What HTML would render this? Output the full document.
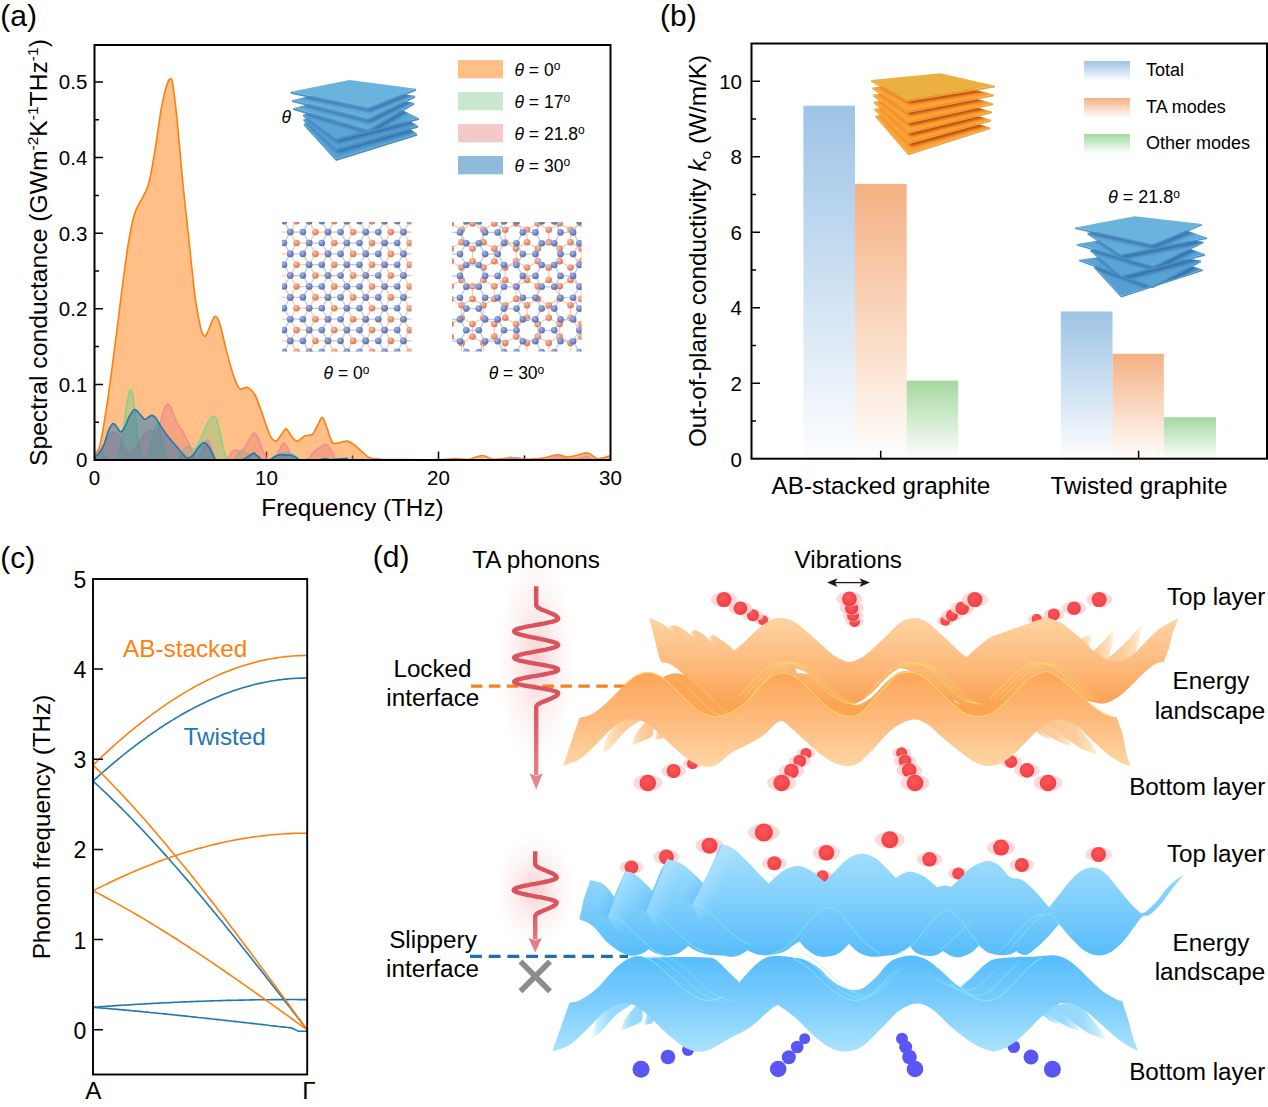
<!DOCTYPE html>
<html><head><meta charset="utf-8"><title>Figure</title>
<style>html,body{margin:0;padding:0;background:#fff}svg{display:block}</style>
</head><body>
<svg width="1268" height="1107" viewBox="0 0 1268 1107">
<rect width="1268" height="1107" fill="#fff"/>
<g id="panelA"><defs><radialGradient id="gAb" cx="0.38" cy="0.32" r="0.75"><stop offset="0" stop-color="#aab8e6"/><stop offset="0.45" stop-color="#7b8dc9"/><stop offset="1" stop-color="#55659f"/></radialGradient><radialGradient id="gAo" cx="0.38" cy="0.32" r="0.75"><stop offset="0" stop-color="#fbc0a6"/><stop offset="0.45" stop-color="#ee977a"/><stop offset="1" stop-color="#c97058"/></radialGradient><circle id="ab" r="3.3" fill="url(#gAb)"/><circle id="ao" r="3.3" fill="url(#gAo)"/><clipPath id="clipL1"><rect x="282" y="222" width="129.5" height="129.5"/></clipPath><clipPath id="clipL2"><rect x="452" y="222" width="129.5" height="129.5"/></clipPath><linearGradient id="gSt1" x1="0" y1="0" x2="1" y2="1"><stop offset="0" stop-color="#62abd8"/><stop offset="1" stop-color="#6db5de"/></linearGradient><linearGradient id="gSt2" x1="0" y1="0" x2="1" y2="0.3"><stop offset="0" stop-color="#4c98cf"/><stop offset="1" stop-color="#65aedb"/></linearGradient><clipPath id="clipA"><rect x="94.5" y="45" width="516" height="415"/></clipPath></defs><path d="M94.5 422.2h4.5M94.5 384.4h8.5M94.5 346.6h4.5M94.5 308.8h8.5M94.5 271h4.5M94.5 233.2h8.5M94.5 195.4h4.5M94.5 157.6h8.5M94.5 119.8h4.5M94.5 82h8.5M180.5 460v-4.5M266.5 460v-8.5M352.5 460v-4.5M438.5 460v-8.5M524.5 460v-4.5" stroke="#000" stroke-width="1.5" fill="none"/><g clip-path="url(#clipA)"><path d="M94.5 454C95.4 452.4 97.8 453.8 100 444.9C102.2 435.9 105.1 416.9 107.6 400.3C110.1 383.6 112.5 364.2 115 345.1C117.5 325.9 120.2 302.9 122.5 285.4C124.9 267.9 126.8 252.1 128.9 240C131 227.9 132.7 219.8 134.9 212.8C137.2 205.7 140.1 202.7 142.5 197.7C144.8 192.6 146.9 190.5 149 182.5C151.1 174.6 153 162.1 155 150C157.1 137.9 159.2 120.4 161.1 110C162.9 99.5 164.6 92.5 166.1 87.3C167.5 82.1 168.9 79.4 170 79C171.2 78.6 171.7 77.3 172.9 85C174.2 92.7 176 109.2 177.6 125.1C179.2 141 180.7 161.1 182.6 180.3C184.5 199.4 186.9 220.9 188.9 240C191 259.2 193.1 281.1 194.9 295.2C196.8 309.3 198.4 317.9 199.9 324.7C201.5 331.5 202.8 334.8 204.1 336C205.3 337.3 206.1 334.9 207.5 332.2C208.9 329.6 211.1 322.8 212.5 320.1C213.9 317.5 214.7 315.6 215.9 316.4C217.2 317.1 218.1 318.3 220.1 324.7C222 331.1 225 345.7 227.5 354.9C229.9 364.1 232.9 374.2 235 379.9C237.1 385.5 237.9 387.7 240 388.9C242.1 390.2 245.1 386.4 247.6 387.4C250.1 388.4 252.5 390.4 255 395C257.5 399.5 260.1 408 262.5 414.6C265 421.3 267.7 430.6 269.9 435.1C272.2 439.5 273.9 441.5 276 441.1C278.1 440.7 280.7 434.8 282.5 432.8C284.2 430.8 284.8 428.2 286.5 429C288.1 429.8 290.5 435.3 292.3 437.3C294.1 439.3 295.3 441.4 297.5 441.1C299.6 440.8 302.5 436.9 305 435.8C307.5 434.7 310.3 436.1 312.4 434.3C314.5 432.5 315.9 428 317.6 425.2C319.3 422.5 320.9 416.9 322.6 417.7C324.2 418.4 325.9 425.6 327.6 429.8C329.2 433.9 330.5 440.5 332.5 442.6C334.6 444.8 337.5 442.9 339.9 442.6C342.4 442.4 345 440.7 347.3 441.1C349.7 441.5 351.6 443 354.2 444.9C356.8 446.8 360.2 450.3 362.8 452.4C365.4 454.6 366.8 456.6 369.7 457.7C372.6 458.9 374.3 458.9 380 459.2C385.8 459.6 394.4 459.6 404.1 459.6C413.8 459.7 429.9 459.8 438.5 459.6C447.1 459.4 450.5 458.6 455.7 458.5C460.9 458.4 465 459.7 469.5 459.2C473.9 458.7 478.3 455.5 482.4 455.5C486.4 455.5 488.5 458.9 493.5 459.2C498.6 459.6 506.7 457.7 512.5 457.7C518.2 457.7 522.5 459.2 527.9 459.2C533.4 459.2 540.3 458.5 545.1 457.7C550 457 553.5 454.8 557.2 454.7C560.9 454.6 564.3 456.9 567.5 457C570.7 457.1 572.7 456.1 576.1 455.5C579.5 454.8 584.7 452.7 588.1 453.2C591.6 453.7 594.2 457.7 596.7 458.5C599.3 459.2 601.3 458.2 603.6 457.7C605.9 457.3 609.4 456.2 610.5 455.8L610.5 460 L94.5 460Z" fill="rgba(255,127,14,0.5)"/><path d="M94.5 454C95.4 452.4 97.8 453.8 100 444.9C102.2 435.9 105.1 416.9 107.6 400.3C110.1 383.6 112.5 364.2 115 345.1C117.5 325.9 120.2 302.9 122.5 285.4C124.9 267.9 126.8 252.1 128.9 240C131 227.9 132.7 219.8 134.9 212.8C137.2 205.7 140.1 202.7 142.5 197.7C144.8 192.6 146.9 190.5 149 182.5C151.1 174.6 153 162.1 155 150C157.1 137.9 159.2 120.4 161.1 110C162.9 99.5 164.6 92.5 166.1 87.3C167.5 82.1 168.9 79.4 170 79C171.2 78.6 171.7 77.3 172.9 85C174.2 92.7 176 109.2 177.6 125.1C179.2 141 180.7 161.1 182.6 180.3C184.5 199.4 186.9 220.9 188.9 240C191 259.2 193.1 281.1 194.9 295.2C196.8 309.3 198.4 317.9 199.9 324.7C201.5 331.5 202.8 334.8 204.1 336C205.3 337.3 206.1 334.9 207.5 332.2C208.9 329.6 211.1 322.8 212.5 320.1C213.9 317.5 214.7 315.6 215.9 316.4C217.2 317.1 218.1 318.3 220.1 324.7C222 331.1 225 345.7 227.5 354.9C229.9 364.1 232.9 374.2 235 379.9C237.1 385.5 237.9 387.7 240 388.9C242.1 390.2 245.1 386.4 247.6 387.4C250.1 388.4 252.5 390.4 255 395C257.5 399.5 260.1 408 262.5 414.6C265 421.3 267.7 430.6 269.9 435.1C272.2 439.5 273.9 441.5 276 441.1C278.1 440.7 280.7 434.8 282.5 432.8C284.2 430.8 284.8 428.2 286.5 429C288.1 429.8 290.5 435.3 292.3 437.3C294.1 439.3 295.3 441.4 297.5 441.1C299.6 440.8 302.5 436.9 305 435.8C307.5 434.7 310.3 436.1 312.4 434.3C314.5 432.5 315.9 428 317.6 425.2C319.3 422.5 320.9 416.9 322.6 417.7C324.2 418.4 325.9 425.6 327.6 429.8C329.2 433.9 330.5 440.5 332.5 442.6C334.6 444.8 337.5 442.9 339.9 442.6C342.4 442.4 345 440.7 347.3 441.1C349.7 441.5 351.6 443 354.2 444.9C356.8 446.8 360.2 450.3 362.8 452.4C365.4 454.6 366.8 456.6 369.7 457.7C372.6 458.9 374.3 458.9 380 459.2C385.8 459.6 394.4 459.6 404.1 459.6C413.8 459.7 429.9 459.8 438.5 459.6C447.1 459.4 450.5 458.6 455.7 458.5C460.9 458.4 465 459.7 469.5 459.2C473.9 458.7 478.3 455.5 482.4 455.5C486.4 455.5 488.5 458.9 493.5 459.2C498.6 459.6 506.7 457.7 512.5 457.7C518.2 457.7 522.5 459.2 527.9 459.2C533.4 459.2 540.3 458.5 545.1 457.7C550 457 553.5 454.8 557.2 454.7C560.9 454.6 564.3 456.9 567.5 457C570.7 457.1 572.7 456.1 576.1 455.5C579.5 454.8 584.7 452.7 588.1 453.2C591.6 453.7 594.2 457.7 596.7 458.5C599.3 459.2 601.3 458.2 603.6 457.7C605.9 457.3 609.4 456.2 610.5 455.8" fill="none" stroke="#ff7f0e" stroke-width="1.6" stroke-linejoin="round"/><path d="M94 459.8C94.6 459.2 96.5 457.1 97.8 455.8C99 454.5 100.3 451.8 101.6 452C102.8 452.2 104.4 455.8 105.4 457.1C106.3 458.4 105.2 459.4 107.2 459.8C109.3 460.3 115.6 461.4 117.7 459.8C119.8 458.3 119.2 454 119.9 450.8C120.5 447.6 120.8 447.2 121.8 440.7C122.7 434.1 124.4 419.4 125.5 411.6C126.7 403.9 127.9 397.7 128.7 394C129.5 390.3 130 389.6 130.6 389.6C131.2 389.6 131.7 390.3 132.5 394C133.2 397.7 134.2 404.7 135 411.6C135.9 418.6 136.7 428.9 137.5 435.6C138.4 442.3 139.3 448 140.1 452C140.8 456 141.2 458.4 141.9 459.7C142.7 461 143.6 460 144.5 460C145.3 460 146.1 461.7 147 459.7C147.9 457.8 149 453.1 150.2 448.2C151.3 443.4 152.8 434.6 153.9 430.6C155.1 426.6 156.1 424.5 157.1 424.3C158 424 158.7 425.7 159.6 429.3C160.6 432.9 161.8 440.9 162.8 445.7C163.7 450.5 164.6 456 165.3 458.3C166 460.7 165 459.7 167.2 460C169.4 460.2 176.3 460.5 178.5 460C180.8 459.5 179.8 458.2 180.4 457.1C181.1 456 181.6 454.8 182.3 453.3C183.1 451.8 183.9 449.4 184.9 448.2C185.8 447.1 187 446.4 188 446.3C189.1 446.2 190.2 447.2 191.2 447.6C192.1 448 192.8 449 193.7 448.9C194.5 448.8 194.9 449 196.2 447C197.5 445 199.4 440.9 201.3 436.9C203.1 432.9 205.9 426.3 207.6 423C209.2 419.7 210.3 418.5 211.4 417.3C212.4 416.2 213 415.8 213.9 416.1C214.7 416.3 215.5 416.2 216.4 418.6C217.3 421 218.5 426 219.6 430.6C220.6 435.1 221.7 441.3 222.7 445.7C223.8 450.1 225 454.7 225.9 457.1C226.7 459.4 226.6 459.4 227.8 459.8C228.9 460.3 231.1 460.7 232.8 459.8C234.5 459 236.2 456 237.8 454.5C239.5 453.1 241.2 451.4 242.9 451.4C244.6 451.4 246.5 453.2 247.9 454.5C249.4 455.9 250.4 458.5 251.7 459.3C253.1 460.2 253.4 459.7 256.2 459.8C258.9 459.8 265.4 460.1 268.2 459.8C271.1 459.4 271.4 458.7 273.4 457.7C275.4 456.8 278 454.8 280.3 454C282.5 453.1 284.8 452.4 286.8 452.4C288.8 452.4 290.5 453.1 292.3 454C294.1 454.8 296 456.8 297.5 457.7C298.9 458.7 296 459.3 300.9 459.7C305.8 460.1 321 460.1 326.7 460C332.4 459.9 332.4 458.9 335.3 458.9C338.2 458.9 316.4 459.8 343.9 460C371.4 460.2 472.6 460.5 500.4 460C528.2 459.5 507.3 457 510.7 457C514.2 456.9 510.2 459.2 521.1 459.6C532 460.1 565.5 460 576.1 459.8C586.7 459.6 581.8 458.5 584.7 458.5C587.6 458.5 589 459.5 593.3 459.8C597.6 460 607.6 460 610.5 460L610.5 460 L94 460Z" fill="rgba(90,200,120,0.33)"/><path d="M94 459.8C94.6 459.2 96.5 457.1 97.8 455.8C99 454.5 100.3 451.8 101.6 452C102.8 452.2 104.4 455.8 105.4 457.1C106.3 458.4 105.2 459.4 107.2 459.8C109.3 460.3 115.6 461.4 117.7 459.8C119.8 458.3 119.2 454 119.9 450.8C120.5 447.6 120.8 447.2 121.8 440.7C122.7 434.1 124.4 419.4 125.5 411.6C126.7 403.9 127.9 397.7 128.7 394C129.5 390.3 130 389.6 130.6 389.6C131.2 389.6 131.7 390.3 132.5 394C133.2 397.7 134.2 404.7 135 411.6C135.9 418.6 136.7 428.9 137.5 435.6C138.4 442.3 139.3 448 140.1 452C140.8 456 141.2 458.4 141.9 459.7C142.7 461 143.6 460 144.5 460C145.3 460 146.1 461.7 147 459.7C147.9 457.8 149 453.1 150.2 448.2C151.3 443.4 152.8 434.6 153.9 430.6C155.1 426.6 156.1 424.5 157.1 424.3C158 424 158.7 425.7 159.6 429.3C160.6 432.9 161.8 440.9 162.8 445.7C163.7 450.5 164.6 456 165.3 458.3C166 460.7 165 459.7 167.2 460C169.4 460.2 176.3 460.5 178.5 460C180.8 459.5 179.8 458.2 180.4 457.1C181.1 456 181.6 454.8 182.3 453.3C183.1 451.8 183.9 449.4 184.9 448.2C185.8 447.1 187 446.4 188 446.3C189.1 446.2 190.2 447.2 191.2 447.6C192.1 448 192.8 449 193.7 448.9C194.5 448.8 194.9 449 196.2 447C197.5 445 199.4 440.9 201.3 436.9C203.1 432.9 205.9 426.3 207.6 423C209.2 419.7 210.3 418.5 211.4 417.3C212.4 416.2 213 415.8 213.9 416.1C214.7 416.3 215.5 416.2 216.4 418.6C217.3 421 218.5 426 219.6 430.6C220.6 435.1 221.7 441.3 222.7 445.7C223.8 450.1 225 454.7 225.9 457.1C226.7 459.4 226.6 459.4 227.8 459.8C228.9 460.3 231.1 460.7 232.8 459.8C234.5 459 236.2 456 237.8 454.5C239.5 453.1 241.2 451.4 242.9 451.4C244.6 451.4 246.5 453.2 247.9 454.5C249.4 455.9 250.4 458.5 251.7 459.3C253.1 460.2 253.4 459.7 256.2 459.8C258.9 459.8 265.4 460.1 268.2 459.8C271.1 459.4 271.4 458.7 273.4 457.7C275.4 456.8 278 454.8 280.3 454C282.5 453.1 284.8 452.4 286.8 452.4C288.8 452.4 290.5 453.1 292.3 454C294.1 454.8 296 456.8 297.5 457.7C298.9 458.7 296 459.3 300.9 459.7C305.8 460.1 321 460.1 326.7 460C332.4 459.9 332.4 458.9 335.3 458.9C338.2 458.9 316.4 459.8 343.9 460C371.4 460.2 472.6 460.5 500.4 460C528.2 459.5 507.3 457 510.7 457C514.2 456.9 510.2 459.2 521.1 459.6C532 460.1 565.5 460 576.1 459.8C586.7 459.6 581.8 458.5 584.7 458.5C587.6 458.5 589 459.5 593.3 459.8C597.6 460 607.6 460 610.5 460" fill="none" stroke="rgba(110,215,150,0.85)" stroke-width="1.5" stroke-linejoin="round"/><path d="M94 458.7C95.3 457 99.3 451.9 101.6 448.2C103.9 444.6 105.8 439.5 107.9 436.9C110 434.2 112.1 432.3 114.2 432.5C116.3 432.7 118.6 435.3 120.5 438.1C122.4 441 124.2 447 125.5 449.5C126.9 452 127.4 453.1 128.7 453.3C130 453.5 131.3 452.6 133.1 450.8C134.9 448.9 137.3 444.9 139.4 441.9C141.5 439 143.8 435 145.7 433.1C147.6 431.2 149.3 430.9 150.8 430.6C152.3 430.3 153.5 431 154.6 431.2C155.6 431.4 156 433.4 157.1 431.6C158.1 429.8 159.6 424.4 160.9 420.5C162.1 416.5 163.5 410.5 164.7 407.9C165.8 405.2 166.8 404.3 167.8 404.3C168.9 404.3 169.8 405.6 171 407.9C172.1 410.1 173.5 415 174.8 417.9C176 420.9 177.3 423.4 178.5 425.5C179.8 427.6 181.1 428.5 182.3 430.6C183.6 432.7 184.9 435.6 186.1 438.1C187.4 440.7 188.7 443 189.9 445.7C191.1 448.4 192.1 452.3 193.1 454.5C194 456.8 194.6 458.5 195.6 459.1C196.5 459.7 197.8 459.3 198.7 458.3C199.7 457.4 200.2 455.8 201.3 453.3C202.3 450.8 204 445.5 205 443.2C206.1 440.9 206.7 439.4 207.6 439.4C208.4 439.4 209.1 440.9 210.1 443.2C211 445.5 212.3 450.6 213.2 453.3C214.2 455.9 214.6 458 215.8 459.1C216.9 460.2 218.4 459.8 220.2 459.8C222 459.9 224.9 460.3 226.5 459.6C228.1 458.9 228.7 457.1 229.6 455.8C230.6 454.5 231.2 453 232.2 452C233.1 451.1 234.2 450.3 235.3 450.1C236.5 449.9 237.7 450.9 239.1 450.8C240.5 450.6 242.1 450.7 243.5 449.2C245 447.8 246.6 444.2 247.9 441.9C249.3 439.7 250.6 437.1 251.7 435.6C252.8 434.1 253.4 432.8 254.5 433.1C255.5 433.4 256.6 434.6 257.9 437.3C259.2 440 261 446.3 262.2 449.4C263.4 452.6 264.4 454.5 265.3 456.2C266.2 457.9 266.5 459.1 267.9 459.6C269.2 460.2 271.9 460.3 273.4 459.6C274.9 458.9 275.5 457.7 276.8 455.5C278.1 453.3 279.9 448.4 281.1 446.4C282.3 444.3 282.9 443 283.9 443.1C284.9 443.3 285.9 445 287.1 447.1C288.4 449.3 290.1 454.2 291.4 456.2C292.7 458.3 292.7 458.8 294.9 459.4C297 460 302 459.9 304.3 459.8C306.6 459.6 307.1 459.8 308.6 458.5C310.2 457.2 311.9 453.9 313.8 452.1C315.7 450.2 317.8 448.8 319.8 447.5C321.8 446.3 324.3 444.5 325.8 444.4C327.4 444.4 328 445.3 329.3 447.1C330.6 449 332.4 453.4 333.6 455.5C334.8 457.5 331.9 458.7 336.5 459.4C341.1 460.1 355.6 459.9 361.1 459.8C366.6 459.8 367.4 459.5 369.7 459.2C372 459 372.9 458.5 374.9 458.5C376.9 458.5 379.2 459.1 381.7 459.4C384.3 459.6 370.8 459.9 390.3 460C409.8 460.1 479.2 460.3 498.7 460C518.2 459.7 504.4 458.9 507.3 458.5C510.2 458.1 513 457.6 515.9 457.7C518.8 457.9 519.1 459 524.5 459.2C529.9 459.5 543.1 459.9 548.6 459.2C554 458.6 554.6 455.6 557.2 455.5C559.8 455.3 560.6 458 564.1 458.5C567.5 459 574.1 458.9 577.8 458.5C581.5 458.1 583.8 456.1 586.4 456.2C589 456.3 589.3 458.7 593.3 459.2C597.3 459.8 607.6 459.6 610.5 459.6L610.5 460 L94 460Z" fill="rgba(230,90,110,0.28)"/><path d="M94 458.7C95.3 457 99.3 451.9 101.6 448.2C103.9 444.6 105.8 439.5 107.9 436.9C110 434.2 112.1 432.3 114.2 432.5C116.3 432.7 118.6 435.3 120.5 438.1C122.4 441 124.2 447 125.5 449.5C126.9 452 127.4 453.1 128.7 453.3C130 453.5 131.3 452.6 133.1 450.8C134.9 448.9 137.3 444.9 139.4 441.9C141.5 439 143.8 435 145.7 433.1C147.6 431.2 149.3 430.9 150.8 430.6C152.3 430.3 153.5 431 154.6 431.2C155.6 431.4 156 433.4 157.1 431.6C158.1 429.8 159.6 424.4 160.9 420.5C162.1 416.5 163.5 410.5 164.7 407.9C165.8 405.2 166.8 404.3 167.8 404.3C168.9 404.3 169.8 405.6 171 407.9C172.1 410.1 173.5 415 174.8 417.9C176 420.9 177.3 423.4 178.5 425.5C179.8 427.6 181.1 428.5 182.3 430.6C183.6 432.7 184.9 435.6 186.1 438.1C187.4 440.7 188.7 443 189.9 445.7C191.1 448.4 192.1 452.3 193.1 454.5C194 456.8 194.6 458.5 195.6 459.1C196.5 459.7 197.8 459.3 198.7 458.3C199.7 457.4 200.2 455.8 201.3 453.3C202.3 450.8 204 445.5 205 443.2C206.1 440.9 206.7 439.4 207.6 439.4C208.4 439.4 209.1 440.9 210.1 443.2C211 445.5 212.3 450.6 213.2 453.3C214.2 455.9 214.6 458 215.8 459.1C216.9 460.2 218.4 459.8 220.2 459.8C222 459.9 224.9 460.3 226.5 459.6C228.1 458.9 228.7 457.1 229.6 455.8C230.6 454.5 231.2 453 232.2 452C233.1 451.1 234.2 450.3 235.3 450.1C236.5 449.9 237.7 450.9 239.1 450.8C240.5 450.6 242.1 450.7 243.5 449.2C245 447.8 246.6 444.2 247.9 441.9C249.3 439.7 250.6 437.1 251.7 435.6C252.8 434.1 253.4 432.8 254.5 433.1C255.5 433.4 256.6 434.6 257.9 437.3C259.2 440 261 446.3 262.2 449.4C263.4 452.6 264.4 454.5 265.3 456.2C266.2 457.9 266.5 459.1 267.9 459.6C269.2 460.2 271.9 460.3 273.4 459.6C274.9 458.9 275.5 457.7 276.8 455.5C278.1 453.3 279.9 448.4 281.1 446.4C282.3 444.3 282.9 443 283.9 443.1C284.9 443.3 285.9 445 287.1 447.1C288.4 449.3 290.1 454.2 291.4 456.2C292.7 458.3 292.7 458.8 294.9 459.4C297 460 302 459.9 304.3 459.8C306.6 459.6 307.1 459.8 308.6 458.5C310.2 457.2 311.9 453.9 313.8 452.1C315.7 450.2 317.8 448.8 319.8 447.5C321.8 446.3 324.3 444.5 325.8 444.4C327.4 444.4 328 445.3 329.3 447.1C330.6 449 332.4 453.4 333.6 455.5C334.8 457.5 331.9 458.7 336.5 459.4C341.1 460.1 355.6 459.9 361.1 459.8C366.6 459.8 367.4 459.5 369.7 459.2C372 459 372.9 458.5 374.9 458.5C376.9 458.5 379.2 459.1 381.7 459.4C384.3 459.6 370.8 459.9 390.3 460C409.8 460.1 479.2 460.3 498.7 460C518.2 459.7 504.4 458.9 507.3 458.5C510.2 458.1 513 457.6 515.9 457.7C518.8 457.9 519.1 459 524.5 459.2C529.9 459.5 543.1 459.9 548.6 459.2C554 458.6 554.6 455.6 557.2 455.5C559.8 455.3 560.6 458 564.1 458.5C567.5 459 574.1 458.9 577.8 458.5C581.5 458.1 583.8 456.1 586.4 456.2C589 456.3 589.3 458.7 593.3 459.2C597.3 459.8 607.6 459.6 610.5 459.6" fill="none" stroke="rgba(232,130,160,0.8)" stroke-width="1.5" stroke-linejoin="round"/><path d="M94 457.1C94.8 456.4 97.4 455.4 99 453.3C100.7 451.2 102.5 448.2 104.1 444.4C105.7 440.7 107 434 108.5 430.6C110 427.1 111.6 424.3 112.9 423.6C114.3 423 115.5 425.4 116.7 426.8C118 428.1 119.2 431.6 120.5 431.8C121.8 432 122.8 430.6 124.3 428C125.8 425.5 127.6 419.8 129.3 416.7C131 413.6 132.7 409.9 134.4 409.4C136.1 408.8 137.7 411.9 139.4 413.5C141.1 415.2 143 418.6 144.5 419.2C145.9 419.8 147 417.9 148.3 417.3C149.5 416.7 150.8 415.3 152 415.4C153.3 415.5 154.6 416.5 155.8 417.9C157.1 419.4 157.7 421.3 159.6 424.3C161.5 427.2 164.7 432.3 167.2 435.6C169.7 439 172.2 441.5 174.8 444.4C177.3 447.4 180.2 451 182.3 453.3C184.4 455.5 185.7 457.5 187.4 457.9C189.1 458.4 190.5 457.6 192.4 455.8C194.3 454 196.7 449.2 198.7 447C200.7 444.8 202.5 442.2 204.4 442.6C206.3 442.9 208.5 446.4 210.1 448.9C211.7 451.3 212.9 455.3 213.9 457.1C214.8 458.9 214.7 459.2 215.8 459.7C216.8 460.2 216.3 459.9 220.2 460C224.1 460 235.1 460.1 239.1 460C243.1 459.8 242.5 459.7 244.2 459C245.8 458.3 247.6 456.8 249.2 455.8C250.8 454.8 253.1 453.4 254 453C254.9 452.7 253.7 453 254.5 453.6C255.3 454.3 257.5 456 258.8 457C260 458 260.7 459.3 262 459.8C263.3 460.3 265.2 460 266.5 460C267.8 460 268.5 460.4 269.9 459.8C271.4 459.1 273.4 457.1 275.1 456.2C276.8 455.4 278.3 454.9 280.3 454.7C282.3 454.5 285.1 455 287.1 455.1C289.1 455.2 290.6 454.9 292.3 455.5C294 456 296 457.8 297.5 458.5C298.9 459.2 297.5 459.6 300.9 459.8C304.3 460.1 314.1 460.2 318.1 460C322.1 459.8 322.7 458.5 325 458.5C327.3 458.5 329.3 459.8 331.9 460C334.4 460.2 337.9 460 340.5 459.8C343 459.5 345 458.5 347.3 458.5C349.6 458.5 310.4 459.7 354.2 460C398.1 460.3 567.8 460 610.5 460L610.5 460 L94 460Z" fill="rgba(31,119,180,0.5)"/><path d="M94 457.1C94.8 456.4 97.4 455.4 99 453.3C100.7 451.2 102.5 448.2 104.1 444.4C105.7 440.7 107 434 108.5 430.6C110 427.1 111.6 424.3 112.9 423.6C114.3 423 115.5 425.4 116.7 426.8C118 428.1 119.2 431.6 120.5 431.8C121.8 432 122.8 430.6 124.3 428C125.8 425.5 127.6 419.8 129.3 416.7C131 413.6 132.7 409.9 134.4 409.4C136.1 408.8 137.7 411.9 139.4 413.5C141.1 415.2 143 418.6 144.5 419.2C145.9 419.8 147 417.9 148.3 417.3C149.5 416.7 150.8 415.3 152 415.4C153.3 415.5 154.6 416.5 155.8 417.9C157.1 419.4 157.7 421.3 159.6 424.3C161.5 427.2 164.7 432.3 167.2 435.6C169.7 439 172.2 441.5 174.8 444.4C177.3 447.4 180.2 451 182.3 453.3C184.4 455.5 185.7 457.5 187.4 457.9C189.1 458.4 190.5 457.6 192.4 455.8C194.3 454 196.7 449.2 198.7 447C200.7 444.8 202.5 442.2 204.4 442.6C206.3 442.9 208.5 446.4 210.1 448.9C211.7 451.3 212.9 455.3 213.9 457.1C214.8 458.9 214.7 459.2 215.8 459.7C216.8 460.2 216.3 459.9 220.2 460C224.1 460 235.1 460.1 239.1 460C243.1 459.8 242.5 459.7 244.2 459C245.8 458.3 247.6 456.8 249.2 455.8C250.8 454.8 253.1 453.4 254 453C254.9 452.7 253.7 453 254.5 453.6C255.3 454.3 257.5 456 258.8 457C260 458 260.7 459.3 262 459.8C263.3 460.3 265.2 460 266.5 460C267.8 460 268.5 460.4 269.9 459.8C271.4 459.1 273.4 457.1 275.1 456.2C276.8 455.4 278.3 454.9 280.3 454.7C282.3 454.5 285.1 455 287.1 455.1C289.1 455.2 290.6 454.9 292.3 455.5C294 456 296 457.8 297.5 458.5C298.9 459.2 297.5 459.6 300.9 459.8C304.3 460.1 314.1 460.2 318.1 460C322.1 459.8 322.7 458.5 325 458.5C327.3 458.5 329.3 459.8 331.9 460C334.4 460.2 337.9 460 340.5 459.8C343 459.5 345 458.5 347.3 458.5C349.6 458.5 310.4 459.7 354.2 460C398.1 460.3 567.8 460 610.5 460" fill="none" stroke="#1f77b4" stroke-width="1.6" stroke-linejoin="round"/></g><rect x="94.5" y="45" width="516" height="415" fill="none" stroke="#000" stroke-width="2"/><g font-family='"Liberation Sans", Arial, Helvetica, sans-serif' font-size="20.5" fill="#000"><text x="87.3" y="467.3" text-anchor="end">0</text><text x="87.3" y="391.7" text-anchor="end">0.1</text><text x="87.3" y="316.1" text-anchor="end">0.2</text><text x="87.3" y="240.5" text-anchor="end">0.3</text><text x="87.3" y="164.9" text-anchor="end">0.4</text><text x="87.3" y="89.3" text-anchor="end">0.5</text><text x="94.5" y="484.5" text-anchor="middle">0</text><text x="266.5" y="484.5" text-anchor="middle">10</text><text x="438.5" y="484.5" text-anchor="middle">20</text><text x="610.5" y="484.5" text-anchor="middle">30</text></g><g font-family='"Liberation Sans", Arial, Helvetica, sans-serif' font-size="24.3" fill="#000"><text x="352.5" y="515.5" text-anchor="middle">Frequency (THz)</text><text transform="translate(47.3 252.6) rotate(-90)" text-anchor="middle" font-size="24.7">Spectral conductance (GWm<tspan font-size="15.5" dy="-9">-2</tspan><tspan dy="9">K</tspan><tspan font-size="15.5" dy="-9">-1</tspan><tspan dy="9">THz</tspan><tspan font-size="15.5" dy="-9">-1</tspan><tspan dy="9">)</tspan></text></g><text x="0.3" y="25.8" font-family='"Liberation Sans", Arial, Helvetica, sans-serif' font-size="30" fill="#000">(a)</text><g font-family='"Liberation Sans", Arial, Helvetica, sans-serif' font-size="17.5" fill="#000"><rect x="458" y="60" width="45" height="18.3" fill="rgba(255,127,14,0.5)"/><text x="514.5" y="75.5"><tspan font-style="italic">θ</tspan> = 0<tspan font-size="12" dy="-5.5">o</tspan></text><rect x="458" y="92" width="45" height="18.3" fill="rgba(60,170,70,0.27)"/><text x="514.5" y="107.5"><tspan font-style="italic">θ</tspan> = 17<tspan font-size="12" dy="-5.5">o</tspan></text><rect x="458" y="124" width="45" height="18.3" fill="rgba(214,39,40,0.25)"/><text x="514.5" y="139.5"><tspan font-style="italic">θ</tspan> = 21.8<tspan font-size="12" dy="-5.5">o</tspan></text><rect x="458" y="156" width="45" height="18.3" fill="rgba(31,119,180,0.5)"/><text x="514.5" y="171.5"><tspan font-style="italic">θ</tspan> = 30<tspan font-size="12" dy="-5.5">o</tspan></text><text x="281.5" y="122.5" font-style="italic">θ</text><text x="346.5" y="379.3" text-anchor="middle"><tspan font-style="italic">θ</tspan> = 0<tspan font-size="12" dy="-5.5">o</tspan></text><text x="516.5" y="379.3" text-anchor="middle"><tspan font-style="italic">θ</tspan> = 30<tspan font-size="12" dy="-5.5">o</tspan></text></g><defs><filter id="sabl" x="-20%" y="-20%" width="140%" height="140%"><feGaussianBlur stdDeviation="1.8"/></filter><clipPath id="sac0"><path d="M303.8 123.5L383.6 111.6L417.1 133.7L336.1 159Z"/></clipPath><clipPath id="sac1"><path d="M303.4 119L383.6 106.6L418 125.8L335.9 148.9Z"/></clipPath><clipPath id="sac2"><path d="M303.1 114.4L383.6 101.5L418.9 117.9L335.6 138.8Z"/></clipPath><clipPath id="sac3"><path d="M293.3 108L349.5 95.2L414.1 102.8L367.8 130.1Z"/></clipPath><clipPath id="sac4"><path d="M292.1 99.9L349.5 87.7L415.1 95.7L367.8 119Z"/></clipPath><clipPath id="sac5"><path d="M290.8 91.8L349.5 80.1L416.1 88.7L367.8 107.9Z"/></clipPath></defs><path d="M303.8 123.5L336.1 159L417.1 133.7L417.1 135.7L336.1 161L303.8 125.5Z" fill="#4b90c4"/><path d="M303.8 123.5L383.6 111.6L417.1 133.7L336.1 159Z" fill="#559fd3"/><g clip-path="url(#sac0)"><path d="M305.9 123.2L386.1 110.8L420.5 130L338.4 153.1Z" fill="#1a5794" opacity="0.6" filter="url(#sabl)"/></g><path d="M303.4 119L335.9 148.9L418 125.8L418 127.8L335.9 150.9L303.4 121Z" fill="#4b90c4"/><path d="M303.4 119L383.6 106.6L418 125.8L335.9 148.9Z" fill="#559fd3"/><g clip-path="url(#sac1)"><path d="M305.6 118.6L386.1 105.7L421.4 122.1L338.1 143Z" fill="#1a5794" opacity="0.6" filter="url(#sabl)"/></g><path d="M303.1 114.4L335.6 138.8L418.9 117.9L418.9 119.9L335.6 140.8L303.1 116.4Z" fill="#4b90c4"/><path d="M303.1 114.4L383.6 101.5L418.9 117.9L335.6 138.8Z" fill="#5ba5d7"/><g clip-path="url(#sac2)"><path d="M295.8 112.2L352 99.4L416.6 107L370.3 134.3Z" fill="#1a5794" opacity="0.6" filter="url(#sabl)"/></g><path d="M293.3 108L367.8 130.1L414.1 102.8L414.1 104.8L367.8 132.1L293.3 110Z" fill="#4b90c4"/><path d="M293.3 108L349.5 95.2L414.1 102.8L367.8 130.1Z" fill="#62acda"/><g clip-path="url(#sac3)"><path d="M294.6 104.1L352 91.9L417.6 99.9L370.3 123.2Z" fill="#1a5794" opacity="0.6" filter="url(#sabl)"/></g><path d="M292.1 99.9L367.8 119L415.1 95.7L415.1 97.7L367.8 121L292.1 101.9Z" fill="#4b90c4"/><path d="M292.1 99.9L349.5 87.7L415.1 95.7L367.8 119Z" fill="#65aedb"/><g clip-path="url(#sac4)"><path d="M293.3 96L352 84.3L418.6 92.9L370.3 112.1Z" fill="#1a5794" opacity="0.6" filter="url(#sabl)"/></g><path d="M290.8 91.8L367.8 107.9L416.1 88.7L416.1 90.7L367.8 109.9L290.8 93.8Z" fill="#4b90c4"/><path d="M290.8 91.8L349.5 80.1L416.1 88.7L367.8 107.9Z" fill="#6ab3dd"/><g clip-path="url(#clipL1)"><path d="M258.8 373.6L271.4 373.6M258.8 373.6L252.5 384.5M258.8 373.6L252.5 362.7M258.8 351.8L271.4 351.8M258.8 351.8L252.5 362.7M258.8 351.8L252.5 340.9M277.7 362.7L290.3 362.7M277.7 362.7L271.4 373.6M277.7 362.7L271.4 351.8M296.5 373.6L309.1 373.6M296.5 373.6L290.3 384.5M296.5 373.6L290.3 362.7M258.8 330.1L271.4 330.1M258.8 330.1L252.5 340.9M258.8 330.1L252.5 319.2M277.7 340.9L290.3 340.9M277.7 340.9L271.4 351.8M277.7 340.9L271.4 330.1M296.5 351.8L309.1 351.8M296.5 351.8L290.3 362.7M296.5 351.8L290.3 340.9M315.4 362.7L328 362.7M315.4 362.7L309.1 373.6M315.4 362.7L309.1 351.8M334.2 373.6L346.8 373.6M334.2 373.6L328 384.5M334.2 373.6L328 362.7M258.8 308.3L271.4 308.3M258.8 308.3L252.5 319.2M258.8 308.3L252.5 297.4M277.7 319.2L290.3 319.2M277.7 319.2L271.4 330.1M277.7 319.2L271.4 308.3M296.5 330.1L309.1 330.1M296.5 330.1L290.3 340.9M296.5 330.1L290.3 319.2M315.4 340.9L328 340.9M315.4 340.9L309.1 351.8M315.4 340.9L309.1 330.1M334.2 351.8L346.8 351.8M334.2 351.8L328 362.7M334.2 351.8L328 340.9M353.1 362.7L365.7 362.7M353.1 362.7L346.8 373.6M353.1 362.7L346.8 351.8M372 373.6L384.5 373.6M372 373.6L365.7 384.5M372 373.6L365.7 362.7M258.8 286.5L271.4 286.5M258.8 286.5L252.5 297.4M258.8 286.5L252.5 275.6M277.7 297.4L290.3 297.4M277.7 297.4L271.4 308.3M277.7 297.4L271.4 286.5M296.5 308.3L309.1 308.3M296.5 308.3L290.3 319.2M296.5 308.3L290.3 297.4M315.4 319.2L328 319.2M315.4 319.2L309.1 330.1M315.4 319.2L309.1 308.3M334.2 330.1L346.8 330.1M334.2 330.1L328 340.9M334.2 330.1L328 319.2M353.1 340.9L365.7 340.9M353.1 340.9L346.8 351.8M353.1 340.9L346.8 330.1M372 351.8L384.5 351.8M372 351.8L365.7 362.7M372 351.8L365.7 340.9M390.8 362.7L403.4 362.7M390.8 362.7L384.5 373.6M390.8 362.7L384.5 351.8M409.7 373.6L422.2 373.6M409.7 373.6L403.4 384.5M409.7 373.6L403.4 362.7M258.8 264.7L271.4 264.7M258.8 264.7L252.5 275.6M258.8 264.7L252.5 253.9M277.7 275.6L290.3 275.6M277.7 275.6L271.4 286.5M277.7 275.6L271.4 264.7M296.5 286.5L309.1 286.5M296.5 286.5L290.3 297.4M296.5 286.5L290.3 275.6M315.4 297.4L328 297.4M315.4 297.4L309.1 308.3M315.4 297.4L309.1 286.5M334.2 308.3L346.8 308.3M334.2 308.3L328 319.2M334.2 308.3L328 297.4M353.1 319.2L365.7 319.2M353.1 319.2L346.8 330.1M353.1 319.2L346.8 308.3M372 330.1L384.5 330.1M372 330.1L365.7 340.9M372 330.1L365.7 319.2M390.8 340.9L403.4 340.9M390.8 340.9L384.5 351.8M390.8 340.9L384.5 330.1M409.7 351.8L422.2 351.8M409.7 351.8L403.4 362.7M409.7 351.8L403.4 340.9M428.5 362.7L441.1 362.7M428.5 362.7L422.2 373.6M428.5 362.7L422.2 351.8M258.8 243L271.4 243M258.8 243L252.5 253.9M258.8 243L252.5 232.1M277.7 253.9L290.3 253.9M277.7 253.9L271.4 264.7M277.7 253.9L271.4 243M296.5 264.7L309.1 264.7M296.5 264.7L290.3 275.6M296.5 264.7L290.3 253.9M315.4 275.6L328 275.6M315.4 275.6L309.1 286.5M315.4 275.6L309.1 264.7M334.2 286.5L346.8 286.5M334.2 286.5L328 297.4M334.2 286.5L328 275.6M353.1 297.4L365.7 297.4M353.1 297.4L346.8 308.3M353.1 297.4L346.8 286.5M372 308.3L384.5 308.3M372 308.3L365.7 319.2M372 308.3L365.7 297.4M390.8 319.2L403.4 319.2M390.8 319.2L384.5 330.1M390.8 319.2L384.5 308.3M409.7 330.1L422.2 330.1M409.7 330.1L403.4 340.9M409.7 330.1L403.4 319.2M428.5 340.9L441.1 340.9M428.5 340.9L422.2 351.8M428.5 340.9L422.2 330.1M258.8 221.2L271.4 221.2M258.8 221.2L252.5 232.1M258.8 221.2L252.5 210.3M277.7 232.1L290.3 232.1M277.7 232.1L271.4 243M277.7 232.1L271.4 221.2M296.5 243L309.1 243M296.5 243L290.3 253.9M296.5 243L290.3 232.1M315.4 253.9L328 253.9M315.4 253.9L309.1 264.7M315.4 253.9L309.1 243M334.2 264.7L346.8 264.7M334.2 264.7L328 275.6M334.2 264.7L328 253.9M353.1 275.6L365.7 275.6M353.1 275.6L346.8 286.5M353.1 275.6L346.8 264.7M372 286.5L384.5 286.5M372 286.5L365.7 297.4M372 286.5L365.7 275.6M390.8 297.4L403.4 297.4M390.8 297.4L384.5 308.3M390.8 297.4L384.5 286.5M409.7 308.3L422.2 308.3M409.7 308.3L403.4 319.2M409.7 308.3L403.4 297.4M428.5 319.2L441.1 319.2M428.5 319.2L422.2 330.1M428.5 319.2L422.2 308.3M258.8 199.4L271.4 199.4M258.8 199.4L252.5 210.3M258.8 199.4L252.5 188.5M277.7 210.3L290.3 210.3M277.7 210.3L271.4 221.2M277.7 210.3L271.4 199.4M296.5 221.2L309.1 221.2M296.5 221.2L290.3 232.1M296.5 221.2L290.3 210.3M315.4 232.1L328 232.1M315.4 232.1L309.1 243M315.4 232.1L309.1 221.2M334.2 243L346.8 243M334.2 243L328 253.9M334.2 243L328 232.1M353.1 253.9L365.7 253.9M353.1 253.9L346.8 264.7M353.1 253.9L346.8 243M372 264.7L384.5 264.7M372 264.7L365.7 275.6M372 264.7L365.7 253.9M390.8 275.6L403.4 275.6M390.8 275.6L384.5 286.5M390.8 275.6L384.5 264.7M409.7 286.5L422.2 286.5M409.7 286.5L403.4 297.4M409.7 286.5L403.4 275.6M428.5 297.4L441.1 297.4M428.5 297.4L422.2 308.3M428.5 297.4L422.2 286.5M296.5 199.4L309.1 199.4M296.5 199.4L290.3 210.3M296.5 199.4L290.3 188.5M315.4 210.3L328 210.3M315.4 210.3L309.1 221.2M315.4 210.3L309.1 199.4M334.2 221.2L346.8 221.2M334.2 221.2L328 232.1M334.2 221.2L328 210.3M353.1 232.1L365.7 232.1M353.1 232.1L346.8 243M353.1 232.1L346.8 221.2M372 243L384.5 243M372 243L365.7 253.9M372 243L365.7 232.1M390.8 253.9L403.4 253.9M390.8 253.9L384.5 264.7M390.8 253.9L384.5 243M409.7 264.7L422.2 264.7M409.7 264.7L403.4 275.6M409.7 264.7L403.4 253.9M428.5 275.6L441.1 275.6M428.5 275.6L422.2 286.5M428.5 275.6L422.2 264.7M334.2 199.4L346.8 199.4M334.2 199.4L328 210.3M334.2 199.4L328 188.5M353.1 210.3L365.7 210.3M353.1 210.3L346.8 221.2M353.1 210.3L346.8 199.4M372 221.2L384.5 221.2M372 221.2L365.7 232.1M372 221.2L365.7 210.3M390.8 232.1L403.4 232.1M390.8 232.1L384.5 243M390.8 232.1L384.5 221.2M409.7 243L422.2 243M409.7 243L403.4 253.9M409.7 243L403.4 232.1M428.5 253.9L441.1 253.9M428.5 253.9L422.2 264.7M428.5 253.9L422.2 243M372 199.4L384.5 199.4M372 199.4L365.7 210.3M372 199.4L365.7 188.5M390.8 210.3L403.4 210.3M390.8 210.3L384.5 221.2M390.8 210.3L384.5 199.4M409.7 221.2L422.2 221.2M409.7 221.2L403.4 232.1M409.7 221.2L403.4 210.3M428.5 232.1L441.1 232.1M428.5 232.1L422.2 243M428.5 232.1L422.2 221.2M409.7 199.4L422.2 199.4M409.7 199.4L403.4 210.3M409.7 199.4L403.4 188.5M428.5 210.3L441.1 210.3M428.5 210.3L422.2 221.2M428.5 210.3L422.2 199.4" stroke="#f8cba6" stroke-width="1.25" fill="none"/><use href="#ao" x="258.8" y="373.6"/><use href="#ao" x="271.4" y="373.6"/><use href="#ao" x="258.8" y="351.8"/><use href="#ao" x="271.4" y="351.8"/><use href="#ao" x="277.7" y="362.7"/><use href="#ao" x="290.3" y="362.7"/><use href="#ao" x="296.5" y="373.6"/><use href="#ao" x="309.1" y="373.6"/><use href="#ao" x="258.8" y="330.1"/><use href="#ao" x="271.4" y="330.1"/><use href="#ao" x="277.7" y="340.9"/><use href="#ao" x="290.3" y="340.9"/><use href="#ao" x="296.5" y="351.8"/><use href="#ao" x="309.1" y="351.8"/><use href="#ao" x="315.4" y="362.7"/><use href="#ao" x="328" y="362.7"/><use href="#ao" x="334.2" y="373.6"/><use href="#ao" x="346.8" y="373.6"/><use href="#ao" x="258.8" y="308.3"/><use href="#ao" x="271.4" y="308.3"/><use href="#ao" x="277.7" y="319.2"/><use href="#ao" x="290.3" y="319.2"/><use href="#ao" x="296.5" y="330.1"/><use href="#ao" x="309.1" y="330.1"/><use href="#ao" x="315.4" y="340.9"/><use href="#ao" x="328" y="340.9"/><use href="#ao" x="334.2" y="351.8"/><use href="#ao" x="346.8" y="351.8"/><use href="#ao" x="353.1" y="362.7"/><use href="#ao" x="365.7" y="362.7"/><use href="#ao" x="372" y="373.6"/><use href="#ao" x="384.5" y="373.6"/><use href="#ao" x="258.8" y="286.5"/><use href="#ao" x="271.4" y="286.5"/><use href="#ao" x="277.7" y="297.4"/><use href="#ao" x="290.3" y="297.4"/><use href="#ao" x="296.5" y="308.3"/><use href="#ao" x="309.1" y="308.3"/><use href="#ao" x="315.4" y="319.2"/><use href="#ao" x="328" y="319.2"/><use href="#ao" x="334.2" y="330.1"/><use href="#ao" x="346.8" y="330.1"/><use href="#ao" x="353.1" y="340.9"/><use href="#ao" x="365.7" y="340.9"/><use href="#ao" x="372" y="351.8"/><use href="#ao" x="384.5" y="351.8"/><use href="#ao" x="390.8" y="362.7"/><use href="#ao" x="403.4" y="362.7"/><use href="#ao" x="409.7" y="373.6"/><use href="#ao" x="422.2" y="373.6"/><use href="#ao" x="258.8" y="264.7"/><use href="#ao" x="271.4" y="264.7"/><use href="#ao" x="277.7" y="275.6"/><use href="#ao" x="290.3" y="275.6"/><use href="#ao" x="296.5" y="286.5"/><use href="#ao" x="309.1" y="286.5"/><use href="#ao" x="315.4" y="297.4"/><use href="#ao" x="328" y="297.4"/><use href="#ao" x="334.2" y="308.3"/><use href="#ao" x="346.8" y="308.3"/><use href="#ao" x="353.1" y="319.2"/><use href="#ao" x="365.7" y="319.2"/><use href="#ao" x="372" y="330.1"/><use href="#ao" x="384.5" y="330.1"/><use href="#ao" x="390.8" y="340.9"/><use href="#ao" x="403.4" y="340.9"/><use href="#ao" x="409.7" y="351.8"/><use href="#ao" x="422.2" y="351.8"/><use href="#ao" x="428.5" y="362.7"/><use href="#ao" x="441.1" y="362.7"/><use href="#ao" x="258.8" y="243"/><use href="#ao" x="271.4" y="243"/><use href="#ao" x="277.7" y="253.9"/><use href="#ao" x="290.3" y="253.9"/><use href="#ao" x="296.5" y="264.7"/><use href="#ao" x="309.1" y="264.7"/><use href="#ao" x="315.4" y="275.6"/><use href="#ao" x="328" y="275.6"/><use href="#ao" x="334.2" y="286.5"/><use href="#ao" x="346.8" y="286.5"/><use href="#ao" x="353.1" y="297.4"/><use href="#ao" x="365.7" y="297.4"/><use href="#ao" x="372" y="308.3"/><use href="#ao" x="384.5" y="308.3"/><use href="#ao" x="390.8" y="319.2"/><use href="#ao" x="403.4" y="319.2"/><use href="#ao" x="409.7" y="330.1"/><use href="#ao" x="422.2" y="330.1"/><use href="#ao" x="428.5" y="340.9"/><use href="#ao" x="441.1" y="340.9"/><use href="#ao" x="258.8" y="221.2"/><use href="#ao" x="271.4" y="221.2"/><use href="#ao" x="277.7" y="232.1"/><use href="#ao" x="290.3" y="232.1"/><use href="#ao" x="296.5" y="243"/><use href="#ao" x="309.1" y="243"/><use href="#ao" x="315.4" y="253.9"/><use href="#ao" x="328" y="253.9"/><use href="#ao" x="334.2" y="264.7"/><use href="#ao" x="346.8" y="264.7"/><use href="#ao" x="353.1" y="275.6"/><use href="#ao" x="365.7" y="275.6"/><use href="#ao" x="372" y="286.5"/><use href="#ao" x="384.5" y="286.5"/><use href="#ao" x="390.8" y="297.4"/><use href="#ao" x="403.4" y="297.4"/><use href="#ao" x="409.7" y="308.3"/><use href="#ao" x="422.2" y="308.3"/><use href="#ao" x="428.5" y="319.2"/><use href="#ao" x="441.1" y="319.2"/><use href="#ao" x="258.8" y="199.4"/><use href="#ao" x="271.4" y="199.4"/><use href="#ao" x="277.7" y="210.3"/><use href="#ao" x="290.3" y="210.3"/><use href="#ao" x="296.5" y="221.2"/><use href="#ao" x="309.1" y="221.2"/><use href="#ao" x="315.4" y="232.1"/><use href="#ao" x="328" y="232.1"/><use href="#ao" x="334.2" y="243"/><use href="#ao" x="346.8" y="243"/><use href="#ao" x="353.1" y="253.9"/><use href="#ao" x="365.7" y="253.9"/><use href="#ao" x="372" y="264.7"/><use href="#ao" x="384.5" y="264.7"/><use href="#ao" x="390.8" y="275.6"/><use href="#ao" x="403.4" y="275.6"/><use href="#ao" x="409.7" y="286.5"/><use href="#ao" x="422.2" y="286.5"/><use href="#ao" x="428.5" y="297.4"/><use href="#ao" x="441.1" y="297.4"/><use href="#ao" x="296.5" y="199.4"/><use href="#ao" x="309.1" y="199.4"/><use href="#ao" x="315.4" y="210.3"/><use href="#ao" x="328" y="210.3"/><use href="#ao" x="334.2" y="221.2"/><use href="#ao" x="346.8" y="221.2"/><use href="#ao" x="353.1" y="232.1"/><use href="#ao" x="365.7" y="232.1"/><use href="#ao" x="372" y="243"/><use href="#ao" x="384.5" y="243"/><use href="#ao" x="390.8" y="253.9"/><use href="#ao" x="403.4" y="253.9"/><use href="#ao" x="409.7" y="264.7"/><use href="#ao" x="422.2" y="264.7"/><use href="#ao" x="428.5" y="275.6"/><use href="#ao" x="441.1" y="275.6"/><use href="#ao" x="334.2" y="199.4"/><use href="#ao" x="346.8" y="199.4"/><use href="#ao" x="353.1" y="210.3"/><use href="#ao" x="365.7" y="210.3"/><use href="#ao" x="372" y="221.2"/><use href="#ao" x="384.5" y="221.2"/><use href="#ao" x="390.8" y="232.1"/><use href="#ao" x="403.4" y="232.1"/><use href="#ao" x="409.7" y="243"/><use href="#ao" x="422.2" y="243"/><use href="#ao" x="428.5" y="253.9"/><use href="#ao" x="441.1" y="253.9"/><use href="#ao" x="372" y="199.4"/><use href="#ao" x="384.5" y="199.4"/><use href="#ao" x="390.8" y="210.3"/><use href="#ao" x="403.4" y="210.3"/><use href="#ao" x="409.7" y="221.2"/><use href="#ao" x="422.2" y="221.2"/><use href="#ao" x="428.5" y="232.1"/><use href="#ao" x="441.1" y="232.1"/><use href="#ao" x="409.7" y="199.4"/><use href="#ao" x="422.2" y="199.4"/><use href="#ao" x="428.5" y="210.3"/><use href="#ao" x="441.1" y="210.3"/><path d="M271.5 373.6L284 373.6M271.5 373.6L265.2 384.5M271.5 373.6L265.2 362.7M271.5 351.8L284 351.8M271.5 351.8L265.2 362.7M271.5 351.8L265.2 340.9M290.3 362.7L302.9 362.7M290.3 362.7L284 373.6M290.3 362.7L284 351.8M309.2 373.6L321.8 373.6M309.2 373.6L302.9 384.5M309.2 373.6L302.9 362.7M271.5 330.1L284 330.1M271.5 330.1L265.2 340.9M271.5 330.1L265.2 319.2M290.3 340.9L302.9 340.9M290.3 340.9L284 351.8M290.3 340.9L284 330.1M309.2 351.8L321.8 351.8M309.2 351.8L302.9 362.7M309.2 351.8L302.9 340.9M328 362.7L340.6 362.7M328 362.7L321.8 373.6M328 362.7L321.8 351.8M346.9 373.6L359.5 373.6M346.9 373.6L340.6 384.5M346.9 373.6L340.6 362.7M271.5 308.3L284 308.3M271.5 308.3L265.2 319.2M271.5 308.3L265.2 297.4M290.3 319.2L302.9 319.2M290.3 319.2L284 330.1M290.3 319.2L284 308.3M309.2 330.1L321.8 330.1M309.2 330.1L302.9 340.9M309.2 330.1L302.9 319.2M328 340.9L340.6 340.9M328 340.9L321.8 351.8M328 340.9L321.8 330.1M346.9 351.8L359.5 351.8M346.9 351.8L340.6 362.7M346.9 351.8L340.6 340.9M365.7 362.7L378.3 362.7M365.7 362.7L359.5 373.6M365.7 362.7L359.5 351.8M384.6 373.6L397.2 373.6M384.6 373.6L378.3 384.5M384.6 373.6L378.3 362.7M271.5 286.5L284 286.5M271.5 286.5L265.2 297.4M271.5 286.5L265.2 275.6M290.3 297.4L302.9 297.4M290.3 297.4L284 308.3M290.3 297.4L284 286.5M309.2 308.3L321.8 308.3M309.2 308.3L302.9 319.2M309.2 308.3L302.9 297.4M328 319.2L340.6 319.2M328 319.2L321.8 330.1M328 319.2L321.8 308.3M346.9 330.1L359.5 330.1M346.9 330.1L340.6 340.9M346.9 330.1L340.6 319.2M365.7 340.9L378.3 340.9M365.7 340.9L359.5 351.8M365.7 340.9L359.5 330.1M384.6 351.8L397.2 351.8M384.6 351.8L378.3 362.7M384.6 351.8L378.3 340.9M403.5 362.7L416 362.7M403.5 362.7L397.2 373.6M403.5 362.7L397.2 351.8M422.3 373.6L434.9 373.6M422.3 373.6L416 384.5M422.3 373.6L416 362.7M271.5 264.7L284 264.7M271.5 264.7L265.2 275.6M271.5 264.7L265.2 253.9M290.3 275.6L302.9 275.6M290.3 275.6L284 286.5M290.3 275.6L284 264.7M309.2 286.5L321.8 286.5M309.2 286.5L302.9 297.4M309.2 286.5L302.9 275.6M328 297.4L340.6 297.4M328 297.4L321.8 308.3M328 297.4L321.8 286.5M346.9 308.3L359.5 308.3M346.9 308.3L340.6 319.2M346.9 308.3L340.6 297.4M365.7 319.2L378.3 319.2M365.7 319.2L359.5 330.1M365.7 319.2L359.5 308.3M384.6 330.1L397.2 330.1M384.6 330.1L378.3 340.9M384.6 330.1L378.3 319.2M403.5 340.9L416 340.9M403.5 340.9L397.2 351.8M403.5 340.9L397.2 330.1M422.3 351.8L434.9 351.8M422.3 351.8L416 362.7M422.3 351.8L416 340.9M271.5 243L284 243M271.5 243L265.2 253.9M271.5 243L265.2 232.1M290.3 253.9L302.9 253.9M290.3 253.9L284 264.7M290.3 253.9L284 243M309.2 264.7L321.8 264.7M309.2 264.7L302.9 275.6M309.2 264.7L302.9 253.9M328 275.6L340.6 275.6M328 275.6L321.8 286.5M328 275.6L321.8 264.7M346.9 286.5L359.5 286.5M346.9 286.5L340.6 297.4M346.9 286.5L340.6 275.6M365.7 297.4L378.3 297.4M365.7 297.4L359.5 308.3M365.7 297.4L359.5 286.5M384.6 308.3L397.2 308.3M384.6 308.3L378.3 319.2M384.6 308.3L378.3 297.4M403.5 319.2L416 319.2M403.5 319.2L397.2 330.1M403.5 319.2L397.2 308.3M422.3 330.1L434.9 330.1M422.3 330.1L416 340.9M422.3 330.1L416 319.2M271.5 221.2L284 221.2M271.5 221.2L265.2 232.1M271.5 221.2L265.2 210.3M290.3 232.1L302.9 232.1M290.3 232.1L284 243M290.3 232.1L284 221.2M309.2 243L321.8 243M309.2 243L302.9 253.9M309.2 243L302.9 232.1M328 253.9L340.6 253.9M328 253.9L321.8 264.7M328 253.9L321.8 243M346.9 264.7L359.5 264.7M346.9 264.7L340.6 275.6M346.9 264.7L340.6 253.9M365.7 275.6L378.3 275.6M365.7 275.6L359.5 286.5M365.7 275.6L359.5 264.7M384.6 286.5L397.2 286.5M384.6 286.5L378.3 297.4M384.6 286.5L378.3 275.6M403.5 297.4L416 297.4M403.5 297.4L397.2 308.3M403.5 297.4L397.2 286.5M422.3 308.3L434.9 308.3M422.3 308.3L416 319.2M422.3 308.3L416 297.4M271.5 199.4L284 199.4M271.5 199.4L265.2 210.3M271.5 199.4L265.2 188.5M290.3 210.3L302.9 210.3M290.3 210.3L284 221.2M290.3 210.3L284 199.4M309.2 221.2L321.8 221.2M309.2 221.2L302.9 232.1M309.2 221.2L302.9 210.3M328 232.1L340.6 232.1M328 232.1L321.8 243M328 232.1L321.8 221.2M346.9 243L359.5 243M346.9 243L340.6 253.9M346.9 243L340.6 232.1M365.7 253.9L378.3 253.9M365.7 253.9L359.5 264.7M365.7 253.9L359.5 243M384.6 264.7L397.2 264.7M384.6 264.7L378.3 275.6M384.6 264.7L378.3 253.9M403.5 275.6L416 275.6M403.5 275.6L397.2 286.5M403.5 275.6L397.2 264.7M422.3 286.5L434.9 286.5M422.3 286.5L416 297.4M422.3 286.5L416 275.6M309.2 199.4L321.8 199.4M309.2 199.4L302.9 210.3M309.2 199.4L302.9 188.5M328 210.3L340.6 210.3M328 210.3L321.8 221.2M328 210.3L321.8 199.4M346.9 221.2L359.5 221.2M346.9 221.2L340.6 232.1M346.9 221.2L340.6 210.3M365.7 232.1L378.3 232.1M365.7 232.1L359.5 243M365.7 232.1L359.5 221.2M384.6 243L397.2 243M384.6 243L378.3 253.9M384.6 243L378.3 232.1M403.5 253.9L416 253.9M403.5 253.9L397.2 264.7M403.5 253.9L397.2 243M422.3 264.7L434.9 264.7M422.3 264.7L416 275.6M422.3 264.7L416 253.9M346.9 199.4L359.5 199.4M346.9 199.4L340.6 210.3M346.9 199.4L340.6 188.5M365.7 210.3L378.3 210.3M365.7 210.3L359.5 221.2M365.7 210.3L359.5 199.4M384.6 221.2L397.2 221.2M384.6 221.2L378.3 232.1M384.6 221.2L378.3 210.3M403.5 232.1L416 232.1M403.5 232.1L397.2 243M403.5 232.1L397.2 221.2M422.3 243L434.9 243M422.3 243L416 253.9M422.3 243L416 232.1M384.6 199.4L397.2 199.4M384.6 199.4L378.3 210.3M384.6 199.4L378.3 188.5M403.5 210.3L416 210.3M403.5 210.3L397.2 221.2M403.5 210.3L397.2 199.4M422.3 221.2L434.9 221.2M422.3 221.2L416 232.1M422.3 221.2L416 210.3M422.3 199.4L434.9 199.4M422.3 199.4L416 210.3M422.3 199.4L416 188.5" stroke="#b3caf0" stroke-width="1.25" fill="none"/><use href="#ab" x="271.5" y="373.6"/><use href="#ab" x="284" y="373.6"/><use href="#ab" x="271.5" y="351.8"/><use href="#ab" x="284" y="351.8"/><use href="#ab" x="290.3" y="362.7"/><use href="#ab" x="302.9" y="362.7"/><use href="#ab" x="309.2" y="373.6"/><use href="#ab" x="321.8" y="373.6"/><use href="#ab" x="271.5" y="330.1"/><use href="#ab" x="284" y="330.1"/><use href="#ab" x="290.3" y="340.9"/><use href="#ab" x="302.9" y="340.9"/><use href="#ab" x="309.2" y="351.8"/><use href="#ab" x="321.8" y="351.8"/><use href="#ab" x="328" y="362.7"/><use href="#ab" x="340.6" y="362.7"/><use href="#ab" x="346.9" y="373.6"/><use href="#ab" x="359.5" y="373.6"/><use href="#ab" x="271.5" y="308.3"/><use href="#ab" x="284" y="308.3"/><use href="#ab" x="290.3" y="319.2"/><use href="#ab" x="302.9" y="319.2"/><use href="#ab" x="309.2" y="330.1"/><use href="#ab" x="321.8" y="330.1"/><use href="#ab" x="328" y="340.9"/><use href="#ab" x="340.6" y="340.9"/><use href="#ab" x="346.9" y="351.8"/><use href="#ab" x="359.5" y="351.8"/><use href="#ab" x="365.7" y="362.7"/><use href="#ab" x="378.3" y="362.7"/><use href="#ab" x="384.6" y="373.6"/><use href="#ab" x="397.2" y="373.6"/><use href="#ab" x="271.5" y="286.5"/><use href="#ab" x="284" y="286.5"/><use href="#ab" x="290.3" y="297.4"/><use href="#ab" x="302.9" y="297.4"/><use href="#ab" x="309.2" y="308.3"/><use href="#ab" x="321.8" y="308.3"/><use href="#ab" x="328" y="319.2"/><use href="#ab" x="340.6" y="319.2"/><use href="#ab" x="346.9" y="330.1"/><use href="#ab" x="359.5" y="330.1"/><use href="#ab" x="365.7" y="340.9"/><use href="#ab" x="378.3" y="340.9"/><use href="#ab" x="384.6" y="351.8"/><use href="#ab" x="397.2" y="351.8"/><use href="#ab" x="403.5" y="362.7"/><use href="#ab" x="416" y="362.7"/><use href="#ab" x="422.3" y="373.6"/><use href="#ab" x="434.9" y="373.6"/><use href="#ab" x="271.5" y="264.7"/><use href="#ab" x="284" y="264.7"/><use href="#ab" x="290.3" y="275.6"/><use href="#ab" x="302.9" y="275.6"/><use href="#ab" x="309.2" y="286.5"/><use href="#ab" x="321.8" y="286.5"/><use href="#ab" x="328" y="297.4"/><use href="#ab" x="340.6" y="297.4"/><use href="#ab" x="346.9" y="308.3"/><use href="#ab" x="359.5" y="308.3"/><use href="#ab" x="365.7" y="319.2"/><use href="#ab" x="378.3" y="319.2"/><use href="#ab" x="384.6" y="330.1"/><use href="#ab" x="397.2" y="330.1"/><use href="#ab" x="403.5" y="340.9"/><use href="#ab" x="416" y="340.9"/><use href="#ab" x="422.3" y="351.8"/><use href="#ab" x="434.9" y="351.8"/><use href="#ab" x="271.5" y="243"/><use href="#ab" x="284" y="243"/><use href="#ab" x="290.3" y="253.9"/><use href="#ab" x="302.9" y="253.9"/><use href="#ab" x="309.2" y="264.7"/><use href="#ab" x="321.8" y="264.7"/><use href="#ab" x="328" y="275.6"/><use href="#ab" x="340.6" y="275.6"/><use href="#ab" x="346.9" y="286.5"/><use href="#ab" x="359.5" y="286.5"/><use href="#ab" x="365.7" y="297.4"/><use href="#ab" x="378.3" y="297.4"/><use href="#ab" x="384.6" y="308.3"/><use href="#ab" x="397.2" y="308.3"/><use href="#ab" x="403.5" y="319.2"/><use href="#ab" x="416" y="319.2"/><use href="#ab" x="422.3" y="330.1"/><use href="#ab" x="434.9" y="330.1"/><use href="#ab" x="271.5" y="221.2"/><use href="#ab" x="284" y="221.2"/><use href="#ab" x="290.3" y="232.1"/><use href="#ab" x="302.9" y="232.1"/><use href="#ab" x="309.2" y="243"/><use href="#ab" x="321.8" y="243"/><use href="#ab" x="328" y="253.9"/><use href="#ab" x="340.6" y="253.9"/><use href="#ab" x="346.9" y="264.7"/><use href="#ab" x="359.5" y="264.7"/><use href="#ab" x="365.7" y="275.6"/><use href="#ab" x="378.3" y="275.6"/><use href="#ab" x="384.6" y="286.5"/><use href="#ab" x="397.2" y="286.5"/><use href="#ab" x="403.5" y="297.4"/><use href="#ab" x="416" y="297.4"/><use href="#ab" x="422.3" y="308.3"/><use href="#ab" x="434.9" y="308.3"/><use href="#ab" x="271.5" y="199.4"/><use href="#ab" x="284" y="199.4"/><use href="#ab" x="290.3" y="210.3"/><use href="#ab" x="302.9" y="210.3"/><use href="#ab" x="309.2" y="221.2"/><use href="#ab" x="321.8" y="221.2"/><use href="#ab" x="328" y="232.1"/><use href="#ab" x="340.6" y="232.1"/><use href="#ab" x="346.9" y="243"/><use href="#ab" x="359.5" y="243"/><use href="#ab" x="365.7" y="253.9"/><use href="#ab" x="378.3" y="253.9"/><use href="#ab" x="384.6" y="264.7"/><use href="#ab" x="397.2" y="264.7"/><use href="#ab" x="403.5" y="275.6"/><use href="#ab" x="416" y="275.6"/><use href="#ab" x="422.3" y="286.5"/><use href="#ab" x="434.9" y="286.5"/><use href="#ab" x="309.2" y="199.4"/><use href="#ab" x="321.8" y="199.4"/><use href="#ab" x="328" y="210.3"/><use href="#ab" x="340.6" y="210.3"/><use href="#ab" x="346.9" y="221.2"/><use href="#ab" x="359.5" y="221.2"/><use href="#ab" x="365.7" y="232.1"/><use href="#ab" x="378.3" y="232.1"/><use href="#ab" x="384.6" y="243"/><use href="#ab" x="397.2" y="243"/><use href="#ab" x="403.5" y="253.9"/><use href="#ab" x="416" y="253.9"/><use href="#ab" x="422.3" y="264.7"/><use href="#ab" x="434.9" y="264.7"/><use href="#ab" x="346.9" y="199.4"/><use href="#ab" x="359.5" y="199.4"/><use href="#ab" x="365.7" y="210.3"/><use href="#ab" x="378.3" y="210.3"/><use href="#ab" x="384.6" y="221.2"/><use href="#ab" x="397.2" y="221.2"/><use href="#ab" x="403.5" y="232.1"/><use href="#ab" x="416" y="232.1"/><use href="#ab" x="422.3" y="243"/><use href="#ab" x="434.9" y="243"/><use href="#ab" x="384.6" y="199.4"/><use href="#ab" x="397.2" y="199.4"/><use href="#ab" x="403.5" y="210.3"/><use href="#ab" x="416" y="210.3"/><use href="#ab" x="422.3" y="221.2"/><use href="#ab" x="434.9" y="221.2"/><use href="#ab" x="422.3" y="199.4"/><use href="#ab" x="434.9" y="199.4"/></g><g clip-path="url(#clipL2)"><path d="M429 210.9L429 223.5M429 210.9L418.1 204.6M429 210.9L439.9 204.6M450.7 210.9L450.7 223.5M450.7 210.9L439.9 204.6M450.7 210.9L461.6 204.6M439.9 229.8L439.9 242.3M439.9 229.8L429 223.5M439.9 229.8L450.7 223.5M429 248.6L429 261.2M429 248.6L418.1 242.3M429 248.6L439.9 242.3M472.5 210.9L472.5 223.5M472.5 210.9L461.6 204.6M472.5 210.9L483.4 204.6M461.6 229.8L461.6 242.3M461.6 229.8L450.7 223.5M461.6 229.8L472.5 223.5M450.7 248.6L450.7 261.2M450.7 248.6L439.9 242.3M450.7 248.6L461.6 242.3M439.9 267.5L439.9 280M439.9 267.5L429 261.2M439.9 267.5L450.7 261.2M429 286.3L429 298.9M429 286.3L418.1 280M429 286.3L439.9 280M494.3 210.9L494.3 223.5M494.3 210.9L483.4 204.6M494.3 210.9L505.2 204.6M483.4 229.8L483.4 242.3M483.4 229.8L472.5 223.5M483.4 229.8L494.3 223.5M472.5 248.6L472.5 261.2M472.5 248.6L461.6 242.3M472.5 248.6L483.4 242.3M461.6 267.5L461.6 280M461.6 267.5L450.7 261.2M461.6 267.5L472.5 261.2M450.7 286.3L450.7 298.9M450.7 286.3L439.9 280M450.7 286.3L461.6 280M439.9 305.2L439.9 317.8M439.9 305.2L429 298.9M439.9 305.2L450.7 298.9M429 324L429 336.6M429 324L418.1 317.8M429 324L439.9 317.8M516.1 210.9L516.1 223.5M516.1 210.9L505.2 204.6M516.1 210.9L527 204.6M505.2 229.8L505.2 242.3M505.2 229.8L494.3 223.5M505.2 229.8L516.1 223.5M494.3 248.6L494.3 261.2M494.3 248.6L483.4 242.3M494.3 248.6L505.2 242.3M483.4 267.5L483.4 280M483.4 267.5L472.5 261.2M483.4 267.5L494.3 261.2M472.5 286.3L472.5 298.9M472.5 286.3L461.6 280M472.5 286.3L483.4 280M461.6 305.2L461.6 317.8M461.6 305.2L450.7 298.9M461.6 305.2L472.5 298.9M450.7 324L450.7 336.6M450.7 324L439.9 317.8M450.7 324L461.6 317.8M439.9 342.9L439.9 355.5M439.9 342.9L429 336.6M439.9 342.9L450.7 336.6M429 361.7L429 374.3M429 361.7L418.1 355.5M429 361.7L439.9 355.5M537.8 210.9L537.8 223.5M537.8 210.9L527 204.6M537.8 210.9L548.7 204.6M527 229.8L527 242.3M527 229.8L516.1 223.5M527 229.8L537.8 223.5M516.1 248.6L516.1 261.2M516.1 248.6L505.2 242.3M516.1 248.6L527 242.3M505.2 267.5L505.2 280M505.2 267.5L494.3 261.2M505.2 267.5L516.1 261.2M494.3 286.3L494.3 298.9M494.3 286.3L483.4 280M494.3 286.3L505.2 280M483.4 305.2L483.4 317.8M483.4 305.2L472.5 298.9M483.4 305.2L494.3 298.9M472.5 324L472.5 336.6M472.5 324L461.6 317.8M472.5 324L483.4 317.8M461.6 342.9L461.6 355.5M461.6 342.9L450.7 336.6M461.6 342.9L472.5 336.6M450.7 361.7L450.7 374.3M450.7 361.7L439.9 355.5M450.7 361.7L461.6 355.5M559.6 210.9L559.6 223.5M559.6 210.9L548.7 204.6M559.6 210.9L570.5 204.6M548.7 229.8L548.7 242.3M548.7 229.8L537.8 223.5M548.7 229.8L559.6 223.5M537.8 248.6L537.8 261.2M537.8 248.6L527 242.3M537.8 248.6L548.7 242.3M527 267.5L527 280M527 267.5L516.1 261.2M527 267.5L537.8 261.2M516.1 286.3L516.1 298.9M516.1 286.3L505.2 280M516.1 286.3L527 280M505.2 305.2L505.2 317.8M505.2 305.2L494.3 298.9M505.2 305.2L516.1 298.9M494.3 324L494.3 336.6M494.3 324L483.4 317.8M494.3 324L505.2 317.8M483.4 342.9L483.4 355.5M483.4 342.9L472.5 336.6M483.4 342.9L494.3 336.6M472.5 361.7L472.5 374.3M472.5 361.7L461.6 355.5M472.5 361.7L483.4 355.5M581.4 210.9L581.4 223.5M581.4 210.9L570.5 204.6M581.4 210.9L592.3 204.6M570.5 229.8L570.5 242.3M570.5 229.8L559.6 223.5M570.5 229.8L581.4 223.5M559.6 248.6L559.6 261.2M559.6 248.6L548.7 242.3M559.6 248.6L570.5 242.3M548.7 267.5L548.7 280M548.7 267.5L537.8 261.2M548.7 267.5L559.6 261.2M537.8 286.3L537.8 298.9M537.8 286.3L527 280M537.8 286.3L548.7 280M527 305.2L527 317.8M527 305.2L516.1 298.9M527 305.2L537.8 298.9M516.1 324L516.1 336.6M516.1 324L505.2 317.8M516.1 324L527 317.8M505.2 342.9L505.2 355.5M505.2 342.9L494.3 336.6M505.2 342.9L516.1 336.6M494.3 361.7L494.3 374.3M494.3 361.7L483.4 355.5M494.3 361.7L505.2 355.5M603.2 210.9L603.2 223.5M603.2 210.9L592.3 204.6M603.2 210.9L614 204.6M592.3 229.8L592.3 242.3M592.3 229.8L581.4 223.5M592.3 229.8L603.2 223.5M581.4 248.6L581.4 261.2M581.4 248.6L570.5 242.3M581.4 248.6L592.3 242.3M570.5 267.5L570.5 280M570.5 267.5L559.6 261.2M570.5 267.5L581.4 261.2M559.6 286.3L559.6 298.9M559.6 286.3L548.7 280M559.6 286.3L570.5 280M548.7 305.2L548.7 317.8M548.7 305.2L537.8 298.9M548.7 305.2L559.6 298.9M537.8 324L537.8 336.6M537.8 324L527 317.8M537.8 324L548.7 317.8M527 342.9L527 355.5M527 342.9L516.1 336.6M527 342.9L537.8 336.6M516.1 361.7L516.1 374.3M516.1 361.7L505.2 355.5M516.1 361.7L527 355.5M603.2 248.6L603.2 261.2M603.2 248.6L592.3 242.3M603.2 248.6L614 242.3M592.3 267.5L592.3 280M592.3 267.5L581.4 261.2M592.3 267.5L603.2 261.2M581.4 286.3L581.4 298.9M581.4 286.3L570.5 280M581.4 286.3L592.3 280M570.5 305.2L570.5 317.8M570.5 305.2L559.6 298.9M570.5 305.2L581.4 298.9M559.6 324L559.6 336.6M559.6 324L548.7 317.8M559.6 324L570.5 317.8M548.7 342.9L548.7 355.5M548.7 342.9L537.8 336.6M548.7 342.9L559.6 336.6M537.8 361.7L537.8 374.3M537.8 361.7L527 355.5M537.8 361.7L548.7 355.5M603.2 286.3L603.2 298.9M603.2 286.3L592.3 280M603.2 286.3L614 280M592.3 305.2L592.3 317.8M592.3 305.2L581.4 298.9M592.3 305.2L603.2 298.9M581.4 324L581.4 336.6M581.4 324L570.5 317.8M581.4 324L592.3 317.8M570.5 342.9L570.5 355.5M570.5 342.9L559.6 336.6M570.5 342.9L581.4 336.6M559.6 361.7L559.6 374.3M559.6 361.7L548.7 355.5M559.6 361.7L570.5 355.5M603.2 324L603.2 336.6M603.2 324L592.3 317.8M603.2 324L614 317.8M592.3 342.9L592.3 355.5M592.3 342.9L581.4 336.6M592.3 342.9L603.2 336.6M581.4 361.7L581.4 374.3M581.4 361.7L570.5 355.5M581.4 361.7L592.3 355.5M603.2 361.7L603.2 374.3M603.2 361.7L592.3 355.5M603.2 361.7L614 355.5" stroke="#f8cba6" stroke-width="1.25" fill="none"/><use href="#ao" x="429" y="210.9"/><use href="#ao" x="429" y="223.5"/><use href="#ao" x="450.7" y="210.9"/><use href="#ao" x="450.7" y="223.5"/><use href="#ao" x="439.9" y="229.8"/><use href="#ao" x="439.9" y="242.3"/><use href="#ao" x="429" y="248.6"/><use href="#ao" x="429" y="261.2"/><use href="#ao" x="472.5" y="210.9"/><use href="#ao" x="472.5" y="223.5"/><use href="#ao" x="461.6" y="229.8"/><use href="#ao" x="461.6" y="242.3"/><use href="#ao" x="450.7" y="248.6"/><use href="#ao" x="450.7" y="261.2"/><use href="#ao" x="439.9" y="267.5"/><use href="#ao" x="439.9" y="280"/><use href="#ao" x="429" y="286.3"/><use href="#ao" x="429" y="298.9"/><use href="#ao" x="494.3" y="210.9"/><use href="#ao" x="494.3" y="223.5"/><use href="#ao" x="483.4" y="229.8"/><use href="#ao" x="483.4" y="242.3"/><use href="#ao" x="472.5" y="248.6"/><use href="#ao" x="472.5" y="261.2"/><use href="#ao" x="461.6" y="267.5"/><use href="#ao" x="461.6" y="280"/><use href="#ao" x="450.7" y="286.3"/><use href="#ao" x="450.7" y="298.9"/><use href="#ao" x="439.9" y="305.2"/><use href="#ao" x="439.9" y="317.8"/><use href="#ao" x="429" y="324"/><use href="#ao" x="429" y="336.6"/><use href="#ao" x="516.1" y="210.9"/><use href="#ao" x="516.1" y="223.5"/><use href="#ao" x="505.2" y="229.8"/><use href="#ao" x="505.2" y="242.3"/><use href="#ao" x="494.3" y="248.6"/><use href="#ao" x="494.3" y="261.2"/><use href="#ao" x="483.4" y="267.5"/><use href="#ao" x="483.4" y="280"/><use href="#ao" x="472.5" y="286.3"/><use href="#ao" x="472.5" y="298.9"/><use href="#ao" x="461.6" y="305.2"/><use href="#ao" x="461.6" y="317.8"/><use href="#ao" x="450.7" y="324"/><use href="#ao" x="450.7" y="336.6"/><use href="#ao" x="439.9" y="342.9"/><use href="#ao" x="439.9" y="355.5"/><use href="#ao" x="429" y="361.7"/><use href="#ao" x="429" y="374.3"/><use href="#ao" x="537.8" y="210.9"/><use href="#ao" x="537.8" y="223.5"/><use href="#ao" x="527" y="229.8"/><use href="#ao" x="527" y="242.3"/><use href="#ao" x="516.1" y="248.6"/><use href="#ao" x="516.1" y="261.2"/><use href="#ao" x="505.2" y="267.5"/><use href="#ao" x="505.2" y="280"/><use href="#ao" x="494.3" y="286.3"/><use href="#ao" x="494.3" y="298.9"/><use href="#ao" x="483.4" y="305.2"/><use href="#ao" x="483.4" y="317.8"/><use href="#ao" x="472.5" y="324"/><use href="#ao" x="472.5" y="336.6"/><use href="#ao" x="461.6" y="342.9"/><use href="#ao" x="461.6" y="355.5"/><use href="#ao" x="450.7" y="361.7"/><use href="#ao" x="450.7" y="374.3"/><use href="#ao" x="559.6" y="210.9"/><use href="#ao" x="559.6" y="223.5"/><use href="#ao" x="548.7" y="229.8"/><use href="#ao" x="548.7" y="242.3"/><use href="#ao" x="537.8" y="248.6"/><use href="#ao" x="537.8" y="261.2"/><use href="#ao" x="527" y="267.5"/><use href="#ao" x="527" y="280"/><use href="#ao" x="516.1" y="286.3"/><use href="#ao" x="516.1" y="298.9"/><use href="#ao" x="505.2" y="305.2"/><use href="#ao" x="505.2" y="317.8"/><use href="#ao" x="494.3" y="324"/><use href="#ao" x="494.3" y="336.6"/><use href="#ao" x="483.4" y="342.9"/><use href="#ao" x="483.4" y="355.5"/><use href="#ao" x="472.5" y="361.7"/><use href="#ao" x="472.5" y="374.3"/><use href="#ao" x="581.4" y="210.9"/><use href="#ao" x="581.4" y="223.5"/><use href="#ao" x="570.5" y="229.8"/><use href="#ao" x="570.5" y="242.3"/><use href="#ao" x="559.6" y="248.6"/><use href="#ao" x="559.6" y="261.2"/><use href="#ao" x="548.7" y="267.5"/><use href="#ao" x="548.7" y="280"/><use href="#ao" x="537.8" y="286.3"/><use href="#ao" x="537.8" y="298.9"/><use href="#ao" x="527" y="305.2"/><use href="#ao" x="527" y="317.8"/><use href="#ao" x="516.1" y="324"/><use href="#ao" x="516.1" y="336.6"/><use href="#ao" x="505.2" y="342.9"/><use href="#ao" x="505.2" y="355.5"/><use href="#ao" x="494.3" y="361.7"/><use href="#ao" x="494.3" y="374.3"/><use href="#ao" x="603.2" y="210.9"/><use href="#ao" x="603.2" y="223.5"/><use href="#ao" x="592.3" y="229.8"/><use href="#ao" x="592.3" y="242.3"/><use href="#ao" x="581.4" y="248.6"/><use href="#ao" x="581.4" y="261.2"/><use href="#ao" x="570.5" y="267.5"/><use href="#ao" x="570.5" y="280"/><use href="#ao" x="559.6" y="286.3"/><use href="#ao" x="559.6" y="298.9"/><use href="#ao" x="548.7" y="305.2"/><use href="#ao" x="548.7" y="317.8"/><use href="#ao" x="537.8" y="324"/><use href="#ao" x="537.8" y="336.6"/><use href="#ao" x="527" y="342.9"/><use href="#ao" x="527" y="355.5"/><use href="#ao" x="516.1" y="361.7"/><use href="#ao" x="516.1" y="374.3"/><use href="#ao" x="603.2" y="248.6"/><use href="#ao" x="603.2" y="261.2"/><use href="#ao" x="592.3" y="267.5"/><use href="#ao" x="592.3" y="280"/><use href="#ao" x="581.4" y="286.3"/><use href="#ao" x="581.4" y="298.9"/><use href="#ao" x="570.5" y="305.2"/><use href="#ao" x="570.5" y="317.8"/><use href="#ao" x="559.6" y="324"/><use href="#ao" x="559.6" y="336.6"/><use href="#ao" x="548.7" y="342.9"/><use href="#ao" x="548.7" y="355.5"/><use href="#ao" x="537.8" y="361.7"/><use href="#ao" x="537.8" y="374.3"/><use href="#ao" x="603.2" y="286.3"/><use href="#ao" x="603.2" y="298.9"/><use href="#ao" x="592.3" y="305.2"/><use href="#ao" x="592.3" y="317.8"/><use href="#ao" x="581.4" y="324"/><use href="#ao" x="581.4" y="336.6"/><use href="#ao" x="570.5" y="342.9"/><use href="#ao" x="570.5" y="355.5"/><use href="#ao" x="559.6" y="361.7"/><use href="#ao" x="559.6" y="374.3"/><use href="#ao" x="603.2" y="324"/><use href="#ao" x="603.2" y="336.6"/><use href="#ao" x="592.3" y="342.9"/><use href="#ao" x="592.3" y="355.5"/><use href="#ao" x="581.4" y="361.7"/><use href="#ao" x="581.4" y="374.3"/><use href="#ao" x="603.2" y="361.7"/><use href="#ao" x="603.2" y="374.3"/><path d="M428.6 373.9L441.1 373.9M428.6 373.9L422.3 384.8M428.6 373.9L422.3 363M428.6 352.1L441.1 352.1M428.6 352.1L422.3 363M428.6 352.1L422.3 341.2M447.4 363L460 363M447.4 363L441.1 373.9M447.4 363L441.1 352.1M466.3 373.9L478.8 373.9M466.3 373.9L460 384.8M466.3 373.9L460 363M428.6 330.3L441.1 330.3M428.6 330.3L422.3 341.2M428.6 330.3L422.3 319.4M447.4 341.2L460 341.2M447.4 341.2L441.1 352.1M447.4 341.2L441.1 330.3M466.3 352.1L478.8 352.1M466.3 352.1L460 363M466.3 352.1L460 341.2M485.1 363L497.7 363M485.1 363L478.8 373.9M485.1 363L478.8 352.1M504 373.9L516.5 373.9M504 373.9L497.7 384.8M504 373.9L497.7 363M428.6 308.6L441.1 308.6M428.6 308.6L422.3 319.4M428.6 308.6L422.3 297.7M447.4 319.4L460 319.4M447.4 319.4L441.1 330.3M447.4 319.4L441.1 308.6M466.3 330.3L478.8 330.3M466.3 330.3L460 341.2M466.3 330.3L460 319.4M485.1 341.2L497.7 341.2M485.1 341.2L478.8 352.1M485.1 341.2L478.8 330.3M504 352.1L516.5 352.1M504 352.1L497.7 363M504 352.1L497.7 341.2M522.8 363L535.4 363M522.8 363L516.5 373.9M522.8 363L516.5 352.1M541.7 373.9L554.3 373.9M541.7 373.9L535.4 384.8M541.7 373.9L535.4 363M428.6 286.8L441.1 286.8M428.6 286.8L422.3 297.7M428.6 286.8L422.3 275.9M447.4 297.7L460 297.7M447.4 297.7L441.1 308.6M447.4 297.7L441.1 286.8M466.3 308.6L478.8 308.6M466.3 308.6L460 319.4M466.3 308.6L460 297.7M485.1 319.4L497.7 319.4M485.1 319.4L478.8 330.3M485.1 319.4L478.8 308.6M504 330.3L516.5 330.3M504 330.3L497.7 341.2M504 330.3L497.7 319.4M522.8 341.2L535.4 341.2M522.8 341.2L516.5 352.1M522.8 341.2L516.5 330.3M541.7 352.1L554.3 352.1M541.7 352.1L535.4 363M541.7 352.1L535.4 341.2M560.5 363L573.1 363M560.5 363L554.3 373.9M560.5 363L554.3 352.1M579.4 373.9L592 373.9M579.4 373.9L573.1 384.8M579.4 373.9L573.1 363M428.6 265L441.1 265M428.6 265L422.3 275.9M428.6 265L422.3 254.1M447.4 275.9L460 275.9M447.4 275.9L441.1 286.8M447.4 275.9L441.1 265M466.3 286.8L478.8 286.8M466.3 286.8L460 297.7M466.3 286.8L460 275.9M485.1 297.7L497.7 297.7M485.1 297.7L478.8 308.6M485.1 297.7L478.8 286.8M504 308.6L516.5 308.6M504 308.6L497.7 319.4M504 308.6L497.7 297.7M522.8 319.4L535.4 319.4M522.8 319.4L516.5 330.3M522.8 319.4L516.5 308.6M541.7 330.3L554.3 330.3M541.7 330.3L535.4 341.2M541.7 330.3L535.4 319.4M560.5 341.2L573.1 341.2M560.5 341.2L554.3 352.1M560.5 341.2L554.3 330.3M579.4 352.1L592 352.1M579.4 352.1L573.1 363M579.4 352.1L573.1 341.2M598.3 363L610.8 363M598.3 363L592 373.9M598.3 363L592 352.1M428.6 243.2L441.1 243.2M428.6 243.2L422.3 254.1M428.6 243.2L422.3 232.4M447.4 254.1L460 254.1M447.4 254.1L441.1 265M447.4 254.1L441.1 243.2M466.3 265L478.8 265M466.3 265L460 275.9M466.3 265L460 254.1M485.1 275.9L497.7 275.9M485.1 275.9L478.8 286.8M485.1 275.9L478.8 265M504 286.8L516.5 286.8M504 286.8L497.7 297.7M504 286.8L497.7 275.9M522.8 297.7L535.4 297.7M522.8 297.7L516.5 308.6M522.8 297.7L516.5 286.8M541.7 308.6L554.3 308.6M541.7 308.6L535.4 319.4M541.7 308.6L535.4 297.7M560.5 319.4L573.1 319.4M560.5 319.4L554.3 330.3M560.5 319.4L554.3 308.6M579.4 330.3L592 330.3M579.4 330.3L573.1 341.2M579.4 330.3L573.1 319.4M598.3 341.2L610.8 341.2M598.3 341.2L592 352.1M598.3 341.2L592 330.3M428.6 221.5L441.1 221.5M428.6 221.5L422.3 232.4M428.6 221.5L422.3 210.6M447.4 232.4L460 232.4M447.4 232.4L441.1 243.2M447.4 232.4L441.1 221.5M466.3 243.2L478.8 243.2M466.3 243.2L460 254.1M466.3 243.2L460 232.4M485.1 254.1L497.7 254.1M485.1 254.1L478.8 265M485.1 254.1L478.8 243.2M504 265L516.5 265M504 265L497.7 275.9M504 265L497.7 254.1M522.8 275.9L535.4 275.9M522.8 275.9L516.5 286.8M522.8 275.9L516.5 265M541.7 286.8L554.3 286.8M541.7 286.8L535.4 297.7M541.7 286.8L535.4 275.9M560.5 297.7L573.1 297.7M560.5 297.7L554.3 308.6M560.5 297.7L554.3 286.8M579.4 308.6L592 308.6M579.4 308.6L573.1 319.4M579.4 308.6L573.1 297.7M598.3 319.4L610.8 319.4M598.3 319.4L592 330.3M598.3 319.4L592 308.6M428.6 199.7L441.1 199.7M428.6 199.7L422.3 210.6M428.6 199.7L422.3 188.8M447.4 210.6L460 210.6M447.4 210.6L441.1 221.5M447.4 210.6L441.1 199.7M466.3 221.5L478.8 221.5M466.3 221.5L460 232.4M466.3 221.5L460 210.6M485.1 232.4L497.7 232.4M485.1 232.4L478.8 243.2M485.1 232.4L478.8 221.5M504 243.2L516.5 243.2M504 243.2L497.7 254.1M504 243.2L497.7 232.4M522.8 254.1L535.4 254.1M522.8 254.1L516.5 265M522.8 254.1L516.5 243.2M541.7 265L554.3 265M541.7 265L535.4 275.9M541.7 265L535.4 254.1M560.5 275.9L573.1 275.9M560.5 275.9L554.3 286.8M560.5 275.9L554.3 265M579.4 286.8L592 286.8M579.4 286.8L573.1 297.7M579.4 286.8L573.1 275.9M598.3 297.7L610.8 297.7M598.3 297.7L592 308.6M598.3 297.7L592 286.8M466.3 199.7L478.8 199.7M466.3 199.7L460 210.6M466.3 199.7L460 188.8M485.1 210.6L497.7 210.6M485.1 210.6L478.8 221.5M485.1 210.6L478.8 199.7M504 221.5L516.5 221.5M504 221.5L497.7 232.4M504 221.5L497.7 210.6M522.8 232.4L535.4 232.4M522.8 232.4L516.5 243.2M522.8 232.4L516.5 221.5M541.7 243.2L554.3 243.2M541.7 243.2L535.4 254.1M541.7 243.2L535.4 232.4M560.5 254.1L573.1 254.1M560.5 254.1L554.3 265M560.5 254.1L554.3 243.2M579.4 265L592 265M579.4 265L573.1 275.9M579.4 265L573.1 254.1M598.3 275.9L610.8 275.9M598.3 275.9L592 286.8M598.3 275.9L592 265M504 199.7L516.5 199.7M504 199.7L497.7 210.6M504 199.7L497.7 188.8M522.8 210.6L535.4 210.6M522.8 210.6L516.5 221.5M522.8 210.6L516.5 199.7M541.7 221.5L554.3 221.5M541.7 221.5L535.4 232.4M541.7 221.5L535.4 210.6M560.5 232.4L573.1 232.4M560.5 232.4L554.3 243.2M560.5 232.4L554.3 221.5M579.4 243.2L592 243.2M579.4 243.2L573.1 254.1M579.4 243.2L573.1 232.4M598.3 254.1L610.8 254.1M598.3 254.1L592 265M598.3 254.1L592 243.2M541.7 199.7L554.3 199.7M541.7 199.7L535.4 210.6M541.7 199.7L535.4 188.8M560.5 210.6L573.1 210.6M560.5 210.6L554.3 221.5M560.5 210.6L554.3 199.7M579.4 221.5L592 221.5M579.4 221.5L573.1 232.4M579.4 221.5L573.1 210.6M598.3 232.4L610.8 232.4M598.3 232.4L592 243.2M598.3 232.4L592 221.5M579.4 199.7L592 199.7M579.4 199.7L573.1 210.6M579.4 199.7L573.1 188.8M598.3 210.6L610.8 210.6M598.3 210.6L592 221.5M598.3 210.6L592 199.7" stroke="#b3caf0" stroke-width="1.25" fill="none"/><use href="#ab" x="428.6" y="373.9"/><use href="#ab" x="441.1" y="373.9"/><use href="#ab" x="428.6" y="352.1"/><use href="#ab" x="441.1" y="352.1"/><use href="#ab" x="447.4" y="363"/><use href="#ab" x="460" y="363"/><use href="#ab" x="466.3" y="373.9"/><use href="#ab" x="478.8" y="373.9"/><use href="#ab" x="428.6" y="330.3"/><use href="#ab" x="441.1" y="330.3"/><use href="#ab" x="447.4" y="341.2"/><use href="#ab" x="460" y="341.2"/><use href="#ab" x="466.3" y="352.1"/><use href="#ab" x="478.8" y="352.1"/><use href="#ab" x="485.1" y="363"/><use href="#ab" x="497.7" y="363"/><use href="#ab" x="504" y="373.9"/><use href="#ab" x="516.5" y="373.9"/><use href="#ab" x="428.6" y="308.6"/><use href="#ab" x="441.1" y="308.6"/><use href="#ab" x="447.4" y="319.4"/><use href="#ab" x="460" y="319.4"/><use href="#ab" x="466.3" y="330.3"/><use href="#ab" x="478.8" y="330.3"/><use href="#ab" x="485.1" y="341.2"/><use href="#ab" x="497.7" y="341.2"/><use href="#ab" x="504" y="352.1"/><use href="#ab" x="516.5" y="352.1"/><use href="#ab" x="522.8" y="363"/><use href="#ab" x="535.4" y="363"/><use href="#ab" x="541.7" y="373.9"/><use href="#ab" x="554.3" y="373.9"/><use href="#ab" x="428.6" y="286.8"/><use href="#ab" x="441.1" y="286.8"/><use href="#ab" x="447.4" y="297.7"/><use href="#ab" x="460" y="297.7"/><use href="#ab" x="466.3" y="308.6"/><use href="#ab" x="478.8" y="308.6"/><use href="#ab" x="485.1" y="319.4"/><use href="#ab" x="497.7" y="319.4"/><use href="#ab" x="504" y="330.3"/><use href="#ab" x="516.5" y="330.3"/><use href="#ab" x="522.8" y="341.2"/><use href="#ab" x="535.4" y="341.2"/><use href="#ab" x="541.7" y="352.1"/><use href="#ab" x="554.3" y="352.1"/><use href="#ab" x="560.5" y="363"/><use href="#ab" x="573.1" y="363"/><use href="#ab" x="579.4" y="373.9"/><use href="#ab" x="592" y="373.9"/><use href="#ab" x="428.6" y="265"/><use href="#ab" x="441.1" y="265"/><use href="#ab" x="447.4" y="275.9"/><use href="#ab" x="460" y="275.9"/><use href="#ab" x="466.3" y="286.8"/><use href="#ab" x="478.8" y="286.8"/><use href="#ab" x="485.1" y="297.7"/><use href="#ab" x="497.7" y="297.7"/><use href="#ab" x="504" y="308.6"/><use href="#ab" x="516.5" y="308.6"/><use href="#ab" x="522.8" y="319.4"/><use href="#ab" x="535.4" y="319.4"/><use href="#ab" x="541.7" y="330.3"/><use href="#ab" x="554.3" y="330.3"/><use href="#ab" x="560.5" y="341.2"/><use href="#ab" x="573.1" y="341.2"/><use href="#ab" x="579.4" y="352.1"/><use href="#ab" x="592" y="352.1"/><use href="#ab" x="598.3" y="363"/><use href="#ab" x="610.8" y="363"/><use href="#ab" x="428.6" y="243.2"/><use href="#ab" x="441.1" y="243.2"/><use href="#ab" x="447.4" y="254.1"/><use href="#ab" x="460" y="254.1"/><use href="#ab" x="466.3" y="265"/><use href="#ab" x="478.8" y="265"/><use href="#ab" x="485.1" y="275.9"/><use href="#ab" x="497.7" y="275.9"/><use href="#ab" x="504" y="286.8"/><use href="#ab" x="516.5" y="286.8"/><use href="#ab" x="522.8" y="297.7"/><use href="#ab" x="535.4" y="297.7"/><use href="#ab" x="541.7" y="308.6"/><use href="#ab" x="554.3" y="308.6"/><use href="#ab" x="560.5" y="319.4"/><use href="#ab" x="573.1" y="319.4"/><use href="#ab" x="579.4" y="330.3"/><use href="#ab" x="592" y="330.3"/><use href="#ab" x="598.3" y="341.2"/><use href="#ab" x="610.8" y="341.2"/><use href="#ab" x="428.6" y="221.5"/><use href="#ab" x="441.1" y="221.5"/><use href="#ab" x="447.4" y="232.4"/><use href="#ab" x="460" y="232.4"/><use href="#ab" x="466.3" y="243.2"/><use href="#ab" x="478.8" y="243.2"/><use href="#ab" x="485.1" y="254.1"/><use href="#ab" x="497.7" y="254.1"/><use href="#ab" x="504" y="265"/><use href="#ab" x="516.5" y="265"/><use href="#ab" x="522.8" y="275.9"/><use href="#ab" x="535.4" y="275.9"/><use href="#ab" x="541.7" y="286.8"/><use href="#ab" x="554.3" y="286.8"/><use href="#ab" x="560.5" y="297.7"/><use href="#ab" x="573.1" y="297.7"/><use href="#ab" x="579.4" y="308.6"/><use href="#ab" x="592" y="308.6"/><use href="#ab" x="598.3" y="319.4"/><use href="#ab" x="610.8" y="319.4"/><use href="#ab" x="428.6" y="199.7"/><use href="#ab" x="441.1" y="199.7"/><use href="#ab" x="447.4" y="210.6"/><use href="#ab" x="460" y="210.6"/><use href="#ab" x="466.3" y="221.5"/><use href="#ab" x="478.8" y="221.5"/><use href="#ab" x="485.1" y="232.4"/><use href="#ab" x="497.7" y="232.4"/><use href="#ab" x="504" y="243.2"/><use href="#ab" x="516.5" y="243.2"/><use href="#ab" x="522.8" y="254.1"/><use href="#ab" x="535.4" y="254.1"/><use href="#ab" x="541.7" y="265"/><use href="#ab" x="554.3" y="265"/><use href="#ab" x="560.5" y="275.9"/><use href="#ab" x="573.1" y="275.9"/><use href="#ab" x="579.4" y="286.8"/><use href="#ab" x="592" y="286.8"/><use href="#ab" x="598.3" y="297.7"/><use href="#ab" x="610.8" y="297.7"/><use href="#ab" x="466.3" y="199.7"/><use href="#ab" x="478.8" y="199.7"/><use href="#ab" x="485.1" y="210.6"/><use href="#ab" x="497.7" y="210.6"/><use href="#ab" x="504" y="221.5"/><use href="#ab" x="516.5" y="221.5"/><use href="#ab" x="522.8" y="232.4"/><use href="#ab" x="535.4" y="232.4"/><use href="#ab" x="541.7" y="243.2"/><use href="#ab" x="554.3" y="243.2"/><use href="#ab" x="560.5" y="254.1"/><use href="#ab" x="573.1" y="254.1"/><use href="#ab" x="579.4" y="265"/><use href="#ab" x="592" y="265"/><use href="#ab" x="598.3" y="275.9"/><use href="#ab" x="610.8" y="275.9"/><use href="#ab" x="504" y="199.7"/><use href="#ab" x="516.5" y="199.7"/><use href="#ab" x="522.8" y="210.6"/><use href="#ab" x="535.4" y="210.6"/><use href="#ab" x="541.7" y="221.5"/><use href="#ab" x="554.3" y="221.5"/><use href="#ab" x="560.5" y="232.4"/><use href="#ab" x="573.1" y="232.4"/><use href="#ab" x="579.4" y="243.2"/><use href="#ab" x="592" y="243.2"/><use href="#ab" x="598.3" y="254.1"/><use href="#ab" x="610.8" y="254.1"/><use href="#ab" x="541.7" y="199.7"/><use href="#ab" x="554.3" y="199.7"/><use href="#ab" x="560.5" y="210.6"/><use href="#ab" x="573.1" y="210.6"/><use href="#ab" x="579.4" y="221.5"/><use href="#ab" x="592" y="221.5"/><use href="#ab" x="598.3" y="232.4"/><use href="#ab" x="610.8" y="232.4"/><use href="#ab" x="579.4" y="199.7"/><use href="#ab" x="592" y="199.7"/><use href="#ab" x="598.3" y="210.6"/><use href="#ab" x="610.8" y="210.6"/></g></g>
<g id="panelB"><defs><linearGradient id="gbB" x1="0" y1="0" x2="0" y2="1"><stop offset="0" stop-color="#9dc3e6"/><stop offset="1" stop-color="#9dc3e6" stop-opacity="0.02"/></linearGradient><linearGradient id="gbO" x1="0" y1="0" x2="0" y2="1"><stop offset="0" stop-color="#f4b183"/><stop offset="1" stop-color="#f4b183" stop-opacity="0.02"/></linearGradient><linearGradient id="gbG" x1="0" y1="0" x2="0" y2="1"><stop offset="0" stop-color="#a4d99f"/><stop offset="1" stop-color="#a4d99f" stop-opacity="0.02"/></linearGradient><linearGradient id="gOs2" x1="0" y1="0" x2="1" y2="0"><stop offset="0" stop-color="#ffa336"/><stop offset="0.55" stop-color="#f08a24"/><stop offset="1" stop-color="#d8661a"/></linearGradient><linearGradient id="gBs0" x1="0" y1="0" x2="1" y2="0"><stop offset="0" stop-color="#4f9bd1"/><stop offset="0.6" stop-color="#3f82ba"/><stop offset="1" stop-color="#5aa5d6"/></linearGradient><linearGradient id="gBs1" x1="0" y1="0" x2="1" y2="0"><stop offset="0" stop-color="#5aa5d6"/><stop offset="0.5" stop-color="#3f82ba"/><stop offset="1" stop-color="#4c95cc"/></linearGradient></defs><rect x="803.4" y="105.7" width="51.6" height="353" fill="url(#gbB)"/><rect x="855" y="183.9" width="51.7" height="274.8" fill="url(#gbO)"/><rect x="906.7" y="380.6" width="51.5" height="78.1" fill="url(#gbG)"/><rect x="1060.8" y="311.5" width="51.7" height="147.2" fill="url(#gbB)"/><rect x="1112.5" y="353.8" width="51.3" height="104.9" fill="url(#gbO)"/><rect x="1163.8" y="417.2" width="52.2" height="41.5" fill="url(#gbG)"/><rect x="751.5" y="43.5" width="515.5" height="415.2" fill="none" stroke="#000" stroke-width="2"/><path d="M751.5 420.9h4.5M751.5 383.2h8.5M751.5 345.4h4.5M751.5 307.7h8.5M751.5 269.9h4.5M751.5 232.2h8.5M751.5 194.4h4.5M751.5 156.7h8.5M751.5 118.9h4.5M751.5 81.2h8.5M880.7 458.7v-8M1138.6 458.7v-8" stroke="#000" stroke-width="1.5" fill="none"/><g font-family='"Liberation Sans", Arial, Helvetica, sans-serif' font-size="20.5" fill="#000"><text x="742" y="467.4" text-anchor="end">0</text><text x="742" y="390.8" text-anchor="end">2</text><text x="742" y="315.3" text-anchor="end">4</text><text x="742" y="239.8" text-anchor="end">6</text><text x="742" y="164.3" text-anchor="end">8</text><text x="742" y="88.8" text-anchor="end">10</text></g><g font-family='"Liberation Sans", Arial, Helvetica, sans-serif' font-size="24.3" fill="#000"><text x="881" y="493.5" text-anchor="middle">AB-stacked graphite</text><text x="1139" y="493.5" text-anchor="middle">Twisted graphite</text><text transform="translate(705.5 251) rotate(-90)" text-anchor="middle">Out-of-plane conductivity <tspan font-style="italic">k</tspan><tspan font-size="15.5" dy="5">o</tspan><tspan dy="-5"> (W/m/K)</tspan></text></g><text x="660" y="25.6" font-family='"Liberation Sans", Arial, Helvetica, sans-serif' font-size="30" fill="#000">(b)</text><g font-family='"Liberation Sans", Arial, Helvetica, sans-serif' font-size="18" fill="#000"><rect x="1084" y="61" width="46" height="19.5" fill="url(#gbB)"/><text x="1146" y="76">Total</text><rect x="1084" y="98" width="46" height="19.5" fill="url(#gbO)"/><text x="1146" y="113">TA modes</text><rect x="1084" y="134" width="46" height="19.5" fill="url(#gbG)"/><text x="1146" y="149">Other modes</text><text x="1144" y="203" text-anchor="middle"><tspan font-style="italic">θ</tspan> = 21.8<tspan font-size="12" dy="-5.5">o</tspan></text></g><defs><filter id="sobl" x="-20%" y="-20%" width="140%" height="140%"><feGaussianBlur stdDeviation="1.5"/></filter><clipPath id="soc0"><path d="M875.4 115.6L940.4 113.8L990.4 127.4L908.3 153.5Z"/></clipPath><clipPath id="soc1"><path d="M874.4 108.5L940.4 106.1L991.1 119.7L907.9 142.8Z"/></clipPath><clipPath id="soc2"><path d="M874 101.6L940.4 97.9L991.9 111.5L907.7 132.4Z"/></clipPath><clipPath id="soc3"><path d="M873 94.5L940.4 89.6L993.1 103.2L907.3 122.1Z"/></clipPath><clipPath id="soc4"><path d="M872.2 87.4L940.4 81.3L993.9 94.5L906.7 111.5Z"/></clipPath><clipPath id="soc5"><path d="M871.2 80.1L940.4 73.2L994.9 85.8L906.7 100.2Z"/></clipPath></defs><path d="M875.4 115.6L908.3 153.5L990.4 127.4L990.4 129.1L908.3 155.2L875.4 117.3Z" fill="#e0a63c"/><path d="M875.4 115.6L940.4 113.8L990.4 127.4L908.3 153.5Z" fill="#ffa233"/><g clip-path="url(#soc0)"><path d="M877.9 112.1L943.9 109.7L994.6 123.3L911.4 146.4Z" fill="#b42e00" opacity="0.8" filter="url(#sobl)"/></g><path d="M874.4 108.5L907.9 142.8L991.1 119.7L991.1 121.4L907.9 144.5L874.4 110.2Z" fill="#e0a63c"/><path d="M874.4 108.5L940.4 106.1L991.1 119.7L907.9 142.8Z" fill="#ffa233"/><g clip-path="url(#soc1)"><path d="M877.5 105.2L943.9 101.5L995.4 115.1L911.2 136Z" fill="#b42e00" opacity="0.8" filter="url(#sobl)"/></g><path d="M874 101.6L907.7 132.4L991.9 111.5L991.9 113.2L907.7 134.1L874 103.3Z" fill="#e0a63c"/><path d="M874 101.6L940.4 97.9L991.9 111.5L907.7 132.4Z" fill="#ffa233"/><g clip-path="url(#soc2)"><path d="M876.5 98.1L943.9 93.2L996.6 106.8L910.8 125.7Z" fill="#b42e00" opacity="0.8" filter="url(#sobl)"/></g><path d="M873 94.5L907.3 122.1L993.1 103.2L993.1 104.9L907.3 123.8L873 96.2Z" fill="#e0a63c"/><path d="M873 94.5L940.4 89.6L993.1 103.2L907.3 122.1Z" fill="#ffa233"/><g clip-path="url(#soc3)"><path d="M875.7 91L943.9 84.9L997.4 98.1L910.2 115.1Z" fill="#b42e00" opacity="0.8" filter="url(#sobl)"/></g><path d="M872.2 87.4L906.7 111.5L993.9 94.5L993.9 96.2L906.7 113.2L872.2 89.1Z" fill="#e0a63c"/><path d="M872.2 87.4L940.4 81.3L993.9 94.5L906.7 111.5Z" fill="#ffa233"/><g clip-path="url(#soc4)"><path d="M874.7 83.7L943.9 76.8L998.4 89.4L910.2 103.8Z" fill="#b42e00" opacity="0.8" filter="url(#sobl)"/></g><path d="M871.2 80.1L906.7 100.2L994.9 85.8L994.9 87.5L906.7 101.9L871.2 81.8Z" fill="#e0a63c"/><path d="M871.2 80.1L940.4 73.2L994.9 85.8L906.7 100.2Z" fill="#ecb040"/><defs><filter id="sbbl" x="-20%" y="-20%" width="140%" height="140%"><feGaussianBlur stdDeviation="1.8"/></filter><clipPath id="sbc0"><path d="M1094 266.5L1162 257.1L1202.8 269.5L1121.2 295.9Z"/></clipPath><clipPath id="sbc1"><path d="M1079.2 259.7L1136 252.3L1201 260.6L1152.5 286.6Z"/></clipPath><clipPath id="sbc2"><path d="M1090.4 250L1160.8 239.3L1205 254.1L1121.2 276Z"/></clipPath><clipPath id="sbc3"><path d="M1076.8 244L1135.4 234.6L1203.4 241.7L1153.1 266.3Z"/></clipPath><clipPath id="sbc4"><path d="M1087.5 232.8L1159.6 221.6L1207 237.5L1120.6 254.7Z"/></clipPath><clipPath id="sbc5"><path d="M1075.1 227.5L1134.8 216.2L1202 223.9L1152.5 244.6Z"/></clipPath></defs><path d="M1094 266.5L1121.2 295.9L1202.8 269.5L1202.8 271.1L1121.2 297.5L1094 268.1Z" fill="#4b90c4"/><path d="M1094 266.5L1162 257.1L1202.8 269.5L1121.2 295.9Z" fill="#559fd3"/><g clip-path="url(#sbc0)"><path d="M1081.7 264.2L1138.5 256.8L1203.5 265.1L1155 291.1Z" fill="#1a5794" opacity="0.6" filter="url(#sbbl)"/></g><path d="M1079.2 259.7L1152.5 286.6L1201 260.6L1201 262.2L1152.5 288.2L1079.2 261.3Z" fill="#4b90c4"/><path d="M1079.2 259.7L1136 252.3L1201 260.6L1152.5 286.6Z" fill="#59a2d5"/><g clip-path="url(#sbc1)"><path d="M1092.9 254.5L1163.3 243.8L1207.5 258.6L1123.7 280.5Z" fill="#1a5794" opacity="0.6" filter="url(#sbbl)"/></g><path d="M1090.4 250L1121.2 276L1205 254.1L1205 255.7L1121.2 277.6L1090.4 251.6Z" fill="#4b90c4"/><path d="M1090.4 250L1160.8 239.3L1205 254.1L1121.2 276Z" fill="#5ba5d7"/><g clip-path="url(#sbc2)"><path d="M1079.3 248.5L1137.9 239.1L1205.9 246.2L1155.6 270.8Z" fill="#1a5794" opacity="0.6" filter="url(#sbbl)"/></g><path d="M1076.8 244L1153.1 266.3L1203.4 241.7L1203.4 243.3L1153.1 267.9L1076.8 245.6Z" fill="#4b90c4"/><path d="M1076.8 244L1135.4 234.6L1203.4 241.7L1153.1 266.3Z" fill="#5fa9d9"/><g clip-path="url(#sbc3)"><path d="M1090 237.3L1162.1 226.1L1209.5 242L1123.1 259.2Z" fill="#1a5794" opacity="0.6" filter="url(#sbbl)"/></g><path d="M1087.5 232.8L1120.6 254.7L1207 237.5L1207 239.1L1120.6 256.3L1087.5 234.4Z" fill="#4b90c4"/><path d="M1087.5 232.8L1159.6 221.6L1207 237.5L1120.6 254.7Z" fill="#62acda"/><g clip-path="url(#sbc4)"><path d="M1077.6 232L1137.3 220.7L1204.5 228.4L1155 249.1Z" fill="#1a5794" opacity="0.6" filter="url(#sbbl)"/></g><path d="M1075.1 227.5L1152.5 244.6L1202 223.9L1202 225.5L1152.5 246.2L1075.1 229.1Z" fill="#4b90c4"/><path d="M1075.1 227.5L1134.8 216.2L1202 223.9L1152.5 244.6Z" fill="#6ab3dd"/></g>
<g id="panelC"><path d="M93 781.1L94.8 779.4L96.6 777.8L98.4 776.2L100.1 774.6L101.9 773L103.7 771.5L105.5 769.9L107.3 768.4L109.1 766.8L110.8 765.3L112.6 763.8L114.4 762.3L116.2 760.8L118 759.3L119.8 757.9L121.6 756.4L123.3 755L125.1 753.5L126.9 752.1L128.7 750.7L130.5 749.3L132.3 747.9L134.1 746.6L135.8 745.2L137.6 743.9L139.4 742.5L141.2 741.2L143 739.9L144.8 738.6L146.6 737.3L148.3 736L150.1 734.8L151.9 733.5L153.7 732.3L155.5 731.1L157.3 729.9L159 728.7L160.8 727.5L162.6 726.3L164.4 725.1L166.2 724L168 722.9L169.8 721.8L171.5 720.6L173.3 719.6L175.1 718.5L176.9 717.4L178.7 716.4L180.5 715.3L182.2 714.3L184 713.3L185.8 712.3L187.6 711.3L189.4 710.3L191.2 709.4L193 708.4L194.7 707.5L196.5 706.6L198.3 705.7L200.1 704.8L201.9 703.9L203.7 703.1L205.5 702.2L207.2 701.4L209 700.6L210.8 699.8L212.6 699L214.4 698.2L216.2 697.4L217.9 696.7L219.7 696L221.5 695.2L223.3 694.5L225.1 693.8L226.9 693.2L228.7 692.5L230.4 691.9L232.2 691.2L234 690.6L235.8 690L237.6 689.4L239.4 688.8L241.2 688.3L242.9 687.7L244.7 687.2L246.5 686.7L248.3 686.2L250.1 685.7L251.9 685.2L253.6 684.8L255.4 684.3L257.2 683.9L259 683.5L260.8 683.1L262.6 682.7L264.4 682.4L266.1 682L267.9 681.7L269.7 681.3L271.5 681L273.3 680.7L275.1 680.5L276.9 680.2L278.6 679.9L280.4 679.7L282.2 679.5L284 679.3L285.8 679.1L287.6 678.9L289.4 678.8L291.1 678.6L292.9 678.5L294.7 678.4L296.5 678.3L298.3 678.2L300.1 678.1L301.8 678.1L303.6 678.1L305.4 678L307.2 678" fill="none" stroke="#1f77b4" stroke-width="1.6"/><path d="M93 781.1L94.8 782.7L96.6 784.3L98.4 786L100.1 787.7L101.9 789.3L103.7 791L105.5 792.7L107.3 794.4L109.1 796.1L110.8 797.9L112.6 799.6L114.4 801.3L116.2 803.1L118 804.9L119.8 806.6L121.6 808.4L123.3 810.2L125.1 812L126.9 813.8L128.7 815.6L130.5 817.5L132.3 819.3L134.1 821.2L135.8 823L137.6 824.9L139.4 826.8L141.2 828.7L143 830.5L144.8 832.5L146.6 834.4L148.3 836.3L150.1 838.2L151.9 840.1L153.7 842.1L155.5 844L157.3 846L159 848L160.8 849.9L162.6 851.9L164.4 853.9L166.2 855.9L168 857.9L169.8 859.9L171.5 861.9L173.3 864L175.1 866L176.9 868L178.7 870.1L180.5 872.2L182.2 874.2L184 876.3L185.8 878.4L187.6 880.4L189.4 882.5L191.2 884.6L193 886.7L194.7 888.8L196.5 890.9L198.3 893.1L200.1 895.2L201.9 897.3L203.7 899.4L205.5 901.6L207.2 903.7L209 905.9L210.8 908L212.6 910.2L214.4 912.4L216.2 914.5L217.9 916.7L219.7 918.9L221.5 921.1L223.3 923.3L225.1 925.5L226.9 927.7L228.7 929.9L230.4 932.1L232.2 934.3L234 936.5L235.8 938.8L237.6 941L239.4 943.2L241.2 945.4L242.9 947.7L244.7 949.9L246.5 952.2L248.3 954.4L250.1 956.7L251.9 958.9L253.6 961.2L255.4 963.4L257.2 965.7L259 968L260.8 970.2L262.6 972.5L264.4 974.8L266.1 977L267.9 979.3L269.7 981.6L271.5 983.9L273.3 986.2L275.1 988.5L276.9 990.7L278.6 993L280.4 995.3L282.2 997.6L284 999.9L285.8 1002.2L287.6 1004.5L289.4 1006.8L291.1 1009.1L292.9 1011.4L294.7 1013.7L296.5 1016L298.3 1018.3L300.1 1020.6L301.8 1022.9L303.6 1025.2L305.4 1027.5L307.2 1029.8" fill="none" stroke="#1f77b4" stroke-width="1.6"/><path d="M93 1007.3L94.8 1007.1L96.6 1007L98.4 1006.9L100.1 1006.7L101.9 1006.6L103.7 1006.5L105.5 1006.4L107.3 1006.2L109.1 1006.1L110.8 1006L112.6 1005.9L114.4 1005.8L116.2 1005.6L118 1005.5L119.8 1005.4L121.6 1005.3L123.3 1005.2L125.1 1005.1L126.9 1005L128.7 1004.9L130.5 1004.7L132.3 1004.6L134.1 1004.5L135.8 1004.4L137.6 1004.3L139.4 1004.2L141.2 1004.1L143 1004L144.8 1003.9L146.6 1003.8L148.3 1003.7L150.1 1003.6L151.9 1003.5L153.7 1003.4L155.5 1003.3L157.3 1003.2L159 1003.1L160.8 1003L162.6 1002.9L164.4 1002.8L166.2 1002.8L168 1002.7L169.8 1002.6L171.5 1002.5L173.3 1002.4L175.1 1002.3L176.9 1002.3L178.7 1002.2L180.5 1002.1L182.2 1002L184 1001.9L185.8 1001.9L187.6 1001.8L189.4 1001.7L191.2 1001.6L193 1001.6L194.7 1001.5L196.5 1001.4L198.3 1001.4L200.1 1001.3L201.9 1001.2L203.7 1001.2L205.5 1001.1L207.2 1001L209 1001L210.8 1000.9L212.6 1000.9L214.4 1000.8L216.2 1000.8L217.9 1000.7L219.7 1000.6L221.5 1000.6L223.3 1000.5L225.1 1000.5L226.9 1000.4L228.7 1000.4L230.4 1000.4L232.2 1000.3L234 1000.3L235.8 1000.2L237.6 1000.2L239.4 1000.1L241.2 1000.1L242.9 1000.1L244.7 1000L246.5 1000L248.3 1000L250.1 999.9L251.9 999.9L253.6 999.9L255.4 999.8L257.2 999.8L259 999.8L260.8 999.8L262.6 999.7L264.4 999.7L266.1 999.7L267.9 999.7L269.7 999.7L271.5 999.6L273.3 999.6L275.1 999.6L276.9 999.6L278.6 999.6L280.4 999.6L282.2 999.6L284 999.6L285.8 999.6L287.6 999.6L289.4 999.5L291.1 999.5L292.9 999.5L294.7 999.5L296.5 999.5L298.3 999.6L300.1 999.6L301.8 999.6L303.6 999.6L305.4 999.6L307.2 999.6" fill="none" stroke="#1f77b4" stroke-width="1.6"/><path d="M93 1007.3L94.8 1007.4L96.6 1007.6L98.4 1007.7L100.1 1007.9L101.9 1008L103.7 1008.2L105.5 1008.3L107.3 1008.5L109.1 1008.6L110.8 1008.8L112.6 1009L114.4 1009.1L116.2 1009.3L118 1009.4L119.8 1009.6L121.6 1009.8L123.3 1009.9L125.1 1010.1L126.9 1010.3L128.7 1010.4L130.5 1010.6L132.3 1010.8L134.1 1010.9L135.8 1011.1L137.6 1011.3L139.4 1011.4L141.2 1011.6L143 1011.8L144.8 1012L146.6 1012.1L148.3 1012.3L150.1 1012.5L151.9 1012.7L153.7 1012.8L155.5 1013L157.3 1013.2L159 1013.4L160.8 1013.5L162.6 1013.7L164.4 1013.9L166.2 1014.1L168 1014.3L169.8 1014.5L171.5 1014.6L173.3 1014.8L175.1 1015L176.9 1015.2L178.7 1015.4L180.5 1015.6L182.2 1015.8L184 1015.9L185.8 1016.1L187.6 1016.3L189.4 1016.5L191.2 1016.7L193 1016.9L194.7 1017.1L196.5 1017.3L198.3 1017.5L200.1 1017.7L201.9 1017.8L203.7 1018L205.5 1018.2L207.2 1018.4L209 1018.6L210.8 1018.8L212.6 1019L214.4 1019.2L216.2 1019.4L217.9 1019.6L219.7 1019.8L221.5 1020L223.3 1020.2L225.1 1020.4L226.9 1020.6L228.7 1020.8L230.4 1021L232.2 1021.2L234 1021.4L235.8 1021.6L237.6 1021.8L239.4 1022L241.2 1022.2L242.9 1022.4L244.7 1022.6L246.5 1022.8L248.3 1023L250.1 1023.2L251.9 1023.4L253.6 1023.6L255.4 1023.8L257.2 1024L259 1024.2L260.8 1024.4L262.6 1024.6L264.4 1024.8L266.1 1025L267.9 1025.2L269.7 1025.5L271.5 1025.7L273.3 1025.9L275.1 1026.1L276.9 1026.3L278.6 1026.5L280.4 1026.7L282.2 1026.9L284 1027.1L285.8 1027.3L287.6 1027.5L289.4 1027.7L291.1 1027.9L292.9 1028.6L294.7 1029.5L296.5 1030.4L298.3 1031.3L300.1 1031.3L301.8 1031.3L303.6 1031.3L305.4 1031.3L307.2 1031.3" fill="none" stroke="#1f77b4" stroke-width="1.6"/><path d="M93 765.1L96.6 761.7L100.1 758.3L103.7 754.9L107.3 751.6L110.8 748.4L114.4 745.2L118 742L121.6 738.9L125.1 735.8L128.7 732.8L132.3 729.9L135.8 727L139.4 724.1L143 721.3L146.6 718.6L150.1 715.9L153.7 713.2L157.3 710.6L160.8 708.1L164.4 705.6L168 703.2L171.5 700.8L175.1 698.5L178.7 696.3L182.2 694.1L185.8 691.9L189.4 689.9L193 687.8L196.5 685.9L200.1 684L203.7 682.1L207.2 680.3L210.8 678.6L214.4 676.9L217.9 675.3L221.5 673.8L225.1 672.3L228.7 670.9L232.2 669.5L235.8 668.2L239.4 667L242.9 665.8L246.5 664.7L250.1 663.7L253.6 662.7L257.2 661.7L260.8 660.9L264.4 660.1L267.9 659.3L271.5 658.7L275.1 658.1L278.6 657.5L282.2 657L285.8 656.6L289.4 656.3L292.9 656L296.5 655.8L300.1 655.6L303.6 655.5L307.2 655.5" fill="none" stroke="#ff7f0e" stroke-width="1.6"/><path d="M93 765.1L96.6 768.6L100.1 772.1L103.7 775.7L107.3 779.3L110.8 783L114.4 786.7L118 790.4L121.6 794.2L125.1 798.1L128.7 801.9L132.3 805.8L135.8 809.8L139.4 813.8L143 817.8L146.6 821.8L150.1 825.9L153.7 830.1L157.3 834.2L160.8 838.4L164.4 842.6L168 846.9L171.5 851.2L175.1 855.5L178.7 859.9L182.2 864.2L185.8 868.6L189.4 873.1L193 877.5L196.5 882L200.1 886.6L203.7 891.1L207.2 895.7L210.8 900.2L214.4 904.8L217.9 909.5L221.5 914.1L225.1 918.8L228.7 923.5L232.2 928.2L235.8 932.9L239.4 937.7L242.9 942.4L246.5 947.2L250.1 952L253.6 956.8L257.2 961.6L260.8 966.4L264.4 971.2L267.9 976.1L271.5 980.9L275.1 985.8L278.6 990.7L282.2 995.5L285.8 1000.4L289.4 1005.3L292.9 1010.2L296.5 1015.1L300.1 1020L303.6 1024.9L307.2 1029.8" fill="none" stroke="#ff7f0e" stroke-width="1.6"/><path d="M93 890.8L96.6 888.9L100.1 887.2L103.7 885.4L107.3 883.7L110.8 882L114.4 880.3L118 878.6L121.6 877L125.1 875.4L128.7 873.8L132.3 872.2L135.8 870.7L139.4 869.2L143 867.7L146.6 866.3L150.1 864.9L153.7 863.5L157.3 862.1L160.8 860.8L164.4 859.5L168 858.2L171.5 857L175.1 855.8L178.7 854.6L182.2 853.4L185.8 852.3L189.4 851.2L193 850.2L196.5 849.1L200.1 848.1L203.7 847.2L207.2 846.2L210.8 845.3L214.4 844.4L217.9 843.6L221.5 842.8L225.1 842L228.7 841.3L232.2 840.5L235.8 839.9L239.4 839.2L242.9 838.6L246.5 838L250.1 837.5L253.6 836.9L257.2 836.5L260.8 836L264.4 835.6L267.9 835.2L271.5 834.8L275.1 834.5L278.6 834.2L282.2 834L285.8 833.8L289.4 833.6L292.9 833.4L296.5 833.3L300.1 833.2L303.6 833.2L307.2 833.2" fill="none" stroke="#ff7f0e" stroke-width="1.6"/><path d="M93 890.8L96.6 892.6L100.1 894.4L103.7 896.3L107.3 898.2L110.8 900.1L114.4 902.1L118 904.1L121.6 906.1L125.1 908.1L128.7 910.1L132.3 912.1L135.8 914.2L139.4 916.3L143 918.4L146.6 920.6L150.1 922.7L153.7 924.9L157.3 927.1L160.8 929.3L164.4 931.5L168 933.7L171.5 936L175.1 938.2L178.7 940.5L182.2 942.8L185.8 945.1L189.4 947.5L193 949.8L196.5 952.2L200.1 954.6L203.7 956.9L207.2 959.3L210.8 961.7L214.4 964.2L217.9 966.6L221.5 969L225.1 971.5L228.7 974L232.2 976.4L235.8 978.9L239.4 981.4L242.9 983.9L246.5 986.4L250.1 988.9L253.6 991.4L257.2 994L260.8 996.5L264.4 999L267.9 1001.6L271.5 1004.1L275.1 1006.7L278.6 1009.2L282.2 1011.8L285.8 1014.4L289.4 1016.9L292.9 1019.5L296.5 1022.1L300.1 1024.7L303.6 1027.2L307.2 1029.8" fill="none" stroke="#ff7f0e" stroke-width="1.6"/><rect x="93" y="579" width="214.2" height="495.5" fill="none" stroke="#000" stroke-width="1.9"/><path d="M93 1029.8h10M93 939.6h10M93 849.4h10M93 759.2h10M93 669h10" stroke="#000" stroke-width="1.5" fill="none"/><g font-family='"Liberation Sans", Arial, Helvetica, sans-serif' font-size="23" fill="#000"><text x="86.2" y="1038.7" text-anchor="end">0</text><text x="86.2" y="948.5" text-anchor="end">1</text><text x="86.2" y="858.3" text-anchor="end">2</text><text x="86.2" y="768.1" text-anchor="end">3</text><text x="86.2" y="677.9" text-anchor="end">4</text><text x="86.2" y="587.7" text-anchor="end">5</text></g><g font-family='"Liberation Sans", Arial, Helvetica, sans-serif' font-size="24.3" fill="#000"><text x="93.3" y="1099" text-anchor="middle">A</text><text x="309" y="1099" text-anchor="middle">Γ</text><text transform="translate(50 827) rotate(-90)" text-anchor="middle">Phonon frequency (THz)</text><text x="123" y="657" fill="#ff7f0e">AB-stacked</text><text x="183.5" y="744.5" fill="#1f77b4">Twisted</text></g><text x="0.3" y="567.6" font-family='"Liberation Sans", Arial, Helvetica, sans-serif' font-size="30" fill="#000">(c)</text></g>
<g id="panelD"><defs><linearGradient id="gOT" gradientUnits="userSpaceOnUse" x1="0" y1="616" x2="0" y2="704"><stop offset="0" stop-color="#fed5a2"/><stop offset="0.45" stop-color="#fdbf85"/><stop offset="1" stop-color="#fca354"/></linearGradient><linearGradient id="gOF" gradientUnits="userSpaceOnUse" x1="0" y1="670" x2="0" y2="768"><stop offset="0" stop-color="#fca455"/><stop offset="0.5" stop-color="#fdba7c"/><stop offset="1" stop-color="#fed7a6"/></linearGradient><linearGradient id="gOL" x1="0" y1="0" x2="1" y2="0"><stop offset="0" stop-color="#fdc48d"/><stop offset="0.55" stop-color="#fdcd9c"/><stop offset="0.85" stop-color="#fee2bf"/><stop offset="1" stop-color="#fff6e6"/></linearGradient><linearGradient id="gOL2" x1="1" y1="0" x2="0" y2="0"><stop offset="0" stop-color="#fdc48d"/><stop offset="0.55" stop-color="#fdcd9c"/><stop offset="0.85" stop-color="#fee2bf"/><stop offset="1" stop-color="#fff6e6"/></linearGradient><linearGradient id="gBT" gradientUnits="userSpaceOnUse" x1="0" y1="845" x2="0" y2="958"><stop offset="0" stop-color="#a6e0fd"/><stop offset="0.5" stop-color="#80cffc"/><stop offset="1" stop-color="#56bcfb"/></linearGradient><linearGradient id="gBF" gradientUnits="userSpaceOnUse" x1="0" y1="955" x2="0" y2="1052"><stop offset="0" stop-color="#56bcfb"/><stop offset="0.5" stop-color="#7ccdfc"/><stop offset="1" stop-color="#abe3fd"/></linearGradient><linearGradient id="gEdge" x1="0" y1="0" x2="1" y2="0"><stop offset="0" stop-color="#c4ecff" stop-opacity="0.75"/><stop offset="1" stop-color="#c4ecff" stop-opacity="0"/></linearGradient><linearGradient id="gEdgeD" x1="1" y1="0" x2="0" y2="0"><stop offset="0" stop-color="#4fb4f5" stop-opacity="0.45"/><stop offset="1" stop-color="#4fb4f5" stop-opacity="0"/></linearGradient><linearGradient id="gBL" x1="0" y1="0" x2="1" y2="0"><stop offset="0" stop-color="#8fd6fc"/><stop offset="0.55" stop-color="#9adbfc"/><stop offset="0.85" stop-color="#c6edfe"/><stop offset="1" stop-color="#f0fbff"/></linearGradient><linearGradient id="gBL2" x1="1" y1="0" x2="0" y2="0"><stop offset="0" stop-color="#8fd6fc"/><stop offset="0.55" stop-color="#9adbfc"/><stop offset="0.85" stop-color="#c6edfe"/><stop offset="1" stop-color="#f0fbff"/></linearGradient><radialGradient id="gRed" cx="0.45" cy="0.4" r="0.7"><stop offset="0" stop-color="#f9585c"/><stop offset="1" stop-color="#f1393f"/></radialGradient><radialGradient id="gBlu" cx="0.45" cy="0.35" r="0.7"><stop offset="0" stop-color="#5a57f7"/><stop offset="1" stop-color="#5855ee"/></radialGradient><radialGradient id="gGlow"><stop offset="0" stop-color="#ee8f92" stop-opacity="0.42"/><stop offset="0.45" stop-color="#f2a5a7" stop-opacity="0.2"/><stop offset="1" stop-color="#f8c6c7" stop-opacity="0"/></radialGradient><linearGradient id="gW1" gradientUnits="userSpaceOnUse" x1="0" y1="586" x2="0" y2="790"><stop offset="0" stop-color="#d9525c"/><stop offset="0.6" stop-color="#da5560"/><stop offset="1" stop-color="#ea8a90"/></linearGradient><linearGradient id="gW2" gradientUnits="userSpaceOnUse" x1="0" y1="851" x2="0" y2="953"><stop offset="0" stop-color="#d9525c"/><stop offset="0.6" stop-color="#da5560"/><stop offset="1" stop-color="#ea8a90"/></linearGradient></defs><ellipse cx="536" cy="660" rx="40" ry="112" fill="url(#gGlow)"/><ellipse cx="535" cy="890" rx="42" ry="58" fill="url(#gGlow)"/><path d="M471 686.1H626" stroke="#f5821f" stroke-width="3.4" stroke-dasharray="11.4 6.5" fill="none"/><path d="M470 956.3H628" stroke="#1f6eb0" stroke-width="3.2" stroke-dasharray="11.9 6.8" fill="none"/><ellipse cx="763" cy="620.3" rx="8.8" ry="5.1" fill="#fbd2d3" opacity="0.85"/><circle cx="763" cy="620.3" r="5" fill="url(#gRed)"/><ellipse cx="753" cy="615.2" rx="10.5" ry="6.1" fill="#fbd2d3" opacity="0.85"/><circle cx="753" cy="615.2" r="6" fill="url(#gRed)"/><ellipse cx="740.4" cy="608.2" rx="11.9" ry="6.9" fill="#fbd2d3" opacity="0.85"/><circle cx="740.4" cy="608.2" r="6.8" fill="url(#gRed)"/><ellipse cx="724" cy="599.6" rx="13.1" ry="7.7" fill="#fbd2d3" opacity="0.85"/><circle cx="724" cy="599.6" r="7.5" fill="url(#gRed)"/><ellipse cx="854.6" cy="621.6" rx="9.3" ry="5.4" fill="#fbd2d3" opacity="0.85"/><circle cx="854.6" cy="621.6" r="5.3" fill="url(#gRed)"/><ellipse cx="853" cy="615.6" rx="10.5" ry="6.1" fill="#fbd2d3" opacity="0.85"/><circle cx="853" cy="615.6" r="6" fill="url(#gRed)"/><ellipse cx="851.6" cy="608" rx="11.9" ry="6.9" fill="#fbd2d3" opacity="0.85"/><circle cx="851.6" cy="608" r="6.8" fill="url(#gRed)"/><ellipse cx="849.4" cy="598.9" rx="13" ry="7.5" fill="#fbd2d3" opacity="0.85"/><circle cx="849.4" cy="598.9" r="7.4" fill="url(#gRed)"/><ellipse cx="945.3" cy="620.8" rx="8.8" ry="5.1" fill="#fbd2d3" opacity="0.85"/><circle cx="945.3" cy="620.8" r="5" fill="url(#gRed)"/><ellipse cx="952" cy="615.2" rx="10.5" ry="6.1" fill="#fbd2d3" opacity="0.85"/><circle cx="952" cy="615.2" r="6" fill="url(#gRed)"/><ellipse cx="962.2" cy="608.2" rx="11.9" ry="6.9" fill="#fbd2d3" opacity="0.85"/><circle cx="962.2" cy="608.2" r="6.8" fill="url(#gRed)"/><ellipse cx="974.8" cy="599.6" rx="13.1" ry="7.7" fill="#fbd2d3" opacity="0.85"/><circle cx="974.8" cy="599.6" r="7.5" fill="url(#gRed)"/><ellipse cx="1036.7" cy="619" rx="8.8" ry="5.1" fill="#fbd2d3" opacity="0.85"/><circle cx="1036.7" cy="619" r="5" fill="url(#gRed)"/><ellipse cx="1053.8" cy="614.5" rx="10.5" ry="6.1" fill="#fbd2d3" opacity="0.85"/><circle cx="1053.8" cy="614.5" r="6" fill="url(#gRed)"/><ellipse cx="1074" cy="608.2" rx="11.9" ry="6.9" fill="#fbd2d3" opacity="0.85"/><circle cx="1074" cy="608.2" r="6.8" fill="url(#gRed)"/><ellipse cx="1099.2" cy="599.6" rx="13.1" ry="7.7" fill="#fbd2d3" opacity="0.85"/><circle cx="1099.2" cy="599.6" r="7.5" fill="url(#gRed)"/><ellipse cx="692.5" cy="763.6" rx="9.6" ry="5.6" fill="#fbd2d3" opacity="0.85"/><circle cx="692.5" cy="763.6" r="5.5" fill="url(#gRed)"/><ellipse cx="673.6" cy="771" rx="12.2" ry="7.1" fill="#fbd2d3" opacity="0.85"/><circle cx="673.6" cy="771" r="7" fill="url(#gRed)"/><ellipse cx="647.8" cy="783" rx="14.5" ry="8.5" fill="#fbd2d3" opacity="0.85"/><circle cx="647.8" cy="783" r="8.3" fill="url(#gRed)"/><ellipse cx="806" cy="753.5" rx="9.6" ry="5.6" fill="#fbd2d3" opacity="0.85"/><circle cx="806" cy="753.5" r="5.5" fill="url(#gRed)"/><ellipse cx="799.7" cy="761" rx="11" ry="6.4" fill="#fbd2d3" opacity="0.85"/><circle cx="799.7" cy="761" r="6.3" fill="url(#gRed)"/><ellipse cx="791.4" cy="771" rx="12.8" ry="7.4" fill="#fbd2d3" opacity="0.85"/><circle cx="791.4" cy="771" r="7.3" fill="url(#gRed)"/><ellipse cx="781.6" cy="783" rx="14.5" ry="8.5" fill="#fbd2d3" opacity="0.85"/><circle cx="781.6" cy="783" r="8.3" fill="url(#gRed)"/><ellipse cx="901.6" cy="752.8" rx="9.6" ry="5.6" fill="#fbd2d3" opacity="0.85"/><circle cx="901.6" cy="752.8" r="5.5" fill="url(#gRed)"/><ellipse cx="905" cy="761" rx="11" ry="6.4" fill="#fbd2d3" opacity="0.85"/><circle cx="905" cy="761" r="6.3" fill="url(#gRed)"/><ellipse cx="909.2" cy="770.4" rx="12.8" ry="7.4" fill="#fbd2d3" opacity="0.85"/><circle cx="909.2" cy="770.4" r="7.3" fill="url(#gRed)"/><ellipse cx="915" cy="783" rx="14.5" ry="8.5" fill="#fbd2d3" opacity="0.85"/><circle cx="915" cy="783" r="8.3" fill="url(#gRed)"/><ellipse cx="1011" cy="761.6" rx="11" ry="6.4" fill="#fbd2d3" opacity="0.85"/><circle cx="1011" cy="761.6" r="6.3" fill="url(#gRed)"/><ellipse cx="1027" cy="770.4" rx="12.8" ry="7.4" fill="#fbd2d3" opacity="0.85"/><circle cx="1027" cy="770.4" r="7.3" fill="url(#gRed)"/><ellipse cx="1048" cy="783" rx="14.5" ry="8.5" fill="#fbd2d3" opacity="0.85"/><circle cx="1048" cy="783" r="8.3" fill="url(#gRed)"/><path d="M1100 664C1101.5 662.8 1106.1 659.3 1109 657C1111.9 654.7 1114.6 652.7 1117.6 650C1120.6 647.3 1123.9 644.2 1127 641C1130.1 637.8 1133.5 633.6 1136 631C1138.5 628.4 1141 626.2 1142 625.2L1142 625.2C1141.8 626.7 1141 631.1 1140.5 634C1140 636.9 1139.8 638.8 1138.7 642.3C1137.6 645.8 1136.9 650.7 1133.8 655C1130.7 659.3 1122.3 665.8 1120 668Z" fill="url(#gOL)"/><path d="M1078 660C1079.7 659.2 1084.9 657 1088 655C1091.1 653 1093.9 650.2 1096.4 648C1098.9 645.8 1100.9 643.8 1103 641.5C1105.1 639.2 1107.1 636.3 1109 634.5C1110.9 632.7 1113.4 631.5 1114.3 630.9L1114.3 630.9C1114.1 632.4 1113.5 637 1113 640C1112.5 643 1111.8 645.8 1111 648.8C1110.2 651.8 1110.7 654.8 1108 658C1105.3 661.2 1097.2 666.3 1095 668Z" fill="url(#gOL)"/><path d="M1066 648C1068 646.8 1075 642.8 1078 641C1081 639.2 1082.3 638.4 1084 637.5C1085.7 636.6 1086.8 635.9 1088 635.5C1089.2 635.1 1090.9 635.1 1091.5 635L1091.5 635C1091.4 636 1091.2 639 1091 641C1090.8 643 1090.5 644.7 1090 647.2C1089.5 649.7 1090.5 653.5 1088 656C1085.5 658.5 1077.2 661 1075 662Z" fill="url(#gOL)"/><path d="M649.3 617.9C651.2 618.7 657.5 621.1 660.7 622.8C663.9 624.5 667.2 627.1 668.5 628L668.5 628L671.5 625.6L675.3 625.2L675.3 625.2C676.8 625.9 681.5 627.9 684 629.5C686.5 631.1 689.4 633.9 690.5 634.8L690.5 634.8L692 631L694.8 630L694.8 630C696.2 630.7 700.6 632.4 703 634C705.4 635.6 708 638.8 709 639.8L709 639.8L710 636L712.7 635L712.7 635C714.7 636.2 721.2 639.7 724.8 642.3C728.4 644.9 732.9 649.1 734.5 650.5L734.5 650.5C736.7 648.6 743.2 643 747.5 639C751.8 635 756.4 630 760.5 626.8C764.6 623.5 768.4 621 771.9 619.5C775.4 618 778.2 617.6 781.7 617.9C785.2 618.2 789 618.9 793 621.1C797 623.3 801.4 627.1 806 630.9C810.6 634.7 816.1 639.8 820.7 643.9C825.3 648 829.9 652.5 833.7 655.3C837.5 658.1 840.8 659.4 843.5 660.5C846.2 661.6 847 662.3 850 661.8C853 661.3 857.2 660.1 861.3 657.7C865.3 655.3 869.9 651 874.3 647.2C878.6 643.4 882.9 639.2 887.4 635C891.9 630.8 896.6 624.9 901 622C905.4 619.1 909.9 618 914 617.9C918.1 617.8 921.3 618.8 925.4 621.1C929.5 623.4 934.1 627.9 938.4 631.7C942.7 635.5 947.3 640.1 951.4 643.9C955.5 647.7 960.2 652.3 962.8 654.5C965.4 656.7 966.2 656.5 966.9 656.9L966.9 656.9C968.4 655.5 972.1 651.9 975.8 648.8C979.4 645.7 983.9 641.1 988.8 638.2C993.7 635.4 999.6 633.7 1005 631.7C1010.4 629.7 1015.9 627.9 1021.3 626C1026.7 624.1 1033.2 621.6 1037.6 620.3C1041.9 618.9 1043.6 617.5 1047.4 617.9C1051.2 618.3 1056.3 620.4 1060.7 622.8C1065.1 625.2 1069.7 629.2 1073.7 632.5C1077.8 635.8 1081.2 638.8 1085 642.3C1088.8 645.8 1092.3 650.7 1096.4 653.7C1100.5 656.7 1105.3 659 1109.4 660.2C1113.5 661.4 1116.7 662.1 1120.8 661C1124.9 659.9 1129.5 657.1 1133.8 653.7C1138.1 650.3 1142.5 644.9 1146.8 640.7C1151.1 636.5 1154.5 632.3 1159.8 628.5C1165.1 624.7 1175.4 619.7 1178.5 617.9L1178.5 617.9L1172.8 632.5L1168.8 648.8L1163.9 661.8L1163.9 661.8C1162.4 662.2 1158.4 662.3 1155 664.2C1151.6 666.1 1147.7 669.5 1143.6 673.2C1139.5 676.9 1134.9 682.1 1130.6 686.2C1126.3 690.3 1121.9 694.8 1117.6 697.6C1113.3 700.5 1108.4 702.5 1104.6 703.3C1100.8 704.1 1099.9 703.5 1095 702.5C1090.1 701.5 1080.8 699.9 1075.3 697.1C1069.8 694.3 1066.8 688.9 1062.3 685.7C1057.8 682.5 1051.8 678.9 1048 677.8C1044.2 676.7 1042.6 677.9 1039.2 679.2C1035.8 680.5 1031.9 682.5 1027.8 685.7C1023.7 689 1019.1 694.4 1014.8 698.7C1010.5 703 1006.1 708.1 1001.8 711.7C997.5 715.4 993.1 718.8 988.8 720.6C984.5 722.4 980.1 722.7 975.8 722.3C971.5 721.9 967.1 720.7 962.8 718.2C958.5 715.8 954.1 711.5 949.8 707.6C945.5 703.7 941.1 698.7 936.8 694.6C932.5 690.5 928.1 685.9 923.8 683.2C919.5 680.5 915.4 678.7 910.8 678.4C906.2 678.1 900.2 679.2 896 681.6C891.8 684 888.8 689.3 885.3 693C881.8 696.7 879 699.7 875 704C871 708.3 865.5 716 861.3 719C857.1 722 853.5 722 850 722.3C846.5 722.6 843.7 722 840.2 720.6C836.7 719.2 832.9 717.2 828.8 714.1C824.7 711 820.1 706.1 815.8 701.9C811.5 697.7 806.9 692.4 802.8 688.9C798.7 685.4 795.2 682.4 791.4 680.8C787.6 679.2 783.5 678.8 780 679.2C776.5 679.6 773.5 681 770.3 683.2C767 685.4 764.3 688.3 760.5 692.2C756.7 696.1 751.6 702.9 747.5 706.8C743.4 710.7 739.2 714 736 715.5C732.8 717 731.3 717.6 728 716C724.7 714.4 719.1 709.1 716 706C712.9 702.9 713.3 701.2 709.5 697.6C705.7 694 698.4 689.2 693.2 684.6C688.1 680 682.7 673.4 678.6 669.9C674.5 666.4 671.6 664.6 668.8 663.4C665.9 662.2 662.7 662.7 661.5 662.6L661.5 662.6L659 656.9L654.2 637.4L649.3 617.9Z" fill="url(#gOT)"/><path d="M668.5 628L673.3 625.4L679.3 626.7L677.5 637Z" fill="url(#gOL2)" opacity="0.9"/><path d="M690.5 634.8L692.8 630.2L698.8 631.5L699.5 643.8Z" fill="url(#gOL2)" opacity="0.9"/><path d="M709 639.8L710.7 635.2L716.7 636.5L718 648.8Z" fill="url(#gOL2)" opacity="0.9"/><path d="M1026 722C1027.7 723.6 1033.4 728.9 1036.4 731.4C1039.4 733.9 1041.4 735.6 1044 737C1046.6 738.4 1050.6 739.2 1051.9 739.7L1051.9 739.7C1051.2 738.4 1049.3 734.4 1048 732C1046.7 729.6 1045.5 727.6 1044.2 725.3C1042.9 723 1040.7 719.2 1040 718Z" fill="url(#gOL)"/><path d="M1034 724C1036.1 725.7 1041.8 731 1046.4 734.2C1051 737.4 1057.4 741 1061.8 743C1066.2 745 1071.1 745.8 1072.9 746.3L1072.9 746.3C1071.4 744.4 1067.3 739 1064 735C1060.7 731 1056 725.5 1053 722C1050 718.5 1047.2 715.3 1046 714Z" fill="url(#gOL)"/><path d="M1046 722C1048 723.6 1054.6 728.7 1058 731.5C1061.4 734.3 1062.1 735.6 1066.2 738.6C1070.3 741.6 1077.5 746.9 1082.8 749.6C1088.1 752.3 1095.7 753.8 1098.3 754.6L1098.3 754.6C1097 752.5 1094 746.6 1090.5 741.9C1087 737.2 1081.4 730.7 1077.3 726.4C1073.2 722.1 1067.9 717.7 1066 716Z" fill="url(#gOL)"/><path d="M644 716C643.3 716.8 642.5 718.7 639.6 721C636.7 723.3 631.1 725.8 626.5 730C621.9 734.2 616 742.3 612 746.3C608 750.2 603.8 752.5 602.2 753.7L602.2 753.7C602.7 751.8 603.4 746.2 605 742C606.6 737.8 608.7 732.5 612 728.5C615.3 724.5 622.8 719.8 625 718Z" fill="url(#gOL2)"/><path d="M652 718C652.1 720.8 654.6 731 652.6 735C650.6 739 643.5 740.2 640 742C636.5 743.8 632.8 744.9 631.4 745.5L631.4 745.5C632.2 743.6 633.6 738.1 636 734C638.4 729.9 644.3 723.2 646 721Z" fill="url(#gOL2)"/><path d="M664 726C664 727.8 665.6 734.7 664 737C662.4 739.3 655.8 739.3 654.2 739.8L654.2 739.8C654.7 738.5 656.2 734.6 657 732C657.8 729.4 658.7 725.3 659 724Z" fill="url(#gOL2)"/><path d="M663.9 676.4C665.8 675.9 671.5 673.2 675.3 673.2C679.1 673.2 682.6 674.1 686.6 676.4C690.6 678.7 695.3 683.1 699.6 687C703.9 690.9 708.3 695.9 712.6 700C716.9 704.1 721.5 708.6 725.6 711.4C729.7 714.2 733.8 715.6 737.1 716.6C740.4 717.6 743.9 717.4 745.2 717.5L745 722L690 722L660 690Z" fill="#fca658"/><path d="M579.4 717.9C581.6 717.2 587.5 716.6 592.4 713.8C597.3 710.9 603.3 705.7 608.7 700.8C614.1 695.9 620.3 688.8 624.9 684.6C629.5 680.4 632.5 677.6 636.3 675.6C640.1 673.6 643.9 672.4 647.7 672.4C651.5 672.4 655 673.3 659 675.6C663 677.9 667.7 682.3 672 686.2C676.3 690.1 680.7 695.1 685 699.2C689.3 703.3 693.9 707.8 698 710.6C702.1 713.4 706.2 714.8 709.5 715.8C712.8 716.8 714.6 717 717.6 716.7C720.6 716.4 724.3 715 727.4 713.8C730.5 712.6 732.6 711.7 736 709.5C739.4 707.3 743.4 704.7 747.5 700.8C751.6 696.9 756.7 690.1 760.5 686.2C764.3 682.3 767 679.4 770.3 677.2C773.5 675 776.5 673.6 780 673.2C783.5 672.8 787.6 673.2 791.4 674.8C795.2 676.4 798.7 679.4 802.8 682.9C806.9 686.4 811.5 691.7 815.8 695.9C820.1 700.1 824.7 705 828.8 708.1C832.9 711.2 836.7 713.2 840.2 714.6C843.7 716 846.5 716.6 850 716.3C853.5 716 857.1 716 861.3 713C865.5 710 871 702.3 875 698C879 693.7 881.8 690.7 885.3 687C888.8 683.3 891.8 678 896 675.6C900.2 673.2 906.2 672.1 910.8 672.4C915.4 672.7 919.5 674.5 923.8 677.2C928.1 679.9 932.5 684.5 936.8 688.6C941.1 692.7 945.5 697.7 949.8 701.6C954.1 705.5 958.5 709.8 962.8 712.2C967.1 714.7 971.5 715.9 975.8 716.3C980.1 716.7 984.5 716.4 988.8 714.6C993.1 712.8 997.5 709.4 1001.8 705.7C1006.1 702.1 1010.5 697 1014.8 692.7C1019.1 688.4 1023.7 683 1027.8 679.7C1031.9 676.5 1035.8 674.5 1039.2 673.2C1042.6 671.9 1044.2 670.7 1048 671.8C1051.8 672.9 1057.8 676.5 1062.3 679.7C1066.8 682.9 1071 687.3 1075.3 691.1C1079.6 694.9 1084 698.9 1088.3 702.4C1092.6 705.9 1097.5 709.9 1101.3 712.2C1105.1 714.5 1108.5 715.5 1111 716.3C1113.5 717.1 1115.4 717 1116.3 717.1L1116.3 717.1L1118.1 720.9L1122.6 734.2L1127 756.2L1130.4 766.2L1130.4 766.2C1128.9 765.7 1124.8 764.6 1121.5 762.9C1118.2 761.2 1115 759.7 1110.4 756.2C1105.8 752.7 1099.4 746.9 1093.9 741.9C1088.4 736.9 1082.5 730.1 1077.3 726.4C1072.1 722.7 1067.5 720.6 1063 719.8C1058.5 719 1054.4 719.6 1050 721.5C1045.6 723.4 1040.6 727.7 1036.4 731.4C1032.2 735.1 1028.7 739.4 1024.6 743.5C1020.5 747.6 1015.9 752.6 1011.6 756.1C1007.3 759.6 1002.9 762.6 998.6 764.2C994.3 765.8 989.9 766.4 985.6 765.9C981.3 765.4 976.9 763.5 972.6 761C968.3 758.5 964.5 755 959.6 751.2C954.7 747.4 948.4 742.5 943.3 738.2C938.1 733.9 933.3 728.3 928.7 725.2C924.1 722.1 920.3 719.8 915.7 719.5C911.1 719.2 905.6 721.3 901 723.6C896.4 725.9 892.3 729.4 888 733.3C883.7 737.2 880 742.2 875 747.2C870 752.2 863 760.3 858 763.4C853 766.5 849 766 845 765.9C841 765.8 837.8 764.5 833.7 762.6C829.7 760.7 825.3 758 820.7 754.5C816.1 751 810.9 745.8 806 741.5C801.1 737.2 795.7 731.9 791.4 728.5C787.1 725.1 784.6 720 780 721.1C775.4 722.2 769.2 731.1 763.8 735C758.4 738.9 752.9 741.7 747.5 744.7C742.1 747.7 736.3 749.5 731.3 752.8C726.3 756 722 761.9 717.6 764.2C713.2 766.5 708.7 767 704.6 766.7C700.5 766.4 697 764.6 693.2 762.6C689.4 760.6 686.4 758.3 681.8 754.5C677.2 750.7 671 744.7 665.6 739.8C660.2 734.9 654.2 728.6 649.3 725.2C644.4 721.8 640.3 720.3 636.3 719.5C632.2 718.7 629 718.8 625 720.3C621 721.8 616.9 724.4 612 728.5C607.1 732.6 601.1 739.6 595.7 744.7C590.3 749.8 584.8 755.8 579.4 759.3C574 762.8 565.8 764.8 563.1 765.9L563.1 765.9L571.3 741.5L579.4 717.9Z" fill="url(#gOF)"/><path d="M624.9 684.6C626.8 683.1 632.5 677.6 636.3 675.6C640.1 673.6 643.9 672.4 647.7 672.4C651.5 672.4 655 673.3 659 675.6C663 677.9 667.7 682.3 672 686.2C676.3 690.1 680.7 695.1 685 699.2C689.3 703.3 693.9 707.8 698 710.6C702.1 713.4 706.2 714.8 709.5 715.8C712.8 716.8 714.6 717 717.6 716.7C720.6 716.4 724.3 715 727.4 713.8C730.5 712.6 732.6 711.7 736 709.5C739.4 707.3 743.4 704.7 747.5 700.8C751.6 696.9 756.7 690.1 760.5 686.2C764.3 682.3 767 679.4 770.3 677.2C773.5 675 776.5 673.6 780 673.2C783.5 672.8 787.6 673.2 791.4 674.8C795.2 676.4 798.7 679.4 802.8 682.9C806.9 686.4 811.5 691.7 815.8 695.9C820.1 700.1 824.7 705 828.8 708.1C832.9 711.2 836.7 713.2 840.2 714.6C843.7 716 846.5 716.6 850 716.3C853.5 716 857.1 716 861.3 713C865.5 710 871 702.3 875 698C879 693.7 881.8 690.7 885.3 687C888.8 683.3 891.8 678 896 675.6C900.2 673.2 906.2 672.1 910.8 672.4C915.4 672.7 919.5 674.5 923.8 677.2C928.1 679.9 932.5 684.5 936.8 688.6C941.1 692.7 945.5 697.7 949.8 701.6C954.1 705.5 958.5 709.8 962.8 712.2C967.1 714.7 971.5 715.9 975.8 716.3C980.1 716.7 984.5 716.4 988.8 714.6C993.1 712.8 997.5 709.4 1001.8 705.7C1006.1 702.1 1010.5 697 1014.8 692.7C1019.1 688.4 1023.7 683 1027.8 679.7C1031.9 676.5 1035.8 674.5 1039.2 673.2C1042.6 671.9 1044.2 670.7 1048 671.8C1051.8 672.9 1057.8 676.5 1062.3 679.7C1066.8 682.9 1071 687.3 1075.3 691.1C1079.6 694.9 1084 698.9 1088.3 702.4C1092.6 705.9 1097.5 709.9 1101.3 712.2C1105.1 714.5 1109.4 715.6 1111 716.3" fill="none" stroke="#ffd560" stroke-width="1.1" opacity="0.9"/><path d="M673 676.1C675.2 677.9 681.7 682.8 686 686.7C690.3 690.6 694.7 695.6 699 699.7C703.3 703.8 707.9 708.3 712 711.1C716.1 713.9 720.2 715.3 723.5 716.3C726.8 717.3 730.2 717.1 731.6 717.2" fill="none" stroke="#ffd560" stroke-width="0.9" opacity="0.7"/><path d="M686.6 676.1C688.8 677.9 695.3 682.8 699.6 686.7C703.9 690.6 708.3 695.6 712.6 699.7C716.9 703.8 721.5 708.3 725.6 711.1C729.7 713.9 733.8 715.3 737.1 716.3C740.4 717.3 743.9 717.1 745.2 717.2" fill="none" stroke="#ffd560" stroke-width="0.9" opacity="0.7"/><path d="M739.4 696C742.1 693 750.8 682.9 755.7 678C760.6 673.1 763.8 669.4 768.7 666.7C773.6 664 779.8 661.8 784.9 661.8C790 661.8 795.1 664 799.6 666.5C804.1 669 807.3 672.6 812 677C816.7 681.4 822.8 688.8 828 693C833.2 697.2 838.8 700.2 843 702C847.2 703.8 851.5 703.3 853.2 703.6" fill="none" stroke="#ffdc68" stroke-width="0.9" opacity="0.9"/><path d="M744.4 696.8C747.1 693.8 755.8 683.6 760.7 678.8C765.6 673.9 768.8 670.2 773.7 667.5C778.6 664.8 784.8 662.6 789.9 662.5C795 662.5 800.1 664.7 804.6 667.2C809.1 669.8 812.3 673.3 817 677.8C821.7 682.2 827.8 689.6 833 693.8C838.2 697.9 843.8 701 848 702.8C852.2 704.5 856.5 704.1 858.2 704.4" fill="none" stroke="#ffdc68" stroke-width="0.9" opacity="0.7"/><path d="M749.4 697.5C752.1 694.5 760.8 684.4 765.7 679.5C770.6 674.6 773.8 670.9 778.7 668.2C783.6 665.5 789.8 663.3 794.9 663.3C800 663.3 805.1 665.5 809.6 668C814.1 670.5 817.3 674.1 822 678.5C826.7 682.9 832.8 690.3 838 694.5C843.2 698.7 848.8 701.7 853 703.5C857.2 705.3 861.5 704.8 863.2 705.1" fill="none" stroke="#ffdc68" stroke-width="0.9" opacity="0.55"/><path d="M865 697C867 694.8 872.3 688.8 877 684C881.7 679.2 887.3 672.1 893 668.5C898.7 664.9 905 662.5 911 662.5C917 662.5 923.2 664.8 929 668.5C934.8 672.2 940.5 679.8 946 685C951.5 690.2 957 696.5 962 699.5C967 702.5 973.5 702.7 975.8 703.3" fill="none" stroke="#ffdc68" stroke-width="0.9" opacity="0.9"/><path d="M870 697.8C872 695.6 877.3 689.5 882 684.8C886.7 680 892.3 672.8 898 669.2C903.7 665.7 910 663.2 916 663.2C922 663.2 928.2 665.5 934 669.2C939.8 673 945.5 680.6 951 685.8C956.5 690.9 962 697.2 967 700.2C972 703.3 978.5 703.4 980.8 704" fill="none" stroke="#ffdc68" stroke-width="0.9" opacity="0.7"/><path d="M875 698.5C877 696.3 882.3 690.2 887 685.5C891.7 680.8 897.3 673.6 903 670C908.7 666.4 915 664 921 664C927 664 933.2 666.2 939 670C944.8 673.8 950.5 681.3 956 686.5C961.5 691.7 967 698 972 701C977 704 983.5 704.2 985.8 704.8" fill="none" stroke="#ffdc68" stroke-width="0.9" opacity="0.55"/><path d="M990 698C992.5 695.7 999.7 689 1005 684C1010.3 679 1016.2 671.6 1022 668C1027.8 664.4 1034 662.3 1040 662.6C1046 662.9 1052.2 665.8 1058 670C1063.8 674.2 1070 683.2 1075 688C1080 692.8 1085.8 697.2 1088 699" fill="none" stroke="#ffdc68" stroke-width="0.9" opacity="0.9"/><path d="M995 698.8C997.5 696.4 1004.7 689.8 1010 684.8C1015.3 679.8 1021.2 672.3 1027 668.8C1032.8 665.2 1039 663 1045 663.4C1051 663.7 1057.2 666.5 1063 670.8C1068.8 675 1075 683.9 1080 688.8C1085 693.6 1090.8 697.9 1093 699.8" fill="none" stroke="#ffdc68" stroke-width="0.9" opacity="0.7"/><path d="M1000 699.5C1002.5 697.2 1009.7 690.5 1015 685.5C1020.3 680.5 1026.2 673.1 1032 669.5C1037.8 665.9 1044 663.8 1050 664.1C1056 664.4 1062.2 667.3 1068 671.5C1073.8 675.7 1080 684.7 1085 689.5C1090 694.3 1095.8 698.7 1098 700.5" fill="none" stroke="#ffdc68" stroke-width="0.9" opacity="0.55"/><path d="M795.5 668.6C800 669.3 804.5 671.2 808.5 674.3C804.5 673.4 800 673.2 797 673.4Z" fill="#fff"/><path d="M852 704.6C860 703 868 697 877 687.5C884 680 891 672.5 899.4 668.2C903 668.4 907.5 669.6 911.5 671.6C905 670.4 900 671.2 896 673.8C889 678.5 883 685.5 876.5 692.5C869 700.5 861 705.8 852 704.6Z" fill="#fff"/><path d="M952.5 699.4C955.5 701.4 958.5 702.8 961.6 703.4C958.5 703.6 955.5 702.8 952.5 699.4Z" fill="#fff"/><path d="M1027 663.4C1031 662.2 1035 662 1039 662.8" fill="none" stroke="#ffe07a" stroke-width="0.7" opacity="0.6"/><ellipse cx="631.4" cy="867.2" rx="11.9" ry="6.9" fill="#fbd2d3" opacity="0.85"/><circle cx="631.4" cy="867.2" r="6.8" fill="url(#gRed)"/><ellipse cx="666.4" cy="857" rx="13.1" ry="7.7" fill="#fbd2d3" opacity="0.85"/><circle cx="666.4" cy="857" r="7.5" fill="url(#gRed)"/><ellipse cx="709.5" cy="845.7" rx="14" ry="8.2" fill="#fbd2d3" opacity="0.85"/><circle cx="709.5" cy="845.7" r="8" fill="url(#gRed)"/><ellipse cx="763.8" cy="832.4" rx="15.8" ry="9.2" fill="#fbd2d3" opacity="0.85"/><circle cx="763.8" cy="832.4" r="9" fill="url(#gRed)"/><ellipse cx="774.3" cy="863.3" rx="12.2" ry="7.1" fill="#fbd2d3" opacity="0.85"/><circle cx="774.3" cy="863.3" r="7" fill="url(#gRed)"/><ellipse cx="826.4" cy="852.8" rx="13.7" ry="8" fill="#fbd2d3" opacity="0.85"/><circle cx="826.4" cy="852.8" r="7.8" fill="url(#gRed)"/><ellipse cx="822.6" cy="876.3" rx="10.5" ry="6.1" fill="#fbd2d3" opacity="0.85"/><circle cx="822.6" cy="876.3" r="6" fill="url(#gRed)"/><ellipse cx="889.8" cy="839.8" rx="14.9" ry="8.7" fill="#fbd2d3" opacity="0.85"/><circle cx="889.8" cy="839.8" r="8.5" fill="url(#gRed)"/><ellipse cx="929.5" cy="859.3" rx="12.6" ry="7.3" fill="#fbd2d3" opacity="0.85"/><circle cx="929.5" cy="859.3" r="7.2" fill="url(#gRed)"/><ellipse cx="958.3" cy="873.6" rx="10.5" ry="6.1" fill="#fbd2d3" opacity="0.85"/><circle cx="958.3" cy="873.6" r="6" fill="url(#gRed)"/><ellipse cx="1001" cy="847.6" rx="14" ry="8.2" fill="#fbd2d3" opacity="0.85"/><circle cx="1001" cy="847.6" r="8" fill="url(#gRed)"/><ellipse cx="1021.8" cy="865" rx="12.2" ry="7.1" fill="#fbd2d3" opacity="0.85"/><circle cx="1021.8" cy="865" r="7" fill="url(#gRed)"/><ellipse cx="1098.5" cy="854.4" rx="13.1" ry="7.7" fill="#fbd2d3" opacity="0.85"/><circle cx="1098.5" cy="854.4" r="7.5" fill="url(#gRed)"/><circle cx="688" cy="1050" r="6" fill="url(#gBlu)"/><circle cx="668" cy="1057" r="7.3" fill="url(#gBlu)"/><circle cx="641" cy="1069.3" r="8.5" fill="url(#gBlu)"/><circle cx="804.7" cy="1038.7" r="5.5" fill="url(#gBlu)"/><circle cx="797.2" cy="1047" r="6.3" fill="url(#gBlu)"/><circle cx="788.8" cy="1057.2" r="7" fill="url(#gBlu)"/><circle cx="778.2" cy="1069" r="8.3" fill="url(#gBlu)"/><circle cx="902" cy="1038.7" r="6" fill="url(#gBlu)"/><circle cx="905.7" cy="1047" r="6.5" fill="url(#gBlu)"/><circle cx="909.5" cy="1057" r="7.3" fill="url(#gBlu)"/><circle cx="915" cy="1069" r="8.3" fill="url(#gBlu)"/><circle cx="1013.8" cy="1046.8" r="6.3" fill="url(#gBlu)"/><circle cx="1031" cy="1057" r="7.5" fill="url(#gBlu)"/><circle cx="1052.4" cy="1069.3" r="8.5" fill="url(#gBlu)"/><path d="M579.4 919.2L583.5 900L590 880.2L590 880.2C591.8 880.6 597.5 881.2 600.5 882.6C603.5 884 605.8 886.1 608 888.5C610.2 890.9 613 895.6 614 897L614 897L625 871.2L625 871.2C626.5 871.6 630.7 871.5 634 873.5C637.3 875.5 641.9 880.1 645 883C648.1 885.9 651.2 889.7 652.5 891L652.5 891L660 872L667.2 859L667.2 859C669.6 859.8 677.5 861.6 681.8 863.9C686.1 866.2 689.5 869.8 693 873C696.5 876.2 701.3 881.3 703 883L703 883L707.8 873.7L716 856L716 856C716.5 854.6 717.8 849.4 719 847.5C720.2 845.6 720.4 844.3 723 844.6C725.6 844.9 730.4 846.6 734.5 849.5C738.6 852.4 743.4 857.6 747.5 861.7C751.6 865.8 755.5 870.2 759 873.9C762.5 877.6 767.1 882.1 768.7 883.7L768.7 883.7C770.6 881.9 776.5 875.7 780 873C783.5 870.3 786.5 868.5 789.8 867.4C793.1 866.2 796.1 865.5 799.6 866.1C803.1 866.7 807.8 868.9 811 870.7C814.2 872.6 816.7 875.3 819 877.2C821.3 879.1 823.8 881.2 824.8 882L824.8 882C826.5 880.1 831.9 874.2 835.3 870.7C838.7 867.2 841.8 863.5 845 860.9C848.2 858.3 851.5 856.4 854.8 855.2C858.1 854.1 861.1 853.5 864.6 854C868.1 854.5 872.5 856.3 876 858.5C879.5 860.7 882.4 864.1 885.7 867.4C889 870.6 894.3 876.2 896 878L896 878C897.4 877.2 901.6 874 904.3 873C907 872 909.1 871.5 912.4 872C915.6 872.5 919.7 873.8 923.8 876.3C927.9 878.8 934.6 885.2 936.8 887L936.8 887C938.2 886.8 942.6 885.5 945 885.5C947.4 885.5 950.3 886.7 951.4 886.9L951.4 886.9C953 885.3 957.7 880.6 961.2 877.2C964.7 873.8 968.3 869.3 972.6 866.6C976.9 863.9 982.9 861.2 987.2 860.9C991.5 860.6 994.8 862.3 998.6 865C1002.4 867.7 1006.2 874.6 1010 877C1013.8 879.4 1017.2 877.4 1021.3 879.6C1025.3 881.8 1030.5 886.6 1034.3 890.2C1038.1 893.9 1041.5 898.7 1044 901.5C1046.5 904.3 1048.4 906.2 1049.3 907.2L1049.3 907.2C1050.9 905.2 1055.2 899.7 1059 895C1062.8 890.3 1067.9 883 1072 878.8C1076.1 874.6 1079.6 871.6 1083.4 869.8C1087.2 867.9 1091 867 1094.8 867.7C1098.6 868.4 1102.4 870.6 1106.2 873.9C1110 877.2 1113.8 883.1 1117.6 887.7C1121.4 892.3 1125.8 897.8 1129 901.5C1132.2 905.2 1134.6 907.8 1137 909.7C1139.4 911.6 1140.3 914.3 1143.6 912.9C1146.9 911.5 1152.3 906.1 1156.6 901.5C1160.9 896.9 1165 889.9 1169.6 885.3C1174.2 880.7 1181.8 875.8 1184.2 873.9L1184.2 873.9C1182 876.6 1175 885.3 1171.2 890.2C1167.4 895.1 1165 899.1 1161.5 903.2C1158 907.3 1153.2 912.3 1150 914.6C1146.8 916.9 1144.7 914.8 1142 917C1139.3 919.2 1136.8 923.7 1133.8 927.6C1130.8 931.5 1127.8 936.5 1124 940.6C1120.2 944.7 1115.3 949.5 1111 952C1106.7 954.5 1102.3 955.6 1098 955.5C1093.7 955.4 1089.3 953.9 1085 951.1C1080.7 948.4 1076 943.2 1072 939C1068 934.8 1062.9 928.4 1060.7 925.9C1058.5 923.4 1059.3 924.6 1059 924.3L1059 924.3C1056.6 927 1048.9 936.1 1044.4 940.6C1039.9 945.1 1035.2 949.1 1032 951.5C1028.8 953.9 1027.2 954.7 1025 955C1022.8 955.3 1020.4 954 1019 953.3C1017.6 952.6 1016.9 951.4 1016.5 951L1016.5 951C1015.6 951.5 1013.5 953.3 1011 954C1008.5 954.7 1005.5 955.4 1001.8 955.2C998.1 955 992.6 954.4 988.8 952.8C985 951.2 980.6 946.6 979 945.4L979 945.4C977.7 946.6 974.2 950.8 971 952.8C967.8 954.8 962.9 956.7 959.6 957.2C956.3 957.7 954.1 957 951.4 956C948.7 955 944.6 951.8 943.3 951L943.3 951C942.1 951.7 938.4 954.2 936 955C933.6 955.8 931.8 956.2 928.7 956C925.6 955.8 920.4 955.2 917.3 953.6C914.2 952 911.2 947.5 910 946.3L910 946.3C908.2 947.5 903.3 951.9 899 953.5C894.7 955.1 888.9 955.5 884 956C879.1 956.5 873.8 957.2 869.5 956.5C865.2 955.8 861.4 954.1 858 952C854.6 949.9 850.5 945.2 849 943.8L849 943.8C847.3 945.4 842.5 951.4 838.6 953.6C834.7 955.8 829.4 956.5 825.6 956.8C821.8 957.1 819.1 956.6 815.8 955.2C812.5 953.9 808.7 951 806 948.7C803.3 946.4 800.7 942.6 799.6 941.4L799.6 941.4C798.5 942.1 795.7 943.6 793 945.4C790.3 947.2 787.3 950.4 783.3 952C779.2 953.6 773 954.8 768.7 955.2C764.4 955.6 760.8 955.2 757.3 954.4C753.8 953.6 749.1 951 747.5 950.3L747.5 950.3C746.2 951.1 742.7 953.9 740 955C737.3 956.1 734.3 956.7 731.3 956.8C728.3 956.9 725.4 955.8 722 955.5C718.6 955.2 715 955.6 711 955C707 954.4 701.8 953.2 698 951.7C694.2 950.2 689.9 947 688.3 946L688.3 946C686.7 947.2 682.1 951.7 678.6 953.3C675.1 954.9 671 955.8 667.2 955.8C663.4 955.8 658.9 954.4 655.8 953.3C652.7 952.2 649.7 950 648.5 949.3L648.5 949.3C647.5 950 645.6 952.2 642.8 953.3C639.9 954.4 635.2 956.1 631.4 955.8C627.6 955.5 624.1 954 620 951.7C615.9 949.4 611.6 946.3 607 942C602.4 937.7 597 929.5 592.4 925.7C587.8 921.9 581.6 920.3 579.4 919.2Z" fill="url(#gBT)"/><clipPath id="clipBT"><path d="M579.4 919.2L583.5 900L590 880.2L590 880.2C591.8 880.6 597.5 881.2 600.5 882.6C603.5 884 605.8 886.1 608 888.5C610.2 890.9 613 895.6 614 897L614 897L625 871.2L625 871.2C626.5 871.6 630.7 871.5 634 873.5C637.3 875.5 641.9 880.1 645 883C648.1 885.9 651.2 889.7 652.5 891L652.5 891L660 872L667.2 859L667.2 859C669.6 859.8 677.5 861.6 681.8 863.9C686.1 866.2 689.5 869.8 693 873C696.5 876.2 701.3 881.3 703 883L703 883L707.8 873.7L716 856L716 856C716.5 854.6 717.8 849.4 719 847.5C720.2 845.6 720.4 844.3 723 844.6C725.6 844.9 730.4 846.6 734.5 849.5C738.6 852.4 743.4 857.6 747.5 861.7C751.6 865.8 755.5 870.2 759 873.9C762.5 877.6 767.1 882.1 768.7 883.7L768.7 883.7C770.6 881.9 776.5 875.7 780 873C783.5 870.3 786.5 868.5 789.8 867.4C793.1 866.2 796.1 865.5 799.6 866.1C803.1 866.7 807.8 868.9 811 870.7C814.2 872.6 816.7 875.3 819 877.2C821.3 879.1 823.8 881.2 824.8 882L824.8 882C826.5 880.1 831.9 874.2 835.3 870.7C838.7 867.2 841.8 863.5 845 860.9C848.2 858.3 851.5 856.4 854.8 855.2C858.1 854.1 861.1 853.5 864.6 854C868.1 854.5 872.5 856.3 876 858.5C879.5 860.7 882.4 864.1 885.7 867.4C889 870.6 894.3 876.2 896 878L896 878C897.4 877.2 901.6 874 904.3 873C907 872 909.1 871.5 912.4 872C915.6 872.5 919.7 873.8 923.8 876.3C927.9 878.8 934.6 885.2 936.8 887L936.8 887C938.2 886.8 942.6 885.5 945 885.5C947.4 885.5 950.3 886.7 951.4 886.9L951.4 886.9C953 885.3 957.7 880.6 961.2 877.2C964.7 873.8 968.3 869.3 972.6 866.6C976.9 863.9 982.9 861.2 987.2 860.9C991.5 860.6 994.8 862.3 998.6 865C1002.4 867.7 1006.2 874.6 1010 877C1013.8 879.4 1017.2 877.4 1021.3 879.6C1025.3 881.8 1030.5 886.6 1034.3 890.2C1038.1 893.9 1041.5 898.7 1044 901.5C1046.5 904.3 1048.4 906.2 1049.3 907.2L1049.3 907.2C1050.9 905.2 1055.2 899.7 1059 895C1062.8 890.3 1067.9 883 1072 878.8C1076.1 874.6 1079.6 871.6 1083.4 869.8C1087.2 867.9 1091 867 1094.8 867.7C1098.6 868.4 1102.4 870.6 1106.2 873.9C1110 877.2 1113.8 883.1 1117.6 887.7C1121.4 892.3 1125.8 897.8 1129 901.5C1132.2 905.2 1134.6 907.8 1137 909.7C1139.4 911.6 1140.3 914.3 1143.6 912.9C1146.9 911.5 1152.3 906.1 1156.6 901.5C1160.9 896.9 1165 889.9 1169.6 885.3C1174.2 880.7 1181.8 875.8 1184.2 873.9L1184.2 873.9C1182 876.6 1175 885.3 1171.2 890.2C1167.4 895.1 1165 899.1 1161.5 903.2C1158 907.3 1153.2 912.3 1150 914.6C1146.8 916.9 1144.7 914.8 1142 917C1139.3 919.2 1136.8 923.7 1133.8 927.6C1130.8 931.5 1127.8 936.5 1124 940.6C1120.2 944.7 1115.3 949.5 1111 952C1106.7 954.5 1102.3 955.6 1098 955.5C1093.7 955.4 1089.3 953.9 1085 951.1C1080.7 948.4 1076 943.2 1072 939C1068 934.8 1062.9 928.4 1060.7 925.9C1058.5 923.4 1059.3 924.6 1059 924.3L1059 924.3C1056.6 927 1048.9 936.1 1044.4 940.6C1039.9 945.1 1035.2 949.1 1032 951.5C1028.8 953.9 1027.2 954.7 1025 955C1022.8 955.3 1020.4 954 1019 953.3C1017.6 952.6 1016.9 951.4 1016.5 951L1016.5 951C1015.6 951.5 1013.5 953.3 1011 954C1008.5 954.7 1005.5 955.4 1001.8 955.2C998.1 955 992.6 954.4 988.8 952.8C985 951.2 980.6 946.6 979 945.4L979 945.4C977.7 946.6 974.2 950.8 971 952.8C967.8 954.8 962.9 956.7 959.6 957.2C956.3 957.7 954.1 957 951.4 956C948.7 955 944.6 951.8 943.3 951L943.3 951C942.1 951.7 938.4 954.2 936 955C933.6 955.8 931.8 956.2 928.7 956C925.6 955.8 920.4 955.2 917.3 953.6C914.2 952 911.2 947.5 910 946.3L910 946.3C908.2 947.5 903.3 951.9 899 953.5C894.7 955.1 888.9 955.5 884 956C879.1 956.5 873.8 957.2 869.5 956.5C865.2 955.8 861.4 954.1 858 952C854.6 949.9 850.5 945.2 849 943.8L849 943.8C847.3 945.4 842.5 951.4 838.6 953.6C834.7 955.8 829.4 956.5 825.6 956.8C821.8 957.1 819.1 956.6 815.8 955.2C812.5 953.9 808.7 951 806 948.7C803.3 946.4 800.7 942.6 799.6 941.4L799.6 941.4C798.5 942.1 795.7 943.6 793 945.4C790.3 947.2 787.3 950.4 783.3 952C779.2 953.6 773 954.8 768.7 955.2C764.4 955.6 760.8 955.2 757.3 954.4C753.8 953.6 749.1 951 747.5 950.3L747.5 950.3C746.2 951.1 742.7 953.9 740 955C737.3 956.1 734.3 956.7 731.3 956.8C728.3 956.9 725.4 955.8 722 955.5C718.6 955.2 715 955.6 711 955C707 954.4 701.8 953.2 698 951.7C694.2 950.2 689.9 947 688.3 946L688.3 946C686.7 947.2 682.1 951.7 678.6 953.3C675.1 954.9 671 955.8 667.2 955.8C663.4 955.8 658.9 954.4 655.8 953.3C652.7 952.2 649.7 950 648.5 949.3L648.5 949.3C647.5 950 645.6 952.2 642.8 953.3C639.9 954.4 635.2 956.1 631.4 955.8C627.6 955.5 624.1 954 620 951.7C615.9 949.4 611.6 946.3 607 942C602.4 937.7 597 929.5 592.4 925.7C587.8 921.9 581.6 920.3 579.4 919.2Z"/></clipPath><g clip-path="url(#clipBT)"><linearGradient id="gEd0" gradientUnits="userSpaceOnUse" x1="616.9" y1="893.2" x2="603.7" y2="888.3"><stop offset="0" stop-color="#3fa6ee" stop-opacity="0.24"/><stop offset="1" stop-color="#3fa6ee" stop-opacity="0"/></linearGradient><linearGradient id="gEl0" gradientUnits="userSpaceOnUse" x1="616.9" y1="893.2" x2="635.6" y2="900.1"><stop offset="0" stop-color="#d2f1ff" stop-opacity="0.3"/><stop offset="1" stop-color="#d2f1ff" stop-opacity="0"/></linearGradient><path d="M627.1 865.6L608 917L594.9 912.1L614 860.7Z" fill="url(#gEd0)"/><path d="M627.1 865.6L608 917L621.9 937.1L645.8 872.5Z" fill="url(#gEl0)"/><linearGradient id="gEd1" gradientUnits="userSpaceOnUse" x1="657" y1="884.6" x2="644" y2="879.4"><stop offset="0" stop-color="#3fa6ee" stop-opacity="0.24"/><stop offset="1" stop-color="#3fa6ee" stop-opacity="0"/></linearGradient><linearGradient id="gEl1" gradientUnits="userSpaceOnUse" x1="657" y1="884.6" x2="675.6" y2="892"><stop offset="0" stop-color="#d2f1ff" stop-opacity="0.3"/><stop offset="1" stop-color="#d2f1ff" stop-opacity="0"/></linearGradient><path d="M669.4 853.4L646.2 912.1L633.1 906.9L656.4 848.3Z" fill="url(#gEd1)"/><path d="M669.4 853.4L646.2 912.1L659.6 932.4L688 860.8Z" fill="url(#gEl1)"/><linearGradient id="gEd2" gradientUnits="userSpaceOnUse" x1="707.9" y1="874" x2="695.4" y2="867.7"><stop offset="0" stop-color="#3fa6ee" stop-opacity="0.24"/><stop offset="1" stop-color="#3fa6ee" stop-opacity="0"/></linearGradient><linearGradient id="gEl2" gradientUnits="userSpaceOnUse" x1="707.9" y1="874" x2="725.7" y2="883.1"><stop offset="0" stop-color="#d2f1ff" stop-opacity="0.3"/><stop offset="1" stop-color="#d2f1ff" stop-opacity="0"/></linearGradient><path d="M725.2 839.9L692.3 904.7L679.8 898.3L712.7 833.5Z" fill="url(#gEd2)"/><path d="M725.2 839.9L692.3 904.7L703.8 926.2L743 848.9Z" fill="url(#gEl2)"/></g><path d="M1033.8 1006.7C1035.5 1008.3 1041.2 1013.6 1044.2 1016.1C1047.2 1018.6 1049.2 1020.3 1051.8 1021.7C1054.4 1023.1 1058.4 1024 1059.7 1024.4L1059.7 1024.4C1059 1023.1 1057.1 1019.1 1055.8 1016.7C1054.5 1014.3 1053.3 1012.3 1052 1010C1050.7 1007.7 1048.5 1003.9 1047.8 1002.7Z" fill="url(#gBL)"/><path d="M1041.8 1008.7C1043.9 1010.4 1049.6 1015.7 1054.2 1018.9C1058.8 1022.1 1065.2 1025.7 1069.6 1027.7C1074 1029.7 1078.8 1030.5 1080.7 1031L1080.7 1031C1079.2 1029.1 1075.1 1023.8 1071.8 1019.7C1068.5 1015.7 1063.8 1010.2 1060.8 1006.7C1057.8 1003.2 1055 1000 1053.8 998.7Z" fill="url(#gBL)"/><path d="M1053.8 1006.7C1055.8 1008.3 1062.4 1013.4 1065.8 1016.2C1069.2 1019 1069.9 1020.3 1074 1023.3C1078.1 1026.3 1085.2 1031.6 1090.6 1034.3C1095.9 1037 1103.5 1038.5 1106.1 1039.3L1106.1 1039.3C1104.8 1037.2 1101.8 1031.3 1098.3 1026.6C1094.8 1021.9 1089.2 1015.4 1085.1 1011.1C1081 1006.8 1075.7 1002.4 1073.8 1000.7Z" fill="url(#gBL)"/><path d="M633.2 1001.3C632.5 1002.1 631.7 1004 628.8 1006.3C625.9 1008.6 620.3 1011.1 615.7 1015.3C611.1 1019.5 605.2 1027.6 601.2 1031.6C597.2 1035.5 593 1037.8 591.4 1039L591.4 1039C591.9 1037 592.6 1031.5 594.2 1027.3C595.8 1023.1 597.9 1017.8 601.2 1013.8C604.5 1009.8 612 1005 614.2 1003.3Z" fill="url(#gBL2)"/><path d="M641.2 1003.3C641.3 1006.1 643.8 1016.3 641.8 1020.3C639.8 1024.3 632.7 1025.5 629.2 1027.3C625.7 1029 622 1030.2 620.6 1030.8L620.6 1030.8C621.4 1028.9 622.8 1023.4 625.2 1019.3C627.6 1015.2 633.5 1008.5 635.2 1006.3Z" fill="url(#gBL2)"/><path d="M653.2 1011.3C653.2 1013.1 654.8 1020 653.2 1022.3C651.6 1024.6 645 1024.6 643.4 1025.1L643.4 1025.1C643.9 1023.8 645.4 1019.9 646.2 1017.3C647 1014.7 647.9 1010.6 648.2 1009.3Z" fill="url(#gBL2)"/><path d="M569.4 1002.9C571.3 1002.4 576.2 1002.1 580.8 999.7C585.4 997.3 591.6 993.2 597 988.3C602.4 983.4 608.4 975.1 613.3 970.4C618.2 965.6 622.2 962.2 626.3 959.8C630.4 957.4 633.9 956.5 637.7 956.1C641.5 955.7 644.1 957.5 649 957.6C653.9 957.8 660.4 957.1 667.2 957C674 956.9 683.5 956.9 690 957C696.5 957.1 702 957.2 706.2 957.6C710.4 958 711.9 957.5 715 959.3C718.1 961.1 721.8 965.4 724.8 968.2C727.8 971 730.5 973.9 732.9 976.3C735.3 978.7 738.3 981.4 739.4 982.4L739.4 982.4C740.8 980.9 744.5 976.3 747.5 973.1C750.5 969.9 753.8 966 757.3 963.3C760.8 960.6 764.9 958 768.7 956.8C772.5 955.6 776 955.9 780 956C784 956.1 788.7 956.8 793 957.5C797.3 958.2 801.7 958.7 806 960.5C810.3 962.3 815.2 965.3 819 968.2C822.8 971.1 825.3 975 828.8 978C832.3 981 836.1 984.1 840.2 986.1C844.3 988.1 849.1 990.1 853.2 990.2C857.3 990.3 860.6 989.2 864.6 986.9C868.6 984.6 873.4 979.9 877 976.3C880.6 972.7 882.8 968.5 886 965.5C889.2 962.5 891.6 960.2 896 958.5C900.4 956.8 907.2 955.2 912.4 955.5C917.6 955.8 922.4 957.6 927 960C931.6 962.4 935.9 966.4 940 969.8C944.1 973.2 948 977.5 951.4 980.4C954.8 983.3 958.9 986.2 960.4 987.4L960.4 987.4C961.9 986.1 966.2 982.5 969.3 979.6C972.4 976.7 975.8 972.8 979 969.8C982.2 966.8 985.5 963.6 988.8 961.7C992.1 959.8 993.2 959.3 998.6 958.5C1004 957.7 1015 957.1 1021.3 956.8C1027.6 956.5 1031.1 956.8 1036.3 956.5C1041.5 956.2 1047.6 954.9 1052.5 955.2C1057.4 955.5 1061.2 956.3 1065.5 958.5C1069.8 960.7 1074.2 964.4 1078.5 968.2C1082.8 972 1087.2 977.1 1091.5 981.2C1095.8 985.3 1100.2 989.5 1104.6 992.6C1108.9 995.7 1114.7 998.6 1117.6 999.9C1120.5 1001.2 1121.3 1000.4 1122 1000.5L1122 1000.5C1123.1 1003.9 1126.6 1014.4 1128.5 1020.8C1130.4 1027.2 1131.7 1033.7 1133.3 1038.7C1134.9 1043.7 1137.4 1048.9 1138.2 1050.9L1138.2 1050.9C1136.3 1050 1130.9 1047.8 1126.8 1045.2C1122.7 1042.6 1118.1 1038.9 1113.8 1035.4C1109.5 1031.9 1105.1 1027.8 1100.8 1024C1096.5 1020.2 1092.1 1015.9 1087.8 1012.7C1083.5 1009.5 1078.6 1006.2 1074.8 1004.6C1071 1003 1068.2 1002.8 1065 1002.9C1061.8 1003 1059.3 1002.9 1055.3 1005.4C1051.2 1007.9 1045.6 1013.1 1040.7 1017.6C1035.8 1022.1 1030.6 1027.9 1026 1032.2C1021.4 1036.5 1017.3 1040.6 1013 1043.6C1008.7 1046.6 1003.8 1048.8 1000 1050C996.2 1051.2 994.8 1052 990.2 1050.9C985.6 1049.8 978.9 1047.1 972.6 1043.3C966.3 1039.5 959.1 1033.8 952.4 1028.1C945.7 1022.4 938.1 1013.3 932.2 1009.2C926.3 1005.1 922.5 1003.2 917 1003.4C911.5 1003.6 905.3 1006.4 899.4 1010.5C893.5 1014.6 888 1022 881.7 1028.1C875.4 1034.2 867.6 1043.1 861.5 1047C855.4 1050.9 850 1051.2 845 1051.4C840 1051.6 836.4 1050.9 831.2 1048.3C826 1045.7 819.5 1040.8 813.6 1035.7C807.7 1030.7 801.8 1023.1 795.9 1018C790 1012.9 781.2 1007.1 778.2 1004.9L778.2 1004.9C777 1005.6 775.3 1005.5 770.7 1009.2C766.1 1012.9 757.3 1022.1 750.5 1026.9C743.7 1031.7 736.9 1034.2 730 1038C723.1 1041.8 714.8 1047.8 709.2 1050C703.6 1052.2 700.3 1051.8 696.2 1051.4C692.1 1051 688.3 1049.4 684.8 1047.6C681.3 1045.8 678.8 1043.4 675 1040.3C671.2 1037.2 666.3 1033.1 662 1029C657.7 1024.9 653.3 1019.7 649 1015.9C644.7 1012.1 640 1008.4 636 1006.2C632 1004 628.2 1003 624.7 1002.9C621.2 1002.8 618.8 1003.5 615 1005.4C611.2 1007.3 606.9 1010.1 602 1014.3C597.1 1018.5 591.1 1025.4 585.7 1030.6C580.3 1035.8 575 1041.7 569.4 1045.2C563.8 1048.7 555.1 1050.4 552.3 1051.4L552.3 1051.4C553.5 1047.9 556.8 1038.7 559.6 1030.6C562.5 1022.5 567.8 1007.5 569.4 1002.9Z" fill="url(#gBF)"/><path d="M637.7 956.1C639.6 956.6 645 956.9 649 959C653 961.1 657.7 965.1 662 968.8C666.3 972.5 670.7 977.1 675 981C679.3 984.9 683.7 989.4 688 992.4C692.3 995.4 697.2 997.5 701 998.9C704.8 1000.2 706.9 1000.9 710.9 1000.5C714.9 1000.1 722.6 997.1 725 996.4" fill="none" stroke="#86efff" stroke-width="1" opacity="0.9"/><path d="M649.7 956.1C651.6 956.6 657 956.9 661 959C665 961.1 669.7 965.1 674 968.8C678.3 972.5 682.7 977.1 687 981C691.3 984.9 695.7 989.4 700 992.4C704.3 995.4 709.2 997.5 713 998.9C716.8 1000.2 721.2 1000.2 722.9 1000.5" fill="none" stroke="#86efff" stroke-width="1" opacity="0.6"/><path d="M660.7 956.1C662.6 956.6 668 956.9 672 959C676 961.1 680.7 965.1 685 968.8C689.3 972.5 693.7 977.1 698 981C702.3 984.9 706.7 989.4 711 992.4C715.3 995.4 720.2 997.5 724 998.9C727.8 1000.2 732.2 1000.2 733.9 1000.5" fill="none" stroke="#86efff" stroke-width="1" opacity="0.5"/><path d="M793 958.5C795.2 959.8 801.7 962.8 806 966C810.3 969.2 814.7 974 819 978C823.3 982 827.7 986.7 832 990C836.3 993.3 841 996.2 845 998C849 999.8 852.2 1000.7 856 1000.5C859.8 1000.3 864 999.4 868 997C872 994.6 876.3 989.8 880 986C883.7 982.2 888.3 976 890 974" fill="none" stroke="#86efff" stroke-width="1" opacity="0.8"/><path d="M798 956C800.2 957.2 806.7 960.2 811 963.5C815.3 966.8 819.7 971.5 824 975.5C828.3 979.5 832.7 984.2 837 987.5C841.3 990.8 846 993.8 850 995.5C854 997.2 857.2 998.2 861 998C864.8 997.8 869 996.9 873 994.5C877 992.1 881.3 987.3 885 983.5C888.7 979.7 893.3 973.5 895 971.5" fill="none" stroke="#86efff" stroke-width="1" opacity="0.6"/><path d="M803 953.5C805.2 954.8 811.7 957.8 816 961C820.3 964.2 824.7 969 829 973C833.3 977 837.7 981.7 842 985C846.3 988.3 851 991.2 855 993C859 994.8 862.2 995.7 866 995.5C869.8 995.3 874 994.4 878 992C882 989.6 886.3 984.8 890 981C893.7 977.2 898.3 971 900 969" fill="none" stroke="#86efff" stroke-width="1" opacity="0.5"/><path d="M960.4 987.4C962.8 989.2 970.1 995.8 975 998C979.9 1000.2 985.3 1001.2 990 1000.5C994.7 999.8 998.7 997.2 1003 994C1007.3 990.8 1011.5 985.7 1016 981C1020.5 976.3 1025.7 969.8 1030 966C1034.3 962.2 1040 959.3 1042 958" fill="none" stroke="#86efff" stroke-width="1" opacity="0.9"/><path d="M949.4 982.4C951.8 984.2 959.1 990.8 964 993C968.9 995.2 974.3 996.2 979 995.5C983.7 994.8 987.7 992.2 992 989C996.3 985.8 1000.5 980.7 1005 976C1009.5 971.3 1016.7 963.5 1019 961" fill="none" stroke="#86efff" stroke-width="1" opacity="0.7"/><path d="M938.4 977.4C940.8 979.2 948.1 985.8 953 988C957.9 990.2 963.3 991.2 968 990.5C972.7 989.8 976.7 987.2 981 984C985.3 980.8 991.8 973.2 994 971" fill="none" stroke="#86efff" stroke-width="1" opacity="0.6"/><path d="M927.4 972.4C929.8 974.2 937.1 980.8 942 983C946.9 985.2 952.3 986.2 957 985.5C961.7 984.8 965.7 982.2 970 979C974.3 975.8 980.8 968.2 983 966" fill="none" stroke="#86efff" stroke-width="1" opacity="0.5"/><path d="M939 950.5C941 948.9 946.7 944.9 951 941C955.3 937.1 961.2 930.9 964.7 927.4C968.2 923.9 970.8 921.2 972 920" fill="none" stroke="#86efff" stroke-width="1" opacity="0.7"/><path d="M1008.3 950.5C1010.2 948.4 1016 942.4 1020 938C1024 933.6 1028.2 927.7 1032 924C1035.8 920.3 1039.7 917.6 1043 916C1046.3 914.4 1049.2 913.1 1051.9 914.6C1054.7 916.1 1058.2 923.1 1059.5 924.8" fill="none" stroke="#86efff" stroke-width="1" opacity="0.7"/><path d="M998 953C1000 951 1006 945.3 1010 941C1014 936.7 1018 931 1022 927C1026 923 1030.2 919.1 1034 917C1037.8 914.9 1042.8 915 1044.5 914.6" fill="none" stroke="#86efff" stroke-width="1" opacity="0.7"/><path d="M646.9 910.2C649.1 911.2 655.3 912.7 660 916C664.7 919.3 670 925.3 675 930C680 934.7 685 940.3 690 944C695 947.7 702.5 950.7 705 952" fill="none" stroke="#86efff" stroke-width="1" opacity="0.7"/><path d="M608.9 915.2C611.1 916.2 617.3 917.7 622 921C626.7 924.3 632 930.3 637 935C642 939.7 647 945.3 652 949C657 952.7 664.5 955.7 667 957" fill="none" stroke="#86efff" stroke-width="1" opacity="0.7"/><path d="M692.9 903.2C695.1 904.2 701.3 905.7 706 909C710.7 912.3 716 918.3 721 923C726 927.7 731 933.3 736 937C741 940.7 748.5 943.7 751 945" fill="none" stroke="#86efff" stroke-width="1" opacity="0.7"/><path d="M768.7 955.2C771.4 954 779.9 951.7 785 948C790.1 944.3 795.1 938 799.6 933C804.1 928 807.6 922.2 812 918C816.4 913.8 821.7 909.2 826 908C830.3 906.8 834 908.2 838 911C842 913.8 846 920.2 850 925C854 929.8 857 935.2 862 940C867 944.8 877 951.7 880 954" fill="none" stroke="#86efff" stroke-width="1" opacity="0.7"/><path d="M896 954.4C898.7 952.8 907.2 949.1 912 945C916.8 940.9 920.7 935 925 930C929.3 925 934.2 918.3 938 915C941.8 911.7 944.7 909.7 948 910C951.3 910.3 954.7 913.7 958 917C961.3 920.3 964.5 925.3 968 930C971.5 934.7 977.2 942.5 979 945" fill="none" stroke="#86efff" stroke-width="1" opacity="0.7"/><path d="M536.2 586.2L536.2 605L536.5 606L537.3 606.9L538.6 607.9L540.3 608.9L542.4 609.9L544.8 610.8L547.2 611.8L549.6 612.8L552 613.7L554.1 614.7L555.8 615.7L557.1 616.7L557.9 617.6L558.2 618.6L558.1 619.1L557.6 619.5L557 620L556 620.4L554.8 620.9L553.4 621.3L551.8 621.8L549.9 622.2L547.9 622.6L545.7 623.1L543.5 623.6L541.1 624L538.7 624.5L536.2 624.9L533.7 625.4L531.3 625.8L528.9 626.2L526.7 626.7L524.5 627.2L522.5 627.6L520.6 628.1L519 628.5L517.6 629L516.4 629.4L515.4 629.9L514.8 630.3L514.3 630.8L514.2 631.2L514.3 631.7L514.8 632.2L515.4 632.7L516.4 633.2L517.6 633.7L519 634.2L520.6 634.7L522.5 635.1L524.5 635.6L526.7 636.1L528.9 636.6L531.3 637.1L533.7 637.6L536.2 638.1L538.7 638.6L541.1 639.1L543.5 639.6L545.7 640.1L547.9 640.6L549.9 641.1L551.8 641.5L553.4 642L554.8 642.5L556 643L557 643.5L557.6 644L558.1 644.5L558.2 645L558.1 645.5L557.6 645.9L557 646.4L556 646.8L554.8 647.3L553.4 647.7L551.8 648.2L549.9 648.7L547.9 649.1L545.7 649.6L543.5 650L541.1 650.5L538.7 650.9L536.2 651.4L533.7 651.9L531.3 652.3L528.9 652.8L526.7 653.2L524.5 653.7L522.5 654.1L520.6 654.6L519 655.1L517.6 655.5L516.4 656L515.4 656.4L514.8 656.9L514.3 657.3L514.2 657.8L514.3 658.2L514.8 658.6L515.4 659.1L516.4 659.5L517.6 659.9L519 660.4L520.6 660.8L522.5 661.2L524.5 661.6L526.7 662L528.9 662.5L531.3 662.9L533.7 663.3L536.2 663.8L538.7 664.2L541.1 664.6L543.5 665L545.7 665.5L547.9 665.9L549.9 666.3L551.8 666.7L553.4 667.1L554.8 667.6L556 668L557 668.4L557.6 668.9L558.1 669.3L558.2 669.7L558.1 670.1L557.6 670.6L557 671L556 671.4L554.8 671.9L553.4 672.3L551.8 672.7L549.9 673.2L547.9 673.6L545.7 674L543.5 674.5L541.1 674.9L538.7 675.3L536.2 675.8L533.7 676.2L531.3 676.6L528.9 677L526.7 677.5L524.5 677.9L522.5 678.3L520.6 678.8L519 679.2L517.6 679.6L516.4 680.1L515.4 680.5L514.8 680.9L514.3 681.4L514.2 681.8L514.3 682.2L514.8 682.6L515.4 683L516.4 683.4L517.6 683.8L519 684.2L520.6 684.6L522.5 685.1L524.5 685.5L526.7 685.9L528.9 686.3L531.3 686.7L533.7 687.1L536.2 687.5L538.7 687.9L541.1 688.3L543.5 688.7L545.7 689.1L547.9 689.5L549.9 689.9L551.8 690.4L553.4 690.8L554.8 691.2L556 691.6L557 692L557.6 692.4L558.1 692.8L558.2 693.2L557.9 694.2L557.1 695.2L555.8 696.2L554.1 697.1L552 698.1L549.6 699.1L547.2 700.1L544.8 701.1L542.4 702.1L540.3 703.1L538.6 704L537.3 705L536.5 706L536.2 707L536.2 775" fill="none" stroke="url(#gW1)" stroke-width="4.4" stroke-linejoin="round" stroke-linecap="butt"/><path d="M529.6 773.5L536.2 776L542.8 773.5L536.2 789.5Z" fill="url(#gW1)"/><path d="M535.2 851.3L535.2 864L535.5 865L536.3 865.9L537.5 866.9L539.2 867.9L541.3 868.8L543.6 869.8L546 870.8L548.3 871.7L550.6 872.7L552.7 873.6L554.4 874.6L555.6 875.6L556.4 876.5L556.7 877.5L556.6 877.9L556.2 878.4L555.5 878.8L554.6 879.3L553.4 879.7L552 880.2L550.4 880.6L548.6 881.1L546.6 881.5L544.5 882L542.3 882.4L540 882.9L537.6 883.3L535.2 883.8L532.8 884.2L530.4 884.6L528.1 885.1L525.9 885.5L523.8 886L521.8 886.4L520 886.9L518.4 887.3L517 887.8L515.8 888.2L514.9 888.7L514.2 889.1L513.8 889.6L513.7 890L513.8 890.5L514.2 890.9L514.9 891.4L515.8 891.8L517 892.2L518.4 892.7L520 893.1L521.8 893.6L523.8 894L525.9 894.5L528.1 895L530.4 895.4L532.8 895.9L535.2 896.3L537.6 896.8L540 897.2L542.3 897.6L544.5 898.1L546.6 898.6L548.6 899L550.4 899.5L552 899.9L553.4 900.4L554.6 900.8L555.5 901.2L556.2 901.7L556.6 902.1L556.7 902.6L556.4 903.6L555.6 904.6L554.4 905.5L552.7 906.5L550.6 907.5L548.3 908.5L546 909.5L543.6 910.4L541.3 911.4L539.2 912.4L537.5 913.4L536.3 914.3L535.5 915.3L535.2 916.3L535.2 939.5" fill="none" stroke="url(#gW2)" stroke-width="4.4" stroke-linejoin="round" stroke-linecap="butt"/><path d="M528.6 938L535.2 940.5L541.8 938L535.2 952.8Z" fill="url(#gW2)"/><path d="M520.5 961.6L550 991.2M550 961.6L520.5 991.2" stroke="#8c8c8c" stroke-width="5.6" fill="none"/><path d="M833 582.6H864" stroke="#231815" stroke-width="1.3" fill="none"/><path d="M827 582.6L837.5 578.3L835 582.6L837.5 586.9ZM870 582.6L859.5 578.3L862 582.6L859.5 586.9Z" fill="#231815"/><g font-family='"Liberation Sans", Arial, Helvetica, sans-serif' font-size="24.25" fill="#000"><text x="536" y="568" text-anchor="middle">TA phonons</text><text x="848.3" y="568" text-anchor="middle">Vibrations</text><text x="432.5" y="677.3" text-anchor="middle">Locked</text><text x="432.8" y="706.4" text-anchor="middle">interface</text><text x="433" y="948.4" text-anchor="middle">Slippery</text><text x="432.6" y="977.4" text-anchor="middle">interface</text><text x="1265.3" y="604.6" text-anchor="end">Top layer</text><text x="1211" y="689.2" text-anchor="middle">Energy</text><text x="1265.3" y="718.6" text-anchor="end">landscape</text><text x="1265.3" y="795" text-anchor="end">Bottom layer</text><text x="1265.3" y="861.7" text-anchor="end">Top layer</text><text x="1211" y="951.2" text-anchor="middle">Energy</text><text x="1265.3" y="980" text-anchor="end">landscape</text><text x="1265.3" y="1080.3" text-anchor="end">Bottom layer</text></g><text x="372.8" y="567.2" font-family='"Liberation Sans", Arial, Helvetica, sans-serif' font-size="30" fill="#000">(d)</text></g>
</svg>
</body></html>
